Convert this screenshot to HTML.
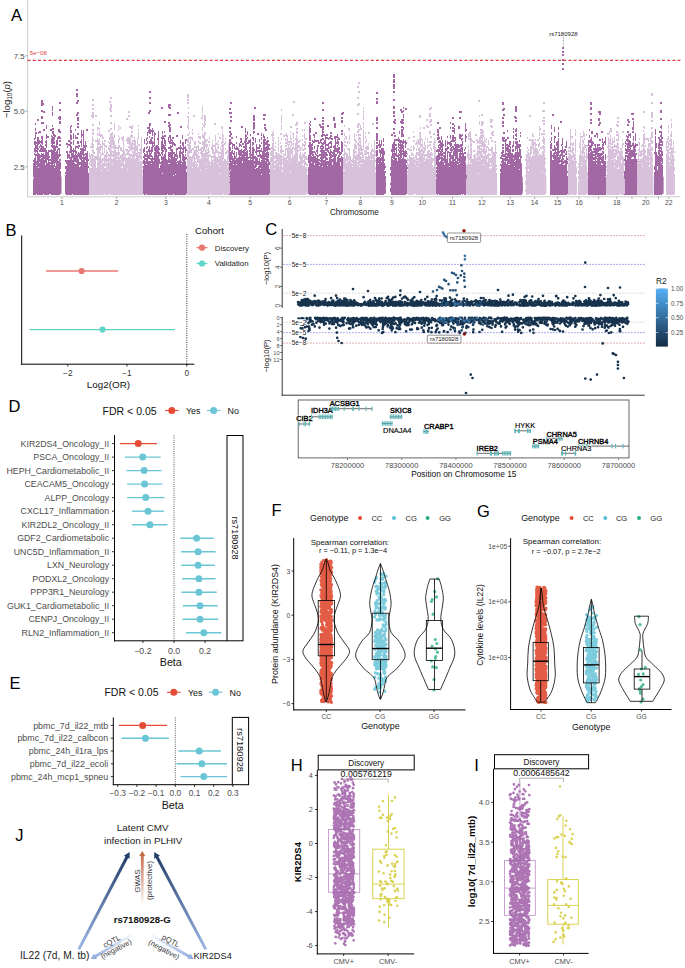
<!DOCTYPE html>
<html><head><meta charset="utf-8"><style>
html,body{margin:0;padding:0;background:#fff;}
body{width:685px;height:968px;overflow:hidden;}
svg{display:block;font-family:"Liberation Sans", sans-serif;}
</style></head><body>
<svg width="685" height="968" viewBox="0 0 685 968">
<rect width="685" height="968" fill="#fff"/>
<rect x="33.7" y="176.7" width="27.8" height="17.0" fill="#A168A4" stroke="none" stroke-width="1" /><rect x="65.7" y="176.7" width="23.4" height="17.0" fill="#A168A4" stroke="none" stroke-width="1" /><rect x="89.1" y="176.7" width="54.1" height="17.0" fill="#D8C1DB" stroke="none" stroke-width="1" /><rect x="143.2" y="176.7" width="44.0" height="17.0" fill="#A168A4" stroke="none" stroke-width="1" /><rect x="187.2" y="176.7" width="42.7" height="17.0" fill="#D8C1DB" stroke="none" stroke-width="1" /><rect x="229.9" y="176.7" width="40.2" height="17.0" fill="#A168A4" stroke="none" stroke-width="1" /><rect x="270.1" y="176.7" width="37.9" height="17.0" fill="#D8C1DB" stroke="none" stroke-width="1" /><rect x="308.0" y="176.7" width="35.6" height="17.0" fill="#A168A4" stroke="none" stroke-width="1" /><rect x="343.6" y="176.7" width="32.4" height="17.0" fill="#D8C1DB" stroke="none" stroke-width="1" /><rect x="376.0" y="176.7" width="9.8" height="17.0" fill="#A168A4" stroke="none" stroke-width="1" /><rect x="390.9" y="176.7" width="16.8" height="17.0" fill="#A168A4" stroke="none" stroke-width="1" /><rect x="407.7" y="176.7" width="28.9" height="17.0" fill="#D8C1DB" stroke="none" stroke-width="1" /><rect x="436.6" y="176.7" width="30.3" height="17.0" fill="#A168A4" stroke="none" stroke-width="1" /><rect x="466.9" y="176.7" width="30.2" height="17.0" fill="#D8C1DB" stroke="none" stroke-width="1" /><rect x="500.5" y="176.7" width="22.2" height="17.0" fill="#A168A4" stroke="none" stroke-width="1" /><rect x="525.9" y="176.7" width="20.5" height="17.0" fill="#D8C1DB" stroke="none" stroke-width="1" /><rect x="550.2" y="176.7" width="17.8" height="17.0" fill="#A168A4" stroke="none" stroke-width="1" /><rect x="568.0" y="176.7" width="9.0" height="17.0" fill="#D8C1DB" stroke="none" stroke-width="1" /><rect x="578.6" y="176.7" width="9.4" height="17.0" fill="#D8C1DB" stroke="none" stroke-width="1" /><rect x="588.0" y="176.7" width="18.7" height="17.0" fill="#A168A4" stroke="none" stroke-width="1" /><rect x="606.7" y="176.7" width="18.1" height="17.0" fill="#D8C1DB" stroke="none" stroke-width="1" /><rect x="624.8" y="176.7" width="12.9" height="17.0" fill="#A168A4" stroke="none" stroke-width="1" /><rect x="637.7" y="176.7" width="15.7" height="17.0" fill="#D8C1DB" stroke="none" stroke-width="1" /><rect x="654.7" y="176.7" width="8.9" height="17.0" fill="#A168A4" stroke="none" stroke-width="1" /><rect x="666.0" y="176.7" width="9.0" height="17.0" fill="#D8C1DB" stroke="none" stroke-width="1" /><path d="M33.5 160V162M33.5 163V177M33.5 179V195M34.5 138V140M34.5 141V145M34.5 148V152M34.5 153V155M34.5 158V195M35.5 123V125M35.5 128V131M35.5 132V139M35.5 141V153M35.5 154V195M36.5 132V134M36.5 142V144M36.5 145V149M36.5 150V152M36.5 154V156M36.5 161V165M36.5 166V194M37.5 119V121M37.5 137V195M38.5 119V121M38.5 132V134M38.5 137V145M38.5 148V150M38.5 153V167M38.5 168V195M39.5 131V133M39.5 140V144M39.5 146V148M39.5 150V152M39.5 154V162M39.5 163V195M40.5 131V133M40.5 141V143M40.5 144V147M40.5 148V152M40.5 155V158M40.5 159V195M41.5 100V106M41.5 110V112M41.5 116V119M41.5 122V124M41.5 136V139M41.5 140V144M41.5 145V152M41.5 153V157M41.5 158V195M42.5 100V106M42.5 110V112M42.5 116V119M42.5 122V124M42.5 136V145M42.5 146V152M42.5 154V195M43.5 103V105M43.5 111V113M43.5 122V124M43.5 129V131M43.5 146V152M43.5 153V194M44.5 111V113M44.5 129V131M44.5 148V152M44.5 155V159M44.5 160V195M45.5 141V143M45.5 144V146M45.5 148V163M45.5 165V195M46.5 125V129M46.5 134V139M46.5 140V148M46.5 150V195M47.5 136V138M47.5 152V160M47.5 163V195M48.5 136V138M48.5 150V195M49.5 150V152M49.5 156V158M49.5 159V161M49.5 162V194M50.5 129V131M50.5 150V152M50.5 159V161M50.5 162V164M50.5 165V194M51.5 129V131M51.5 135V137M51.5 138V144M51.5 145V147M51.5 149V195M52.5 106V111M52.5 112V116M52.5 125V127M52.5 128V130M52.5 131V134M52.5 136V148M52.5 150V195M53.5 128V130M53.5 131V136M53.5 137V144M53.5 145V164M53.5 165V195M54.5 134V140M54.5 141V144M54.5 145V167M54.5 168V195M55.5 135V137M55.5 146V151M55.5 152V163M55.5 166V195M56.5 140V148M56.5 151V195M57.5 137V145M57.5 146V148M57.5 149V195M58.5 117V119M58.5 129V132M58.5 136V139M58.5 148V150M58.5 154V159M58.5 161V195M59.5 102V104M59.5 109V111M59.5 116V120M59.5 121V124M59.5 129V133M59.5 136V139M59.5 140V142M59.5 144V146M59.5 148V157M59.5 159V195M60.5 102V104M60.5 109V111M60.5 116V120M60.5 121V124M60.5 131V133M60.5 137V139M60.5 140V142M60.5 144V146M60.5 154V156M60.5 159V161M60.5 162V169M60.5 171V194M65.5 160V162M65.5 166V169M65.5 172V174M65.5 175V194M66.5 143V145M66.5 151V153M66.5 160V164M66.5 166V195M67.5 143V145M67.5 146V148M67.5 151V159M67.5 160V195M68.5 140V142M68.5 144V146M68.5 154V158M68.5 160V195M69.5 140V142M69.5 144V146M69.5 151V153M69.5 154V159M69.5 160V195M70.5 126V133M70.5 134V140M70.5 141V153M70.5 157V195M71.5 125V127M71.5 130V133M71.5 135V140M71.5 142V144M71.5 146V195M72.5 150V152M72.5 153V158M72.5 160V194M73.5 133V139M73.5 140V145M73.5 148V195M74.5 150V152M74.5 155V162M74.5 163V195M75.5 129V131M75.5 135V139M75.5 146V162M75.5 164V195M76.5 89V91M76.5 93V97M76.5 102V104M76.5 114V116M76.5 137V139M76.5 146V148M76.5 151V154M76.5 155V163M76.5 164V195M77.5 89V91M77.5 93V97M77.5 100V104M77.5 112V116M77.5 117V121M77.5 123V125M77.5 126V128M77.5 133V135M77.5 137V139M77.5 141V144M77.5 146V148M77.5 154V195M78.5 100V102M78.5 112V114M78.5 117V121M78.5 123V125M78.5 126V128M78.5 133V135M78.5 141V144M78.5 145V149M78.5 152V157M78.5 159V195M79.5 145V147M79.5 153V159M79.5 162V165M79.5 167V195M80.5 141V143M80.5 148V150M80.5 151V160M80.5 162V165M80.5 166V195M81.5 130V138M81.5 139V147M81.5 148V195M82.5 134V136M82.5 148V155M82.5 157V159M82.5 160V195M83.5 130V195M84.5 145V148M84.5 149V151M84.5 154V156M84.5 157V195M85.5 141V151M85.5 153V155M85.5 156V160M85.5 162V195M86.5 129V131M86.5 145V147M86.5 153V195M87.5 129V131M87.5 151V195M88.5 159V161M88.5 166V168M88.5 173V178M88.5 179V188M88.5 189V195M143.5 149V153M143.5 156V158M143.5 160V164M143.5 166V194M144.5 139V144M144.5 147V152M144.5 153V195M145.5 154V157M145.5 158V160M145.5 161V195M146.5 138V141M146.5 143V145M146.5 147V149M146.5 151V153M146.5 154V157M146.5 158V164M146.5 165V194M147.5 127V129M147.5 132V136M147.5 137V139M147.5 141V144M147.5 146V148M147.5 151V195M148.5 112V114M148.5 127V129M148.5 130V133M148.5 149V152M148.5 155V159M148.5 161V195M149.5 91V93M149.5 97V99M149.5 102V104M149.5 110V114M149.5 123V134M149.5 136V138M149.5 141V144M149.5 146V159M149.5 161V195M150.5 91V93M150.5 97V99M150.5 102V104M150.5 110V112M150.5 123V126M150.5 129V134M150.5 139V144M150.5 150V152M150.5 153V157M150.5 158V160M150.5 161V195M151.5 130V132M151.5 137V144M151.5 147V154M151.5 155V157M151.5 158V163M151.5 164V195M152.5 128V136M152.5 137V139M152.5 141V152M152.5 156V195M153.5 130V132M153.5 142V144M153.5 145V147M153.5 158V160M153.5 161V195M154.5 132V146M154.5 147V151M154.5 152V195M155.5 133V135M155.5 146V195M156.5 145V195M157.5 138V140M157.5 145V154M157.5 155V195M158.5 131V145M158.5 146V195M159.5 148V150M159.5 152V156M159.5 159V164M159.5 168V195M160.5 154V156M160.5 162V164M160.5 165V195M161.5 107V109M161.5 137V139M161.5 141V151M161.5 152V154M161.5 156V160M161.5 161V195M162.5 107V109M162.5 131V134M162.5 135V156M162.5 157V173M162.5 174V195M163.5 136V139M163.5 144V149M163.5 150V152M163.5 156V195M164.5 121V123M164.5 131V133M164.5 135V137M164.5 138V144M164.5 145V150M164.5 154V195M165.5 121V123M165.5 135V137M165.5 140V146M165.5 147V195M166.5 149V152M166.5 159V195M167.5 160V194M168.5 104V108M168.5 114V116M168.5 122V124M168.5 125V127M168.5 137V142M168.5 147V149M168.5 152V163M168.5 164V195M169.5 104V109M169.5 114V116M169.5 122V132M169.5 135V138M169.5 141V144M169.5 147V149M169.5 152V157M169.5 158V163M169.5 164V195M170.5 104V106M170.5 107V109M170.5 114V116M170.5 124V126M170.5 127V132M170.5 135V144M170.5 145V151M170.5 152V158M170.5 159V195M171.5 139V141M171.5 142V144M171.5 146V148M171.5 149V195M172.5 137V139M172.5 140V147M172.5 149V195M173.5 137V139M173.5 142V145M173.5 152V154M173.5 157V175M173.5 176V194M174.5 143V146M174.5 152V195M175.5 144V146M175.5 154V157M175.5 158V174M175.5 175V195M176.5 135V137M176.5 148V157M176.5 158V161M176.5 162V195M177.5 112V114M177.5 135V137M177.5 148V150M177.5 155V159M177.5 161V163M177.5 164V195M178.5 112V114M178.5 147V149M178.5 161V195M179.5 147V149M179.5 151V158M179.5 160V195M180.5 126V128M180.5 140V144M180.5 145V195M181.5 126V128M181.5 147V149M181.5 152V154M181.5 161V163M181.5 164V195M182.5 135V139M182.5 142V146M182.5 148V150M182.5 151V161M182.5 162V195M183.5 142V153M183.5 154V195M184.5 147V149M184.5 156V195M185.5 139V144M185.5 146V153M185.5 154V156M185.5 157V160M185.5 161V195M186.5 139V141M186.5 149V151M186.5 157V159M186.5 166V169M186.5 172V193M229.5 108V110M229.5 112V114M229.5 127V129M229.5 131V133M229.5 135V137M229.5 139V162M229.5 163V183M229.5 186V195M230.5 102V104M230.5 108V110M230.5 112V114M230.5 116V118M230.5 120V122M230.5 127V129M230.5 131V137M230.5 139V145M230.5 147V151M230.5 152V170M230.5 171V195M231.5 102V104M231.5 112V114M231.5 116V118M231.5 120V122M231.5 133V135M231.5 137V139M231.5 142V144M231.5 151V160M231.5 161V195M232.5 137V139M232.5 143V149M232.5 150V154M232.5 156V195M233.5 144V146M233.5 153V155M233.5 158V164M233.5 165V195M234.5 144V149M234.5 151V195M235.5 148V150M235.5 156V159M235.5 160V195M236.5 136V138M236.5 142V144M236.5 146V150M236.5 152V157M236.5 158V164M236.5 165V195M237.5 147V150M237.5 158V195M238.5 148V155M238.5 157V195M239.5 143V147M239.5 150V195M240.5 138V140M240.5 141V143M240.5 144V146M240.5 150V156M240.5 157V195M241.5 126V128M241.5 138V143M241.5 145V147M241.5 149V195M242.5 126V128M242.5 143V145M242.5 151V153M242.5 154V161M242.5 163V195M243.5 143V145M243.5 146V148M243.5 150V195M244.5 141V143M244.5 146V148M244.5 149V195M245.5 128V133M245.5 134V151M245.5 152V156M245.5 157V195M246.5 135V137M246.5 138V142M246.5 143V150M246.5 151V195M247.5 131V135M247.5 137V139M247.5 142V144M247.5 150V195M248.5 140V144M248.5 157V159M248.5 160V195M249.5 140V143M249.5 147V149M249.5 150V152M249.5 153V155M249.5 156V158M249.5 160V195M250.5 134V136M250.5 139V195M251.5 154V156M251.5 157V159M251.5 160V195M252.5 137V139M252.5 142V146M252.5 147V195M253.5 115V121M253.5 122V130M253.5 131V134M253.5 137V141M253.5 142V145M253.5 147V195M254.5 107V109M254.5 115V121M254.5 122V129M254.5 131V133M254.5 149V151M254.5 156V159M254.5 161V164M254.5 165V195M255.5 107V109M255.5 138V143M255.5 151V153M255.5 156V168M255.5 169V195M256.5 144V155M256.5 157V167M256.5 168V195M257.5 133V135M257.5 147V149M257.5 150V152M257.5 155V157M257.5 158V165M257.5 168V195M258.5 133V135M258.5 147V149M258.5 150V152M258.5 155V157M258.5 161V165M258.5 166V195M259.5 139V142M259.5 144V149M259.5 150V157M259.5 158V195M260.5 145V147M260.5 150V152M260.5 154V158M260.5 162V168M260.5 169V195M261.5 133V136M261.5 137V140M261.5 142V144M261.5 148V152M261.5 155V159M261.5 160V174M261.5 175V195M262.5 151V195M263.5 114V116M263.5 118V120M263.5 134V138M263.5 139V195M264.5 114V116M264.5 118V120M264.5 124V126M264.5 127V129M264.5 136V195M265.5 114V116M265.5 124V126M265.5 127V131M265.5 139V141M265.5 142V145M265.5 147V152M265.5 153V157M265.5 158V160M265.5 161V195M266.5 129V131M266.5 141V145M266.5 146V151M266.5 152V195M267.5 137V139M267.5 140V162M267.5 163V195M268.5 140V142M268.5 144V150M268.5 152V158M268.5 159V195M269.5 144V146M269.5 148V150M269.5 162V165M269.5 169V173M269.5 174V193M308.5 145V147M308.5 155V163M308.5 167V194M309.5 123V125M309.5 126V141M309.5 142V195M310.5 121V123M310.5 124V126M310.5 128V133M310.5 135V141M310.5 142V195M311.5 144V155M311.5 156V162M311.5 163V195M312.5 140V142M312.5 143V146M312.5 147V150M312.5 151V156M312.5 157V195M313.5 134V136M313.5 141V143M313.5 151V153M313.5 154V195M314.5 118V120M314.5 134V138M314.5 139V143M314.5 146V149M314.5 151V153M314.5 156V163M314.5 165V195M315.5 118V120M315.5 132V134M315.5 140V142M315.5 152V155M315.5 156V195M316.5 132V134M316.5 140V142M316.5 150V152M316.5 154V156M316.5 158V195M317.5 140V142M317.5 145V154M317.5 155V195M318.5 140V144M318.5 145V147M318.5 155V157M318.5 159V194M319.5 124V126M319.5 142V144M319.5 154V156M319.5 159V161M319.5 162V165M319.5 166V195M320.5 124V128M320.5 139V143M320.5 146V149M320.5 150V152M320.5 154V156M320.5 157V159M320.5 160V162M320.5 163V195M321.5 126V128M321.5 135V137M321.5 139V141M321.5 142V144M321.5 145V147M321.5 148V195M322.5 102V104M322.5 109V111M322.5 117V119M322.5 120V122M322.5 123V125M322.5 126V137M322.5 138V140M322.5 143V166M322.5 167V195M323.5 102V104M323.5 109V111M323.5 117V119M323.5 120V122M323.5 123V125M323.5 126V130M323.5 131V133M323.5 134V136M323.5 138V140M323.5 142V145M323.5 146V149M323.5 150V159M323.5 160V195M324.5 134V136M324.5 140V144M324.5 150V158M324.5 160V195M325.5 135V151M325.5 152V195M326.5 134V136M326.5 137V139M326.5 144V146M326.5 148V151M326.5 152V156M326.5 157V160M326.5 161V195M327.5 125V127M327.5 134V136M327.5 137V139M327.5 144V146M327.5 148V152M327.5 154V156M327.5 158V160M327.5 161V165M327.5 166V194M328.5 125V127M328.5 138V140M328.5 143V149M328.5 150V153M328.5 161V195M329.5 137V139M329.5 142V144M329.5 147V149M329.5 152V156M329.5 157V195M330.5 132V134M330.5 135V139M330.5 141V144M330.5 146V148M330.5 149V195M331.5 132V134M331.5 135V137M331.5 138V140M331.5 141V148M331.5 151V153M331.5 154V158M331.5 159V195M332.5 138V140M332.5 152V154M332.5 155V157M332.5 159V162M332.5 165V195M333.5 117V121M333.5 146V148M333.5 150V157M333.5 158V195M334.5 117V121M334.5 123V128M334.5 136V139M334.5 145V195M335.5 123V128M335.5 136V152M335.5 154V195M336.5 136V138M336.5 142V144M336.5 148V152M336.5 154V156M336.5 162V195M337.5 134V138M337.5 139V144M337.5 145V147M337.5 148V154M337.5 157V195M338.5 137V140M338.5 141V145M338.5 147V153M338.5 155V195M339.5 138V140M339.5 147V150M339.5 151V157M339.5 158V195M340.5 152V155M340.5 158V162M340.5 166V195M341.5 113V115M341.5 117V119M341.5 120V123M341.5 130V132M341.5 133V135M341.5 141V154M341.5 156V195M342.5 112V115M342.5 117V119M342.5 120V123M342.5 130V132M342.5 133V135M342.5 142V152M342.5 157V194M343.5 112V114M343.5 171V173M343.5 181V183M343.5 187V189M343.5 192V194M376.5 92V94M376.5 98V100M376.5 101V104M376.5 117V121M376.5 122V124M376.5 127V129M376.5 133V141M376.5 142V144M376.5 145V149M376.5 150V157M376.5 158V195M377.5 92V94M377.5 98V100M377.5 101V104M377.5 117V121M377.5 122V124M377.5 127V129M377.5 133V141M377.5 142V144M377.5 145V149M377.5 150V156M377.5 157V195M378.5 144V146M378.5 157V163M378.5 164V195M379.5 140V148M379.5 149V153M379.5 157V195M380.5 144V148M380.5 150V157M380.5 158V195M381.5 140V146M381.5 148V154M381.5 157V161M381.5 162V195M382.5 148V195M383.5 138V142M383.5 144V146M383.5 148V195M384.5 151V155M384.5 159V161M384.5 163V170M384.5 171V194M385.5 166V168M385.5 171V173M385.5 176V178M385.5 182V187M385.5 190V193M390.5 167V170M390.5 173V176M390.5 183V185M390.5 188V192M391.5 134V136M391.5 149V152M391.5 156V195M392.5 134V136M392.5 144V158M392.5 159V195M393.5 74V78M393.5 79V83M393.5 84V89M393.5 91V93M393.5 99V101M393.5 106V109M393.5 111V114M393.5 115V117M393.5 121V123M393.5 128V130M393.5 132V134M393.5 142V152M393.5 153V159M393.5 160V195M394.5 74V78M394.5 79V83M394.5 84V89M394.5 91V93M394.5 99V101M394.5 106V109M394.5 111V114M394.5 115V117M394.5 119V124M394.5 128V130M394.5 132V134M394.5 135V137M394.5 139V195M395.5 119V121M395.5 122V124M395.5 135V137M395.5 139V141M395.5 144V146M395.5 148V150M395.5 153V156M395.5 158V195M396.5 139V141M396.5 144V146M396.5 147V157M396.5 158V195M397.5 139V141M397.5 155V157M397.5 161V195M398.5 137V142M398.5 143V148M398.5 149V151M398.5 153V195M399.5 131V134M399.5 139V143M399.5 144V146M399.5 147V149M399.5 150V153M399.5 154V156M399.5 157V195M400.5 109V111M400.5 121V123M400.5 140V195M401.5 109V113M401.5 119V124M401.5 126V128M401.5 129V137M401.5 140V143M401.5 144V158M401.5 159V195M402.5 111V113M402.5 119V124M402.5 126V128M402.5 129V137M402.5 141V149M402.5 150V152M402.5 153V155M402.5 158V195M403.5 107V109M403.5 110V112M403.5 114V118M403.5 119V121M403.5 122V124M403.5 127V130M403.5 134V137M403.5 139V144M403.5 145V195M404.5 141V143M404.5 151V157M404.5 159V195M405.5 108V110M405.5 140V148M405.5 150V157M405.5 159V195M406.5 108V110M406.5 142V144M406.5 151V154M406.5 155V157M406.5 160V163M406.5 165V194M407.5 167V169M407.5 174V176M407.5 186V188M407.5 190V193M436.5 150V152M436.5 156V165M436.5 167V169M436.5 170V173M436.5 174V177M436.5 179V194M437.5 122V124M437.5 129V133M437.5 134V136M437.5 137V140M437.5 149V152M437.5 155V195M438.5 122V124M438.5 129V140M438.5 141V143M438.5 145V148M438.5 149V194M439.5 127V129M439.5 137V139M439.5 140V143M439.5 144V146M439.5 147V152M439.5 153V160M439.5 162V195M440.5 127V129M440.5 140V150M440.5 151V156M440.5 157V159M440.5 161V195M441.5 136V140M441.5 142V148M441.5 149V195M442.5 140V152M442.5 153V156M442.5 157V195M443.5 144V146M443.5 152V154M443.5 155V157M443.5 158V161M443.5 162V195M444.5 152V154M444.5 155V163M444.5 165V195M445.5 140V147M445.5 148V195M446.5 148V151M446.5 159V195M447.5 136V138M447.5 141V145M447.5 146V150M447.5 151V195M448.5 142V144M448.5 147V149M448.5 151V153M448.5 163V195M449.5 142V145M449.5 152V157M449.5 158V166M449.5 167V195M450.5 122V124M450.5 127V129M450.5 135V139M450.5 141V147M450.5 148V151M450.5 152V195M451.5 140V142M451.5 143V146M451.5 147V153M451.5 155V159M451.5 161V195M452.5 117V119M452.5 123V125M452.5 127V129M452.5 130V132M452.5 135V142M452.5 146V148M452.5 149V151M452.5 155V195M453.5 117V119M453.5 123V125M453.5 127V129M453.5 130V132M453.5 135V142M453.5 146V150M453.5 151V195M454.5 125V127M454.5 128V134M454.5 137V139M454.5 140V142M454.5 144V146M454.5 148V156M454.5 159V161M454.5 162V195M455.5 137V141M455.5 142V195M456.5 144V159M456.5 161V195M457.5 144V164M457.5 165V195M458.5 126V129M458.5 144V148M458.5 149V152M458.5 158V161M458.5 162V195M459.5 111V113M459.5 117V119M459.5 126V129M459.5 134V139M459.5 145V148M459.5 149V152M459.5 153V163M459.5 164V195M460.5 111V113M460.5 117V119M460.5 134V139M460.5 144V147M460.5 148V195M461.5 111V113M461.5 135V137M461.5 138V141M461.5 144V152M461.5 153V155M461.5 156V194M462.5 134V136M462.5 138V140M462.5 141V146M462.5 147V195M463.5 153V194M464.5 149V151M464.5 152V154M464.5 156V195M465.5 123V132M465.5 134V142M465.5 147V149M465.5 152V154M465.5 156V161M465.5 162V195M466.5 129V131M466.5 136V138M466.5 165V167M466.5 170V172M466.5 175V177M466.5 179V194M500.5 157V159M500.5 164V166M500.5 169V172M500.5 173V195M501.5 152V154M501.5 155V159M501.5 161V163M501.5 164V195M502.5 102V105M502.5 109V111M502.5 117V119M502.5 121V124M502.5 125V127M502.5 137V141M502.5 144V146M502.5 147V149M502.5 150V157M502.5 158V195M503.5 102V105M503.5 108V111M503.5 114V116M503.5 117V119M503.5 121V124M503.5 125V127M503.5 132V134M503.5 137V142M503.5 144V146M503.5 147V149M503.5 150V153M503.5 154V157M503.5 158V195M504.5 108V110M504.5 114V116M504.5 132V134M504.5 137V139M504.5 140V142M504.5 154V157M504.5 158V161M504.5 162V195M505.5 139V195M506.5 139V141M506.5 144V146M506.5 147V151M506.5 153V155M506.5 156V161M506.5 164V195M507.5 130V132M507.5 137V139M507.5 144V152M507.5 153V195M508.5 137V139M508.5 145V158M508.5 159V164M508.5 165V195M509.5 141V147M509.5 149V164M509.5 165V195M510.5 141V145M510.5 146V195M511.5 153V195M512.5 145V148M512.5 149V152M512.5 153V195M513.5 128V130M513.5 131V133M513.5 135V139M513.5 141V147M513.5 149V152M513.5 155V158M513.5 159V195M514.5 116V118M514.5 154V161M514.5 162V166M514.5 167V195M515.5 106V112M515.5 116V119M515.5 120V122M515.5 129V132M515.5 134V136M515.5 138V140M515.5 141V144M515.5 146V151M515.5 152V160M515.5 161V195M516.5 106V112M516.5 117V119M516.5 120V122M516.5 128V132M516.5 133V137M516.5 138V140M516.5 141V149M516.5 152V195M517.5 141V195M518.5 144V148M518.5 152V195M519.5 140V142M519.5 144V157M519.5 159V169M519.5 170V195M520.5 132V134M520.5 135V137M520.5 144V147M520.5 149V195M521.5 156V158M521.5 163V195M522.5 183V185M522.5 186V188M522.5 189V191M550.5 141V143M550.5 144V149M550.5 150V195M551.5 125V129M551.5 132V135M551.5 137V141M551.5 143V149M551.5 151V195M552.5 114V116M552.5 149V151M552.5 155V157M552.5 160V195M553.5 114V116M553.5 149V151M553.5 153V159M553.5 160V195M554.5 127V132M554.5 136V143M554.5 145V151M554.5 152V195M555.5 136V138M555.5 147V154M555.5 155V195M556.5 142V146M556.5 148V150M556.5 152V195M557.5 141V195M558.5 127V130M558.5 132V137M558.5 138V156M558.5 157V195M559.5 151V153M559.5 155V163M559.5 164V195M560.5 121V123M560.5 150V152M560.5 154V159M560.5 160V162M560.5 164V195M561.5 121V123M561.5 144V146M561.5 150V156M561.5 159V195M562.5 47V49M562.5 51V53M562.5 54V56M562.5 59V61M562.5 63V65M562.5 68V70M562.5 138V145M562.5 146V195M563.5 47V49M563.5 51V53M563.5 54V56M563.5 59V61M563.5 63V65M563.5 68V70M563.5 150V153M563.5 155V157M563.5 158V160M563.5 161V164M563.5 165V195M564.5 149V153M564.5 155V157M564.5 160V163M564.5 165V195M565.5 146V148M565.5 149V151M565.5 153V155M565.5 160V195M566.5 141V148M566.5 151V155M566.5 156V195M567.5 158V160M567.5 161V164M567.5 171V173M567.5 176V179M567.5 180V194M588.5 140V146M588.5 147V195M589.5 129V131M589.5 135V138M589.5 140V143M589.5 145V152M589.5 153V195M590.5 102V105M590.5 107V110M590.5 113V115M590.5 119V121M590.5 122V124M590.5 139V143M590.5 145V151M590.5 152V195M591.5 102V105M591.5 107V110M591.5 113V115M591.5 119V121M591.5 122V124M591.5 131V134M591.5 137V148M591.5 149V195M592.5 131V134M592.5 141V146M592.5 151V195M593.5 142V144M593.5 148V150M593.5 151V153M593.5 154V156M593.5 157V160M593.5 161V195M594.5 135V137M594.5 144V146M594.5 148V153M594.5 154V156M594.5 157V160M594.5 161V195M595.5 135V137M595.5 144V195M596.5 133V135M596.5 148V155M596.5 156V159M596.5 161V163M596.5 164V195M597.5 133V138M597.5 144V157M597.5 158V195M598.5 111V113M598.5 118V121M598.5 124V126M598.5 144V146M598.5 147V152M598.5 153V195M599.5 111V115M599.5 118V121M599.5 122V126M599.5 139V141M599.5 144V146M599.5 147V151M599.5 153V195M600.5 111V115M600.5 122V124M600.5 139V141M600.5 147V151M600.5 153V160M600.5 161V195M601.5 131V133M601.5 148V150M601.5 153V156M601.5 157V163M601.5 165V195M602.5 131V133M602.5 138V143M602.5 144V149M602.5 151V155M602.5 156V164M602.5 165V195M603.5 142V146M603.5 147V150M603.5 151V154M603.5 155V195M604.5 141V143M604.5 161V195M605.5 137V145M605.5 154V160M605.5 161V176M605.5 177V195M606.5 186V188M606.5 189V194M624.5 159V161M624.5 171V195M625.5 141V144M625.5 145V147M625.5 148V151M625.5 152V154M625.5 155V195M626.5 135V137M626.5 139V141M626.5 143V145M626.5 149V154M626.5 155V157M626.5 160V195M627.5 119V121M627.5 124V126M627.5 131V133M627.5 136V142M627.5 143V154M627.5 155V195M628.5 119V123M628.5 124V126M628.5 131V133M628.5 134V138M628.5 139V152M628.5 153V195M629.5 121V123M629.5 134V136M629.5 140V148M629.5 149V195M630.5 133V138M630.5 141V195M631.5 113V115M631.5 145V147M631.5 150V158M631.5 159V195M632.5 113V115M632.5 118V120M632.5 127V130M632.5 131V133M632.5 143V146M632.5 150V157M632.5 159V195M633.5 113V115M633.5 118V120M633.5 121V130M633.5 131V133M633.5 136V141M633.5 142V157M633.5 159V195M634.5 145V195M635.5 133V141M635.5 143V148M635.5 149V152M635.5 153V195M636.5 144V146M636.5 153V155M636.5 159V195M637.5 144V146M637.5 160V162M637.5 172V174M637.5 180V182M637.5 183V187M637.5 190V192M654.5 152V154M654.5 166V170M654.5 172V195M655.5 129V135M655.5 136V195M656.5 143V148M656.5 152V195M657.5 155V166M657.5 170V195M658.5 137V139M658.5 143V149M658.5 150V155M658.5 156V195M659.5 131V133M659.5 137V195M660.5 102V104M660.5 110V113M660.5 118V120M660.5 126V128M660.5 131V133M660.5 135V137M660.5 139V143M660.5 144V146M660.5 147V149M660.5 150V152M660.5 154V195M661.5 102V104M661.5 110V113M661.5 118V120M661.5 125V129M661.5 131V143M661.5 144V146M661.5 147V162M661.5 163V195M662.5 137V139M662.5 141V146M662.5 151V156M662.5 158V164M662.5 165V194" stroke="#A168A4" stroke-width="1" fill="none"/><path d="M89.5 153V159M89.5 162V165M89.5 167V195M90.5 146V148M90.5 155V163M90.5 164V166M90.5 168V195M91.5 115V117M91.5 143V145M91.5 146V148M91.5 154V157M91.5 158V167M91.5 168V195M92.5 99V101M92.5 104V106M92.5 108V110M92.5 112V118M92.5 124V126M92.5 129V131M92.5 132V135M92.5 136V153M92.5 154V195M93.5 99V101M93.5 104V106M93.5 108V110M93.5 112V118M93.5 124V126M93.5 129V131M93.5 132V135M93.5 139V141M93.5 144V148M93.5 150V154M93.5 155V157M93.5 158V195M94.5 152V154M94.5 156V195M95.5 115V117M95.5 140V142M95.5 156V195M96.5 115V117M96.5 140V142M96.5 148V150M96.5 156V160M96.5 168V195M97.5 127V131M97.5 133V135M97.5 138V161M97.5 162V195M98.5 127V129M98.5 134V136M98.5 140V145M98.5 147V195M99.5 121V125M99.5 128V130M99.5 131V136M99.5 138V145M99.5 146V153M99.5 157V195M100.5 134V137M100.5 144V151M100.5 152V195M101.5 134V137M101.5 146V148M101.5 154V156M101.5 159V163M101.5 164V170M101.5 171V195M102.5 135V139M102.5 140V150M102.5 151V155M102.5 158V195M103.5 137V139M103.5 143V145M103.5 153V155M103.5 158V161M103.5 163V195M104.5 140V142M104.5 143V147M104.5 148V153M104.5 155V167M104.5 168V194M105.5 140V142M105.5 145V147M105.5 154V162M105.5 163V166M105.5 168V195M106.5 145V148M106.5 150V195M107.5 152V154M107.5 155V157M107.5 159V162M107.5 163V170M107.5 171V195M108.5 130V132M108.5 141V143M108.5 146V150M108.5 154V156M108.5 157V195M109.5 101V103M109.5 108V110M109.5 130V132M109.5 137V140M109.5 142V144M109.5 145V147M109.5 148V152M109.5 154V157M109.5 158V161M109.5 162V194M110.5 97V99M110.5 101V103M110.5 104V112M110.5 115V117M110.5 122V124M110.5 128V130M110.5 133V195M111.5 97V99M111.5 104V109M111.5 110V112M111.5 115V117M111.5 122V124M111.5 128V130M111.5 133V149M111.5 150V157M111.5 158V195M112.5 132V145M112.5 146V148M112.5 151V153M112.5 154V157M112.5 159V164M112.5 165V195M113.5 137V149M113.5 151V157M113.5 158V195M114.5 123V130M114.5 134V138M114.5 141V195M115.5 145V149M115.5 150V195M116.5 147V149M116.5 152V195M117.5 147V149M117.5 152V156M117.5 157V159M117.5 160V195M118.5 125V127M118.5 129V131M118.5 135V137M118.5 139V144M118.5 145V195M119.5 127V129M119.5 137V140M119.5 145V148M119.5 152V155M119.5 157V195M120.5 127V129M120.5 147V151M120.5 155V159M120.5 160V195M121.5 137V139M121.5 147V151M121.5 155V161M121.5 162V167M121.5 168V195M122.5 137V141M122.5 150V152M122.5 153V166M122.5 168V195M123.5 136V195M124.5 151V156M124.5 157V161M124.5 164V195M125.5 149V151M125.5 154V195M126.5 118V120M126.5 139V141M126.5 149V151M126.5 153V155M126.5 158V195M127.5 118V120M127.5 137V144M127.5 149V155M127.5 158V169M127.5 170V195M128.5 111V113M128.5 115V117M128.5 137V144M128.5 146V148M128.5 150V155M128.5 156V195M129.5 111V113M129.5 115V117M129.5 126V128M129.5 137V145M129.5 146V149M129.5 150V152M129.5 153V156M129.5 157V195M130.5 126V128M130.5 135V137M130.5 138V151M130.5 154V195M131.5 126V130M131.5 131V133M131.5 134V138M131.5 143V151M131.5 154V157M131.5 158V195M132.5 125V129M132.5 131V133M132.5 135V138M132.5 140V150M132.5 151V153M132.5 154V195M133.5 140V142M133.5 143V145M133.5 147V150M133.5 151V195M134.5 137V158M134.5 159V195M135.5 140V156M135.5 158V195M136.5 146V151M136.5 153V195M137.5 138V144M137.5 145V195M138.5 125V127M138.5 129V131M138.5 132V139M138.5 144V146M138.5 152V154M138.5 155V195M139.5 144V146M139.5 149V151M139.5 152V158M139.5 159V161M139.5 162V195M140.5 148V159M140.5 161V195M141.5 137V154M141.5 155V160M141.5 161V195M142.5 161V164M142.5 166V168M142.5 170V174M142.5 175V195M187.5 94V98M187.5 99V101M187.5 102V104M187.5 116V118M187.5 125V128M187.5 134V136M187.5 139V143M187.5 144V146M187.5 150V157M187.5 158V195M188.5 94V98M188.5 99V101M188.5 102V104M188.5 107V109M188.5 112V114M188.5 116V118M188.5 119V130M188.5 134V136M188.5 137V143M188.5 144V149M188.5 150V195M189.5 132V134M189.5 137V139M189.5 142V154M189.5 156V195M190.5 136V144M190.5 145V153M190.5 156V195M191.5 137V139M191.5 149V153M191.5 157V195M192.5 129V131M192.5 132V135M192.5 137V141M192.5 148V150M192.5 155V161M192.5 162V167M192.5 168V195M193.5 115V117M193.5 148V151M193.5 152V159M193.5 161V195M194.5 115V117M194.5 141V145M194.5 146V148M194.5 150V195M195.5 141V145M195.5 146V148M195.5 150V156M195.5 158V160M195.5 161V163M195.5 164V195M196.5 146V159M196.5 162V195M197.5 146V148M197.5 150V152M197.5 154V163M197.5 164V166M197.5 167V195M198.5 133V135M198.5 136V138M198.5 140V143M198.5 145V151M198.5 152V154M198.5 155V163M198.5 166V195M199.5 136V139M199.5 142V144M199.5 149V151M199.5 156V158M199.5 159V195M200.5 136V139M200.5 142V144M200.5 148V151M200.5 152V154M200.5 159V170M200.5 171V195M201.5 117V119M201.5 147V195M202.5 106V113M202.5 114V119M202.5 123V125M202.5 127V131M202.5 133V138M202.5 141V145M202.5 147V149M202.5 150V157M202.5 158V195M203.5 125V127M203.5 135V139M203.5 141V152M203.5 153V195M204.5 115V128M204.5 132V151M204.5 153V195M205.5 115V122M205.5 123V125M205.5 132V135M205.5 139V147M205.5 149V195M206.5 140V142M206.5 144V149M206.5 151V157M206.5 158V163M206.5 164V168M206.5 169V195M207.5 139V141M207.5 144V147M207.5 149V151M207.5 152V195M208.5 141V143M208.5 147V154M208.5 155V195M209.5 137V140M209.5 141V143M209.5 144V146M209.5 151V153M209.5 154V157M209.5 161V195M210.5 155V157M210.5 162V164M210.5 165V194M211.5 146V150M211.5 156V195M212.5 140V142M212.5 143V154M212.5 156V158M212.5 160V195M213.5 145V147M213.5 149V154M213.5 155V158M213.5 159V161M213.5 162V195M214.5 123V125M214.5 145V147M214.5 152V195M215.5 123V125M215.5 135V142M215.5 143V154M215.5 155V195M216.5 143V145M216.5 149V153M216.5 157V195M217.5 142V145M217.5 147V149M217.5 150V153M217.5 157V163M217.5 164V195M218.5 133V135M218.5 140V142M218.5 144V149M218.5 151V158M218.5 159V195M219.5 137V139M219.5 152V154M219.5 156V166M219.5 167V173M219.5 174V195M220.5 137V139M220.5 147V150M220.5 152V154M220.5 155V195M221.5 127V129M221.5 142V144M221.5 145V147M221.5 149V195M222.5 126V129M222.5 130V132M222.5 133V195M223.5 135V137M223.5 138V140M223.5 141V143M223.5 144V159M223.5 161V194M224.5 143V145M224.5 159V195M225.5 138V140M225.5 141V145M225.5 148V150M225.5 152V155M225.5 159V195M226.5 151V154M226.5 161V195M227.5 150V153M227.5 155V166M227.5 167V195M228.5 143V160M228.5 161V195M229.5 171V173M229.5 174V176M229.5 177V182M229.5 183V194M270.5 148V150M270.5 152V156M270.5 157V195M271.5 134V136M271.5 147V149M271.5 150V156M271.5 157V163M271.5 164V195M272.5 132V138M272.5 139V141M272.5 143V195M273.5 130V132M273.5 133V136M273.5 137V195M274.5 149V151M274.5 155V159M274.5 161V164M274.5 165V168M274.5 169V195M275.5 142V144M275.5 146V148M275.5 149V151M275.5 152V154M275.5 155V159M275.5 160V164M275.5 165V195M276.5 152V195M277.5 153V162M277.5 163V195M278.5 137V139M278.5 140V142M278.5 143V146M278.5 147V152M278.5 153V195M279.5 154V165M279.5 166V195M280.5 133V135M280.5 142V144M280.5 146V148M280.5 149V153M280.5 155V195M281.5 109V111M281.5 115V123M281.5 125V130M281.5 133V135M281.5 138V140M281.5 145V195M282.5 150V152M282.5 156V158M282.5 159V161M282.5 162V164M282.5 167V170M282.5 172V195M283.5 135V137M283.5 150V152M283.5 153V155M283.5 156V195M284.5 135V137M284.5 154V156M284.5 157V195M285.5 134V136M285.5 138V141M285.5 142V144M285.5 145V147M285.5 148V156M285.5 158V195M286.5 133V137M286.5 139V141M286.5 142V144M286.5 145V147M286.5 148V150M286.5 156V195M287.5 135V145M287.5 148V159M287.5 160V195M288.5 141V143M288.5 144V195M289.5 141V145M289.5 148V150M289.5 151V161M289.5 162V195M290.5 126V128M290.5 131V133M290.5 135V139M290.5 140V143M290.5 145V171M290.5 172V195M291.5 126V128M291.5 138V140M291.5 141V146M291.5 149V154M291.5 158V195M292.5 114V116M292.5 133V135M292.5 143V145M292.5 147V195M293.5 101V103M293.5 114V116M293.5 133V139M293.5 140V142M293.5 143V145M293.5 146V149M293.5 156V195M294.5 101V103M294.5 148V150M294.5 154V195M295.5 124V126M295.5 138V140M295.5 143V195M296.5 122V126M296.5 128V130M296.5 131V134M296.5 135V195M297.5 122V125M297.5 128V130M297.5 131V134M297.5 138V162M297.5 163V195M298.5 141V143M298.5 145V148M298.5 150V152M298.5 161V195M299.5 140V142M299.5 145V148M299.5 149V151M299.5 154V159M299.5 161V195M300.5 140V142M300.5 147V151M300.5 152V195M301.5 147V149M301.5 156V164M301.5 165V195M302.5 129V131M302.5 135V137M302.5 139V141M302.5 143V147M302.5 149V151M302.5 153V195M303.5 144V146M303.5 149V151M303.5 154V158M303.5 160V163M303.5 166V195M304.5 122V124M304.5 129V131M304.5 133V139M304.5 141V143M304.5 144V150M304.5 152V195M305.5 122V124M305.5 138V140M305.5 141V146M305.5 148V150M305.5 152V154M305.5 156V160M305.5 161V165M305.5 167V195M306.5 138V140M306.5 156V160M306.5 163V166M306.5 167V194M307.5 158V160M307.5 164V166M307.5 169V171M307.5 175V180M307.5 182V185M307.5 186V193M343.5 154V156M343.5 157V170M343.5 171V195M344.5 125V127M344.5 133V136M344.5 138V140M344.5 141V143M344.5 144V146M344.5 148V170M344.5 171V195M345.5 136V138M345.5 141V143M345.5 145V147M345.5 152V155M345.5 158V195M346.5 136V140M346.5 145V147M346.5 153V161M346.5 163V195M347.5 141V144M347.5 148V150M347.5 153V195M348.5 128V130M348.5 148V150M348.5 156V160M348.5 161V195M349.5 128V131M349.5 135V140M349.5 141V144M349.5 148V195M350.5 156V195M351.5 160V162M351.5 163V195M352.5 159V163M352.5 164V166M352.5 167V195M353.5 149V195M354.5 133V138M354.5 139V141M354.5 144V159M354.5 160V195M355.5 139V142M355.5 143V149M355.5 151V153M355.5 156V195M356.5 134V136M356.5 141V143M356.5 145V150M356.5 151V153M356.5 154V195M357.5 86V88M357.5 97V99M357.5 104V106M357.5 113V115M357.5 124V128M357.5 131V133M357.5 143V145M357.5 154V160M357.5 162V164M357.5 165V195M358.5 82V84M358.5 86V88M358.5 91V93M358.5 97V99M358.5 103V106M358.5 113V115M358.5 123V128M358.5 129V133M358.5 134V136M358.5 137V141M358.5 142V195M359.5 82V84M359.5 91V93M359.5 103V105M359.5 123V125M359.5 129V131M359.5 134V136M359.5 137V140M359.5 141V143M359.5 144V147M359.5 148V166M359.5 167V195M360.5 125V130M360.5 134V136M360.5 138V151M360.5 152V155M360.5 156V163M360.5 164V195M361.5 128V130M361.5 145V155M361.5 157V195M362.5 149V151M362.5 152V158M362.5 159V163M362.5 164V195M363.5 107V109M363.5 110V113M363.5 114V120M363.5 122V125M363.5 126V128M363.5 129V150M363.5 155V195M364.5 150V152M364.5 153V155M364.5 160V195M365.5 132V134M365.5 136V139M365.5 141V143M365.5 147V149M365.5 150V155M365.5 156V195M366.5 139V142M366.5 145V155M366.5 156V195M367.5 146V150M367.5 152V154M367.5 157V195M368.5 132V134M368.5 143V145M368.5 146V150M368.5 152V195M369.5 132V134M369.5 156V195M370.5 152V159M370.5 160V195M371.5 145V147M371.5 149V195M372.5 123V125M372.5 148V152M372.5 154V159M372.5 160V195M373.5 123V125M373.5 150V152M373.5 154V195M374.5 140V195M375.5 151V153M375.5 154V156M375.5 160V162M375.5 167V170M375.5 172V183M375.5 184V194M407.5 148V150M407.5 153V155M407.5 158V161M407.5 162V166M407.5 171V173M407.5 174V194M408.5 137V139M408.5 148V150M408.5 159V161M408.5 164V195M409.5 137V139M409.5 149V151M409.5 155V195M410.5 149V151M410.5 157V195M411.5 146V148M411.5 149V151M411.5 152V156M411.5 157V195M412.5 153V155M412.5 158V195M413.5 131V133M413.5 136V138M413.5 140V142M413.5 145V151M413.5 154V156M413.5 157V195M414.5 136V138M414.5 140V142M414.5 147V149M414.5 157V159M414.5 160V194M415.5 143V145M415.5 155V158M415.5 159V163M415.5 164V194M416.5 141V145M416.5 148V151M416.5 152V195M417.5 139V141M417.5 142V144M417.5 145V147M417.5 152V155M417.5 158V160M417.5 161V166M417.5 167V195M418.5 140V145M418.5 148V151M418.5 152V156M418.5 158V195M419.5 115V118M419.5 132V134M419.5 135V137M419.5 138V145M419.5 147V162M419.5 163V195M420.5 115V118M420.5 127V129M420.5 132V148M420.5 149V195M421.5 138V140M421.5 144V147M421.5 149V152M421.5 153V195M422.5 139V142M422.5 143V195M423.5 127V129M423.5 147V149M423.5 150V156M423.5 157V195M424.5 127V129M424.5 141V146M424.5 147V153M424.5 154V160M424.5 161V195M425.5 138V140M425.5 145V150M425.5 154V157M425.5 159V195M426.5 119V121M426.5 125V127M426.5 154V156M426.5 158V195M427.5 119V121M427.5 125V128M427.5 138V140M427.5 141V143M427.5 145V149M427.5 151V195M428.5 126V128M428.5 145V147M428.5 150V158M428.5 159V195M429.5 108V110M429.5 113V117M429.5 121V123M429.5 131V134M429.5 141V143M429.5 144V146M429.5 150V152M429.5 153V195M430.5 107V110M430.5 113V117M430.5 119V123M430.5 124V126M430.5 131V134M430.5 136V138M430.5 141V143M430.5 144V146M430.5 147V149M430.5 152V195M431.5 107V109M431.5 119V122M431.5 124V126M431.5 136V138M431.5 141V143M431.5 148V151M431.5 152V156M431.5 157V195M432.5 153V156M432.5 158V163M432.5 165V195M433.5 133V135M433.5 143V145M433.5 146V149M433.5 158V161M433.5 167V171M433.5 172V195M434.5 133V135M434.5 138V195M435.5 141V143M435.5 147V154M435.5 155V195M466.5 165V175M466.5 179V194M467.5 153V158M467.5 164V195M468.5 133V140M468.5 145V148M468.5 149V195M469.5 132V137M469.5 138V140M469.5 154V156M469.5 157V160M469.5 164V195M470.5 131V195M471.5 138V142M471.5 143V147M471.5 148V163M471.5 164V195M472.5 140V142M472.5 159V195M473.5 141V143M473.5 150V152M473.5 155V157M473.5 158V195M474.5 141V143M474.5 150V152M474.5 154V195M475.5 134V136M475.5 155V195M476.5 134V136M476.5 139V141M476.5 153V155M476.5 158V195M477.5 139V144M477.5 145V150M477.5 151V195M478.5 100V102M478.5 141V143M478.5 146V149M478.5 150V154M478.5 155V160M478.5 161V173M478.5 174V195M479.5 100V102M479.5 115V117M479.5 121V125M479.5 137V144M479.5 145V155M479.5 156V195M480.5 129V131M480.5 132V134M480.5 135V144M480.5 145V147M480.5 148V150M480.5 151V195M481.5 114V116M481.5 121V126M481.5 129V134M481.5 135V139M481.5 140V147M481.5 148V158M481.5 160V195M482.5 114V116M482.5 121V126M482.5 129V147M482.5 149V152M482.5 154V195M483.5 122V124M483.5 131V133M483.5 134V137M483.5 141V154M483.5 156V164M483.5 165V195M484.5 137V141M484.5 142V154M484.5 155V195M485.5 140V142M485.5 144V147M485.5 150V195M486.5 138V140M486.5 141V143M486.5 146V153M486.5 155V195M487.5 146V148M487.5 154V159M487.5 162V195M488.5 140V145M488.5 147V151M488.5 153V195M489.5 149V151M489.5 153V156M489.5 158V167M489.5 168V195M490.5 119V123M490.5 125V127M490.5 137V139M490.5 149V151M490.5 154V156M490.5 158V163M490.5 165V167M490.5 169V195M491.5 119V123M491.5 125V128M491.5 132V135M491.5 137V139M491.5 140V142M491.5 147V153M491.5 157V166M491.5 168V195M492.5 119V121M492.5 126V128M492.5 131V136M492.5 140V142M492.5 147V195M493.5 131V133M493.5 134V136M493.5 152V195M494.5 141V143M494.5 152V195M495.5 141V143M495.5 144V195M496.5 152V154M496.5 165V167M496.5 168V170M496.5 173V195M525.5 159V161M525.5 167V169M525.5 175V177M525.5 181V185M525.5 189V192M526.5 154V195M527.5 137V139M527.5 147V149M527.5 151V153M527.5 154V158M527.5 159V195M528.5 149V151M528.5 152V163M528.5 164V169M528.5 171V195M529.5 115V117M529.5 139V141M529.5 153V155M529.5 156V194M530.5 115V117M530.5 139V141M530.5 146V194M531.5 140V142M531.5 143V145M531.5 146V154M531.5 157V195M532.5 133V137M532.5 139V149M532.5 156V195M533.5 135V137M533.5 139V195M534.5 142V145M534.5 148V154M534.5 155V195M535.5 139V141M535.5 142V195M536.5 144V146M536.5 148V195M537.5 139V141M537.5 149V195M538.5 139V141M538.5 144V148M538.5 151V154M538.5 155V195M539.5 126V131M539.5 132V136M539.5 137V139M539.5 142V146M539.5 149V151M539.5 154V195M540.5 128V130M540.5 147V149M540.5 154V195M541.5 133V135M541.5 147V149M541.5 155V195M542.5 110V112M542.5 120V122M542.5 133V135M542.5 140V142M542.5 146V148M542.5 151V171M542.5 172V195M543.5 102V104M543.5 110V112M543.5 117V119M543.5 120V122M543.5 123V125M543.5 130V132M543.5 133V135M543.5 136V144M543.5 145V150M543.5 151V195M544.5 102V104M544.5 110V112M544.5 117V119M544.5 120V122M544.5 123V125M544.5 130V132M544.5 133V135M544.5 138V145M544.5 146V153M544.5 154V195M545.5 158V160M545.5 162V164M545.5 168V173M545.5 174V182M545.5 183V194M568.5 147V149M568.5 150V152M568.5 153V155M568.5 156V161M568.5 163V195M569.5 146V149M569.5 150V152M569.5 153V195M570.5 129V141M570.5 142V153M570.5 154V195M571.5 136V138M571.5 143V145M571.5 150V152M571.5 155V194M572.5 136V138M572.5 143V146M572.5 147V154M572.5 155V159M572.5 160V195M573.5 142V146M573.5 148V151M573.5 152V158M573.5 159V195M574.5 154V160M574.5 161V195M575.5 129V131M575.5 132V136M575.5 139V153M575.5 154V156M575.5 157V195M576.5 161V163M576.5 167V174M576.5 178V194M578.5 163V165M578.5 166V168M578.5 170V175M578.5 176V179M578.5 182V195M579.5 143V145M579.5 146V148M579.5 155V195M580.5 133V135M580.5 136V138M580.5 139V195M581.5 136V138M581.5 151V153M581.5 155V162M581.5 163V165M581.5 166V195M582.5 136V138M582.5 139V143M582.5 144V146M582.5 147V195M583.5 131V137M583.5 140V144M583.5 146V154M583.5 156V195M584.5 133V137M584.5 138V140M584.5 144V150M584.5 152V195M585.5 145V148M585.5 156V158M585.5 160V195M586.5 134V136M586.5 145V147M586.5 148V164M586.5 165V194M587.5 145V147M587.5 154V159M587.5 172V176M587.5 178V181M587.5 182V184M587.5 186V194M606.5 166V168M606.5 169V171M606.5 175V194M607.5 133V135M607.5 146V148M607.5 156V158M607.5 161V195M608.5 133V135M608.5 137V195M609.5 131V134M609.5 139V141M609.5 142V144M609.5 145V147M609.5 149V195M610.5 128V132M610.5 135V145M610.5 146V195M611.5 128V132M611.5 143V145M611.5 147V149M611.5 150V195M612.5 138V145M612.5 146V159M612.5 160V195M613.5 141V143M613.5 146V148M613.5 149V195M614.5 137V143M614.5 144V148M614.5 149V151M614.5 153V158M614.5 159V161M614.5 162V166M614.5 167V195M615.5 145V147M615.5 149V158M615.5 159V195M616.5 124V126M616.5 131V133M616.5 134V136M616.5 139V141M616.5 145V148M616.5 149V156M616.5 160V195M617.5 117V119M617.5 121V123M617.5 124V127M617.5 131V133M617.5 134V136M617.5 139V141M617.5 142V154M617.5 155V168M617.5 169V195M618.5 117V119M618.5 121V123M618.5 125V127M618.5 133V141M618.5 143V145M618.5 146V149M618.5 150V154M618.5 156V167M618.5 169V195M619.5 151V195M620.5 148V150M620.5 151V194M621.5 148V160M621.5 163V195M622.5 131V133M622.5 139V141M622.5 143V148M622.5 151V154M622.5 155V195M623.5 131V133M623.5 143V145M623.5 157V174M623.5 175V195M624.5 163V166M624.5 179V194M637.5 159V161M637.5 163V177M637.5 178V195M638.5 142V144M638.5 149V151M638.5 153V160M638.5 161V195M639.5 138V140M639.5 142V146M639.5 147V153M639.5 154V156M639.5 159V195M640.5 151V157M640.5 159V195M641.5 145V147M641.5 150V157M641.5 158V195M642.5 144V146M642.5 150V152M642.5 153V155M642.5 158V163M642.5 164V166M642.5 167V195M643.5 111V113M643.5 126V128M643.5 130V132M643.5 134V195M644.5 111V113M644.5 127V129M644.5 133V144M644.5 145V147M644.5 148V195M645.5 138V140M645.5 145V147M645.5 150V153M645.5 155V195M646.5 138V140M646.5 156V161M646.5 162V195M647.5 138V140M647.5 148V195M648.5 138V142M648.5 143V195M649.5 143V147M649.5 149V156M649.5 157V161M649.5 162V165M649.5 167V195M650.5 137V142M650.5 143V195M651.5 93V96M651.5 102V104M651.5 112V118M651.5 120V122M651.5 127V129M651.5 132V139M651.5 140V144M651.5 147V151M651.5 152V195M652.5 93V96M652.5 102V104M652.5 112V118M652.5 120V122M652.5 127V129M652.5 132V138M652.5 140V144M652.5 147V151M652.5 154V156M652.5 157V163M652.5 164V195M666.5 141V151M666.5 153V195M667.5 138V143M667.5 146V148M667.5 149V153M667.5 154V195M668.5 125V129M668.5 130V133M668.5 136V140M668.5 142V148M668.5 149V195M669.5 140V142M669.5 143V145M669.5 148V150M669.5 152V154M669.5 157V160M669.5 162V195M670.5 134V137M670.5 138V142M670.5 143V150M670.5 152V154M670.5 155V164M670.5 165V195M671.5 119V121M671.5 123V128M671.5 131V137M671.5 139V146M671.5 147V157M671.5 158V195M672.5 148V195M673.5 141V145M673.5 146V150M673.5 151V153M673.5 155V195M674.5 151V153M674.5 159V161M674.5 167V171M674.5 174V177M674.5 179V194" stroke="#D8C1DB" stroke-width="1" fill="none"/><line x1="27.6" y1="0.0" x2="27.6" y2="196.8" stroke="#cccccc" stroke-width="1" /><line x1="27.6" y1="196.8" x2="680.4" y2="196.8" stroke="#cccccc" stroke-width="1" /><line x1="25.3" y1="166.7" x2="27.6" y2="166.7" stroke="#999" stroke-width="0.8" /><text x="24.5" y="169.5" font-size="7.8" text-anchor="end" fill="#4d4d4d" >2.5</text><line x1="25.3" y1="111.2" x2="27.6" y2="111.2" stroke="#999" stroke-width="0.8" /><text x="24.5" y="114.1" font-size="7.8" text-anchor="end" fill="#4d4d4d" >5.0</text><line x1="25.3" y1="55.8" x2="27.6" y2="55.8" stroke="#999" stroke-width="0.8" /><text x="24.5" y="58.6" font-size="7.8" text-anchor="end" fill="#4d4d4d" >7.5</text><line x1="62.0" y1="196.8" x2="62.0" y2="199.0" stroke="#999" stroke-width="0.8" /><text x="62.0" y="205.4" font-size="6.8" text-anchor="middle" fill="#4d4d4d" >1</text><line x1="116.7" y1="196.8" x2="116.7" y2="199.0" stroke="#999" stroke-width="0.8" /><text x="116.7" y="205.4" font-size="6.8" text-anchor="middle" fill="#4d4d4d" >2</text><line x1="165.8" y1="196.8" x2="165.8" y2="199.0" stroke="#999" stroke-width="0.8" /><text x="165.8" y="205.4" font-size="6.8" text-anchor="middle" fill="#4d4d4d" >3</text><line x1="208.9" y1="196.8" x2="208.9" y2="199.0" stroke="#999" stroke-width="0.8" /><text x="208.9" y="205.4" font-size="6.8" text-anchor="middle" fill="#4d4d4d" >4</text><line x1="250.2" y1="196.8" x2="250.2" y2="199.0" stroke="#999" stroke-width="0.8" /><text x="250.2" y="205.4" font-size="6.8" text-anchor="middle" fill="#4d4d4d" >5</text><line x1="289.6" y1="196.8" x2="289.6" y2="199.0" stroke="#999" stroke-width="0.8" /><text x="289.6" y="205.4" font-size="6.8" text-anchor="middle" fill="#4d4d4d" >6</text><line x1="326.3" y1="196.8" x2="326.3" y2="199.0" stroke="#999" stroke-width="0.8" /><text x="326.3" y="205.4" font-size="6.8" text-anchor="middle" fill="#4d4d4d" >7</text><line x1="360.5" y1="196.8" x2="360.5" y2="199.0" stroke="#999" stroke-width="0.8" /><text x="360.5" y="205.4" font-size="6.8" text-anchor="middle" fill="#4d4d4d" >8</text><line x1="391.8" y1="196.8" x2="391.8" y2="199.0" stroke="#999" stroke-width="0.8" /><text x="391.8" y="205.4" font-size="6.8" text-anchor="middle" fill="#4d4d4d" >9</text><line x1="422.2" y1="196.8" x2="422.2" y2="199.0" stroke="#999" stroke-width="0.8" /><text x="422.2" y="205.4" font-size="6.8" text-anchor="middle" fill="#4d4d4d" >10</text><line x1="452.5" y1="196.8" x2="452.5" y2="199.0" stroke="#999" stroke-width="0.8" /><text x="452.5" y="205.4" font-size="6.8" text-anchor="middle" fill="#4d4d4d" >11</text><line x1="481.9" y1="196.8" x2="481.9" y2="199.0" stroke="#999" stroke-width="0.8" /><text x="481.9" y="205.4" font-size="6.8" text-anchor="middle" fill="#4d4d4d" >12</text><line x1="510.2" y1="196.8" x2="510.2" y2="199.0" stroke="#999" stroke-width="0.8" /><text x="510.2" y="205.4" font-size="6.8" text-anchor="middle" fill="#4d4d4d" >13</text><line x1="534.6" y1="196.8" x2="534.6" y2="199.0" stroke="#999" stroke-width="0.8" /><text x="534.6" y="205.4" font-size="6.8" text-anchor="middle" fill="#4d4d4d" >14</text><line x1="557.5" y1="196.8" x2="557.5" y2="199.0" stroke="#999" stroke-width="0.8" /><text x="557.5" y="205.4" font-size="6.8" text-anchor="middle" fill="#4d4d4d" >15</text><line x1="579.1" y1="196.8" x2="579.1" y2="199.0" stroke="#999" stroke-width="0.8" /><text x="579.1" y="205.4" font-size="6.8" text-anchor="middle" fill="#4d4d4d" >16</text><line x1="598.6" y1="196.8" x2="598.6" y2="199.0" stroke="#999" stroke-width="0.8" /><line x1="616.7" y1="196.8" x2="616.7" y2="199.0" stroke="#999" stroke-width="0.8" /><text x="616.7" y="205.4" font-size="6.8" text-anchor="middle" fill="#4d4d4d" >18</text><line x1="632.0" y1="196.8" x2="632.0" y2="199.0" stroke="#999" stroke-width="0.8" /><line x1="645.8" y1="196.8" x2="645.8" y2="199.0" stroke="#999" stroke-width="0.8" /><text x="645.8" y="205.4" font-size="6.8" text-anchor="middle" fill="#4d4d4d" >20</text><line x1="658.5" y1="196.8" x2="658.5" y2="199.0" stroke="#999" stroke-width="0.8" /><line x1="668.8" y1="196.8" x2="668.8" y2="199.0" stroke="#999" stroke-width="0.8" /><text x="668.8" y="205.4" font-size="6.8" text-anchor="middle" fill="#4d4d4d" >22</text><text x="354.3" y="214.7" font-size="8.15" text-anchor="middle" fill="#222" >Chromosome</text><text transform="translate(9.8,99.5) rotate(-90)" x="0" y="0" font-size="9.5" text-anchor="middle" fill="#222">−log<tspan font-size="6.5" dy="2">10</tspan><tspan dy="-2">(</tspan><tspan font-style="italic">p</tspan>)</text><line x1="27.6" y1="60.3" x2="680.4" y2="60.3" stroke="#E03A3A" stroke-width="1.2" stroke-dasharray="3,2.2"/><text x="29.8" y="54.9" font-size="6.05" text-anchor="start" fill="#E03A3A" >5e−08</text><line x1="563.4" y1="36.8" x2="563.4" y2="48.5" stroke="#555" stroke-width="0.6" stroke-dasharray="0.8,0.8"/><text x="563.4" y="36.4" font-size="6.03" text-anchor="middle" fill="#222" >rs7180928</text><text x="11.0" y="20.9" font-size="16.5" text-anchor="start" fill="#000" >A</text><text x="5.5" y="235.5" font-size="16.5" text-anchor="start" fill="#000" >B</text><line x1="21.7" y1="235.5" x2="21.7" y2="364.7" stroke="#000" stroke-width="1" /><line x1="21.2" y1="364.2" x2="194.3" y2="364.2" stroke="#000" stroke-width="1" /><line x1="186.8" y1="234.0" x2="186.8" y2="364.2" stroke="#000" stroke-width="0.9" stroke-dasharray="0.9,1.4"/><line x1="46.0" y1="271.0" x2="118.2" y2="271.0" stroke="#E8776F" stroke-width="1.3" /><circle cx="81.6" cy="271.0" r="3.1" fill="#E8776F"/><line x1="29.6" y1="329.6" x2="175.0" y2="329.6" stroke="#5FD3C6" stroke-width="1.3" /><circle cx="102.5" cy="329.6" r="3.1" fill="#5FD3C6"/><line x1="67.8" y1="364.2" x2="67.8" y2="366.5" stroke="#000" stroke-width="0.8" /><text x="67.8" y="376.3" font-size="8.3" text-anchor="middle" fill="#333" >−2</text><line x1="126.9" y1="364.2" x2="126.9" y2="366.5" stroke="#000" stroke-width="0.8" /><text x="126.9" y="376.3" font-size="8.3" text-anchor="middle" fill="#333" >−1</text><line x1="186.8" y1="364.2" x2="186.8" y2="366.5" stroke="#000" stroke-width="0.8" /><text x="186.8" y="376.3" font-size="8.3" text-anchor="middle" fill="#333" >0</text><text x="108.4" y="387.6" font-size="9.87" text-anchor="middle" fill="#111" >Log2(OR)</text><text x="195.1" y="234.3" font-size="9.6" text-anchor="start" fill="#111" >Cohort</text><line x1="196.5" y1="247.7" x2="207.5" y2="247.7" stroke="#E8776F" stroke-width="1.3" /><circle cx="202.0" cy="247.7" r="3.1" fill="#E8776F"/><text x="214.8" y="250.5" font-size="7.8" text-anchor="start" fill="#222" >Discovery</text><line x1="196.5" y1="263.5" x2="207.5" y2="263.5" stroke="#5FD3C6" stroke-width="1.3" /><circle cx="202.0" cy="263.5" r="3.1" fill="#5FD3C6"/><text x="214.8" y="266.3" font-size="7.8" text-anchor="start" fill="#222" >Validation</text><text x="265.2" y="235.4" font-size="16.5" text-anchor="start" fill="#000" >C</text><line x1="282.2" y1="229.0" x2="282.2" y2="307.8" stroke="#222" stroke-width="0.9" /><line x1="282.2" y1="316.9" x2="282.2" y2="395.7" stroke="#222" stroke-width="0.9" /><line x1="281.7" y1="395.2" x2="644.7" y2="395.2" stroke="#222" stroke-width="0.9" /><line x1="280.2" y1="305.7" x2="282.2" y2="305.7" stroke="#333" stroke-width="0.7" /><text transform="translate(277.3,305.7) rotate(-90)" x="0" y="2.34" font-size="6.5" text-anchor="middle" fill="#4d4d4d">0</text><line x1="280.2" y1="286.5" x2="282.2" y2="286.5" stroke="#333" stroke-width="0.7" /><text transform="translate(277.3,286.5) rotate(-90)" x="0" y="2.34" font-size="6.5" text-anchor="middle" fill="#4d4d4d">2</text><line x1="280.2" y1="267.3" x2="282.2" y2="267.3" stroke="#333" stroke-width="0.7" /><text transform="translate(277.3,267.3) rotate(-90)" x="0" y="2.34" font-size="6.5" text-anchor="middle" fill="#4d4d4d">4</text><line x1="280.2" y1="248.1" x2="282.2" y2="248.1" stroke="#333" stroke-width="0.7" /><text transform="translate(277.3,248.1) rotate(-90)" x="0" y="2.34" font-size="6.5" text-anchor="middle" fill="#4d4d4d">6</text><line x1="280.2" y1="317.7" x2="282.2" y2="317.7" stroke="#333" stroke-width="0.7" /><text x="279.5" y="319.7" font-size="5.6" text-anchor="end" fill="#4d4d4d" >0</text><line x1="280.2" y1="324.7" x2="282.2" y2="324.7" stroke="#333" stroke-width="0.7" /><text x="279.5" y="326.7" font-size="5.6" text-anchor="end" fill="#4d4d4d" >2</text><line x1="280.2" y1="331.6" x2="282.2" y2="331.6" stroke="#333" stroke-width="0.7" /><text x="279.5" y="333.6" font-size="5.6" text-anchor="end" fill="#4d4d4d" >4</text><line x1="280.2" y1="338.6" x2="282.2" y2="338.6" stroke="#333" stroke-width="0.7" /><text x="279.5" y="340.6" font-size="5.6" text-anchor="end" fill="#4d4d4d" >6</text><line x1="280.2" y1="345.5" x2="282.2" y2="345.5" stroke="#333" stroke-width="0.7" /><text x="279.5" y="347.6" font-size="5.6" text-anchor="end" fill="#4d4d4d" >8</text><line x1="280.2" y1="352.5" x2="282.2" y2="352.5" stroke="#333" stroke-width="0.7" /><text x="279.5" y="354.5" font-size="5.6" text-anchor="end" fill="#4d4d4d" >10</text><line x1="280.2" y1="359.5" x2="282.2" y2="359.5" stroke="#333" stroke-width="0.7" /><text x="279.5" y="361.5" font-size="5.6" text-anchor="end" fill="#4d4d4d" >12</text><text transform="translate(266.3,268.5) rotate(-90)" x="0" y="2.74" font-size="7.6" text-anchor="middle" fill="#222">−log10(P)</text><text transform="translate(266.5,356.0) rotate(-90)" x="0" y="2.74" font-size="7.6" text-anchor="middle" fill="#222">−log10(P)</text><line x1="283.5" y1="235.6" x2="644.7" y2="235.6" stroke="#B04040" stroke-width="0.9" stroke-dasharray="0.9,2.1"/><line x1="283.5" y1="264.4" x2="644.7" y2="264.4" stroke="#3030E0" stroke-width="0.9" stroke-dasharray="0.9,2.1"/><line x1="283.5" y1="293.2" x2="644.7" y2="293.2" stroke="#AAAAAA" stroke-width="0.9" stroke-dasharray="0.9,2.1"/><line x1="283.5" y1="322.2" x2="644.7" y2="322.2" stroke="#AAAAAA" stroke-width="0.9" stroke-dasharray="0.9,2.1"/><line x1="283.5" y1="332.7" x2="644.7" y2="332.7" stroke="#3030E0" stroke-width="0.9" stroke-dasharray="0.9,2.1"/><line x1="283.5" y1="343.1" x2="644.7" y2="343.1" stroke="#B04040" stroke-width="0.9" stroke-dasharray="0.9,2.1"/><path d="M340.4 304.5h0M463.0 304.8h0M496.8 303.8h0M307.4 304.9h0M346.8 302.2h0M604.8 304.1h0M321.2 302.7h0M340.8 303.3h0M611.4 302.7h0M503.5 303.5h0M419.9 305.2h0M467.0 299.6h0M517.0 303.7h0M388.9 300.2h0M343.5 300.9h0M558.4 304.1h0M519.5 305.5h0M467.3 304.4h0M567.9 303.3h0M479.4 305.6h0M622.2 302.7h0M365.5 303.7h0M481.0 304.1h0M457.8 302.1h0M414.7 304.7h0M493.5 305.0h0M375.7 305.7h0M563.1 304.3h0M584.6 303.6h0M340.5 304.3h0M452.3 305.4h0M389.5 302.0h0M325.4 304.1h0M594.1 302.0h0M440.0 300.4h0M346.7 305.6h0M520.5 305.6h0M364.8 301.8h0M595.9 301.9h0M369.7 304.8h0M308.8 303.8h0M364.3 303.6h0M412.2 304.2h0M452.9 303.4h0M597.5 305.3h0M528.4 305.3h0M410.1 304.4h0M303.5 300.0h0M350.7 303.4h0M627.3 304.8h0M449.9 305.5h0M526.4 304.6h0M316.0 304.6h0M309.2 303.9h0M577.6 303.5h0M492.3 303.5h0M400.0 305.7h0M402.8 304.8h0M327.4 303.3h0M355.0 301.6h0M306.0 305.4h0M575.3 303.3h0M452.1 300.0h0M340.0 305.4h0M542.3 305.1h0M362.6 304.6h0M318.4 300.7h0M495.7 303.1h0M594.0 305.2h0M306.8 303.6h0M564.1 305.3h0M360.8 305.6h0M328.6 302.8h0M303.8 301.8h0M394.8 305.6h0M538.3 301.4h0M460.9 304.3h0M579.9 305.2h0M369.7 303.3h0M402.1 298.6h0M383.2 305.4h0M621.3 302.6h0M609.0 304.4h0M410.5 300.7h0M401.8 305.5h0M544.7 303.1h0M311.1 303.3h0M320.2 304.9h0M431.5 304.7h0M378.9 300.8h0M577.3 302.8h0M543.1 305.2h0M478.3 302.8h0M516.6 302.9h0M526.8 304.9h0M556.1 296.2h0M604.5 303.3h0M347.4 300.1h0M504.9 305.3h0M345.4 305.3h0M444.4 298.3h0M557.8 303.8h0M593.7 305.5h0M548.9 304.5h0M309.6 303.6h0M416.7 300.9h0M351.8 303.7h0M628.1 304.1h0M345.5 305.4h0M378.7 304.5h0M416.0 304.9h0M318.0 305.3h0M585.6 304.3h0M508.3 300.2h0M350.7 303.6h0M462.6 301.6h0M323.9 304.8h0M499.9 304.8h0M374.5 305.0h0M310.7 301.3h0M336.0 295.6h0M481.5 304.0h0M508.5 303.7h0M405.3 302.3h0M510.6 303.5h0M414.3 297.2h0M341.1 304.8h0M402.1 302.2h0M428.6 302.6h0M599.6 304.2h0M336.1 305.4h0M326.4 305.0h0M483.5 300.8h0M616.4 303.9h0M597.8 304.0h0M529.4 301.5h0M320.0 303.9h0M564.5 301.5h0M523.8 305.7h0M345.5 301.2h0M451.6 299.7h0M314.2 303.1h0M563.0 304.0h0M535.5 301.1h0M563.9 304.3h0M549.3 302.4h0M386.3 302.9h0M559.0 305.5h0M380.3 302.4h0M343.5 302.8h0M427.0 304.7h0M462.5 303.1h0M392.4 304.9h0M498.2 303.9h0M497.1 301.3h0M377.2 302.3h0M503.7 301.8h0M416.0 302.4h0M540.8 301.4h0M393.9 302.4h0M562.0 304.8h0M435.1 305.4h0M480.8 302.8h0M520.5 301.4h0M469.3 302.7h0M383.1 305.6h0M621.7 302.5h0M329.7 303.5h0M405.3 304.0h0M479.4 303.9h0M307.4 304.9h0M349.1 305.3h0M562.1 302.1h0M557.0 304.8h0M508.5 295.7h0M596.0 302.9h0M547.7 304.8h0M396.7 305.4h0M511.1 305.2h0M410.3 304.4h0M545.8 302.9h0M425.1 304.9h0M348.6 304.4h0M587.7 302.9h0M526.1 303.3h0M544.1 302.5h0M482.9 304.0h0M556.7 304.4h0M446.0 304.5h0M485.0 304.4h0M318.6 301.7h0M481.4 303.0h0M567.2 304.5h0M531.2 300.4h0M563.4 300.6h0M589.3 302.5h0M333.7 304.7h0M587.4 304.0h0M420.6 301.8h0M328.0 304.7h0M502.7 302.0h0M448.3 302.6h0M439.5 304.5h0M579.6 301.2h0M343.5 303.4h0M501.9 304.1h0M434.7 299.4h0M472.5 301.9h0M463.0 303.6h0M342.2 301.2h0M467.2 302.9h0M582.9 305.2h0M354.5 305.0h0M301.7 301.0h0M320.2 304.2h0M449.9 297.5h0M620.1 302.0h0M312.5 303.3h0M625.5 303.6h0M475.1 304.4h0M337.6 305.0h0M436.3 304.0h0M366.5 305.1h0M534.0 303.2h0M476.9 301.9h0M393.1 304.6h0M382.3 305.7h0M584.5 303.8h0M551.2 304.3h0M442.1 300.6h0M432.0 305.1h0M541.7 304.7h0M618.8 304.7h0M324.2 303.3h0M350.5 302.6h0M417.7 305.1h0M321.5 302.0h0M315.6 304.4h0M370.5 302.8h0M425.5 304.2h0M542.3 303.4h0M499.5 303.0h0M307.6 304.8h0M312.8 302.5h0M447.3 302.5h0M587.1 303.8h0M600.4 295.1h0M418.6 301.5h0M591.3 303.6h0M605.1 303.6h0M432.3 302.7h0M544.6 300.9h0M418.7 302.5h0M348.7 302.6h0M488.1 303.2h0M326.5 303.4h0M517.2 303.9h0M565.4 304.7h0M600.5 305.2h0M336.7 304.1h0M596.3 303.9h0M585.6 301.1h0M617.8 305.6h0M494.3 305.1h0M520.5 300.8h0M421.3 302.2h0M358.4 303.9h0M394.3 302.5h0M536.1 305.1h0M405.3 302.9h0M526.5 295.8h0M463.9 304.4h0M446.3 304.3h0M617.8 305.3h0M352.8 304.3h0M459.0 304.5h0M350.7 304.9h0M607.8 304.8h0M407.6 305.6h0M353.5 305.3h0M494.3 301.0h0M429.8 305.6h0M339.9 303.5h0M308.6 305.6h0M427.3 296.8h0M490.7 304.5h0M469.4 303.5h0M595.4 305.7h0M599.3 304.1h0M607.4 304.6h0M562.3 302.4h0M455.8 305.3h0M471.1 302.6h0M429.3 305.0h0M430.0 303.4h0M311.6 304.1h0M562.0 305.3h0M379.2 298.6h0M307.6 303.5h0M452.1 303.0h0M535.2 305.1h0M442.1 303.4h0M418.3 302.6h0M515.6 303.4h0M351.7 304.6h0M301.6 303.5h0M493.8 304.6h0M473.3 305.2h0M584.1 304.7h0M435.4 305.2h0M557.8 302.5h0M303.8 301.8h0M306.9 305.5h0M495.8 301.0h0M372.7 303.0h0M320.1 303.9h0M340.1 299.7h0M421.8 305.1h0M409.4 304.5h0M484.3 305.4h0M591.3 302.9h0M418.8 303.7h0M358.8 304.4h0M489.0 304.8h0M298.6 304.4h0M425.1 304.8h0M402.8 305.3h0M426.0 305.3h0M314.7 295.7h0M504.2 304.6h0M545.7 304.6h0M614.4 305.0h0M415.2 302.5h0M514.9 303.9h0M444.0 305.1h0M369.0 305.7h0M591.9 305.7h0M544.5 305.7h0M609.6 303.2h0M569.5 305.0h0M601.2 300.8h0M340.2 305.5h0M303.1 301.6h0M363.6 297.2h0M434.1 303.9h0M525.2 304.9h0M442.9 304.3h0M467.6 304.4h0M549.5 304.8h0M321.2 304.5h0M522.1 304.5h0M314.0 301.8h0M380.1 304.1h0M536.7 304.5h0M523.7 302.4h0M431.9 299.5h0M395.3 296.9h0M571.7 304.6h0M388.7 302.6h0M308.2 300.6h0M379.6 301.0h0M304.9 302.6h0M565.9 303.7h0M338.3 300.8h0M619.9 304.9h0M368.3 302.0h0M399.1 302.8h0M491.4 301.1h0M399.8 304.1h0M423.3 302.4h0M332.4 302.8h0M426.5 303.8h0M306.2 300.9h0M371.9 305.5h0M598.6 304.9h0M390.7 304.6h0M387.5 304.1h0M522.5 304.0h0M589.8 303.1h0M395.7 301.9h0M422.3 302.6h0M534.2 304.8h0M559.8 304.7h0M500.8 301.3h0M357.1 304.6h0M357.7 305.1h0M548.5 302.4h0M531.6 304.2h0M594.2 300.2h0M555.7 303.1h0M437.2 305.2h0M342.0 304.2h0M592.3 303.4h0M527.8 305.5h0M488.4 301.6h0M523.3 300.2h0M425.2 303.1h0M411.4 302.0h0M488.1 304.7h0M532.3 304.9h0M607.4 303.0h0M578.0 304.0h0M426.0 303.8h0M421.0 305.2h0M604.3 305.2h0M428.4 305.3h0M562.5 302.9h0M328.6 302.5h0M447.0 304.5h0M468.6 304.1h0M565.3 302.3h0M588.0 301.3h0M348.4 304.3h0M501.9 305.5h0M505.9 305.1h0M348.0 305.5h0M573.5 302.9h0M480.9 298.0h0M615.8 302.9h0M359.5 304.4h0M471.5 301.7h0M404.8 304.4h0M510.3 301.8h0M498.9 305.6h0M467.3 304.3h0M405.3 304.2h0M464.5 301.0h0M421.0 305.4h0M592.4 302.2h0M450.5 303.8h0M383.4 304.2h0M381.8 305.5h0M613.3 305.2h0M401.7 305.5h0M585.0 303.1h0M494.5 301.5h0M622.1 303.2h0M352.1 305.2h0M609.2 305.1h0M553.3 304.3h0M485.7 300.1h0M532.2 296.5h0M536.7 302.1h0M446.1 303.4h0M507.7 304.5h0M373.5 301.6h0M305.0 304.1h0M521.6 304.5h0M454.8 304.9h0M597.3 305.3h0M385.2 303.8h0M568.3 304.0h0M624.0 305.5h0M594.8 305.0h0M616.7 305.1h0M350.5 301.2h0M352.5 305.3h0M373.4 305.4h0M417.4 303.8h0M336.1 303.1h0M347.7 302.8h0M304.0 301.2h0M606.4 302.9h0M417.3 304.2h0M504.9 302.4h0M448.2 302.4h0M543.6 305.5h0M564.4 301.4h0M424.5 304.9h0M474.9 301.1h0M330.1 303.2h0M392.3 302.0h0M371.5 304.5h0M399.9 302.4h0M405.2 303.2h0M488.0 304.6h0M407.9 299.7h0M406.0 305.0h0M572.7 302.7h0M301.9 300.1h0M299.6 305.2h0M316.8 302.4h0M584.0 304.6h0M507.4 304.3h0M538.6 299.0h0M614.5 303.5h0M370.0 304.8h0M602.1 303.1h0M378.1 300.8h0M469.4 304.0h0M523.1 305.7h0M561.5 305.3h0M379.9 304.6h0M455.6 305.5h0M313.0 303.0h0M393.1 297.5h0M622.2 302.3h0M597.1 305.1h0M490.3 305.0h0M557.9 303.1h0M596.2 305.1h0M407.6 303.1h0M622.1 305.3h0M446.2 302.6h0M350.4 300.1h0M473.1 305.2h0M494.2 304.7h0M527.0 302.9h0M519.7 304.5h0M311.6 304.9h0M509.2 304.6h0M602.6 302.6h0M519.4 302.0h0M620.3 304.2h0M467.0 304.9h0M565.8 302.7h0M344.3 298.6h0M594.0 304.6h0M442.2 303.7h0M587.7 301.5h0M404.0 297.1h0M504.3 304.3h0M577.8 301.7h0M533.1 302.5h0M502.8 303.0h0M618.8 300.8h0M327.0 305.0h0M331.6 305.1h0M613.5 303.6h0M524.8 300.3h0M400.3 301.3h0M333.5 302.4h0M446.1 305.3h0M456.7 303.2h0M452.7 303.5h0M502.7 303.5h0M388.1 296.8h0M589.0 298.3h0M393.2 302.8h0M333.3 300.7h0M413.3 302.9h0M607.2 305.2h0M350.6 303.3h0M389.7 300.2h0M604.2 299.0h0M413.0 305.6h0M576.6 304.2h0M312.9 301.5h0M591.6 304.8h0M376.3 305.4h0M357.6 304.0h0M543.3 303.9h0M625.0 304.8h0M615.0 303.8h0M546.6 304.3h0M600.2 305.5h0M624.2 304.4h0M345.7 301.5h0M578.7 303.0h0M428.8 303.6h0M401.3 303.7h0M463.5 304.5h0M309.4 301.5h0M304.1 304.0h0M385.3 303.2h0M494.9 305.6h0M545.7 305.6h0M614.3 304.9h0M568.4 302.9h0M609.0 302.6h0M508.3 304.4h0M540.5 304.9h0M492.1 301.2h0M324.8 303.9h0M318.4 305.4h0M549.2 303.6h0M364.8 304.5h0M559.0 303.0h0M451.3 305.6h0M300.2 303.5h0M483.5 298.0h0M444.4 302.3h0M322.3 301.5h0M384.2 305.1h0M399.3 305.0h0M412.2 302.2h0M531.6 305.5h0M353.2 302.4h0M444.5 299.6h0M498.5 305.1h0M610.8 304.8h0M335.9 304.8h0M324.1 301.9h0M361.3 304.2h0M370.8 304.9h0M351.7 301.6h0M323.0 302.9h0M367.2 303.6h0M371.7 302.5h0M456.4 304.7h0M512.0 304.3h0M418.2 305.4h0M353.5 302.2h0M329.2 305.1h0M384.9 304.6h0M354.4 304.1h0M456.9 305.5h0M585.9 300.4h0M534.8 305.6h0M365.1 302.1h0M309.7 300.6h0M320.3 303.5h0M442.0 305.6h0M418.1 302.0h0M523.5 304.1h0M325.6 299.2h0M382.1 302.0h0M524.6 305.1h0M485.7 304.7h0M468.7 302.2h0M596.0 305.6h0M335.4 302.9h0M362.5 305.1h0M484.9 300.3h0M484.8 304.1h0M621.9 304.9h0M621.0 303.2h0M492.1 304.8h0M548.8 302.9h0M528.5 304.4h0M341.8 303.5h0M497.0 303.6h0M399.0 303.9h0M416.6 304.6h0M349.6 302.1h0M300.7 305.2h0M580.1 302.6h0M535.0 302.3h0M546.6 305.5h0M393.1 304.0h0M435.9 298.7h0M356.1 302.9h0M497.0 305.4h0M575.3 296.0h0M555.4 305.6h0M606.6 305.4h0M384.0 304.7h0M529.8 304.5h0M339.8 302.5h0M475.2 303.9h0M334.3 304.8h0M477.1 305.5h0M412.6 298.7h0M413.4 302.7h0M533.0 305.4h0M432.7 302.1h0M335.2 304.8h0M391.2 301.0h0M577.9 305.5h0M619.2 305.6h0M421.3 300.0h0M585.8 300.7h0M586.7 301.6h0M370.0 305.3h0M388.4 303.2h0M528.0 304.9h0M399.1 305.2h0M613.7 295.2h0M418.6 305.5h0M539.3 302.9h0M531.7 305.5h0M368.5 304.6h0M584.2 305.1h0M406.6 304.4h0M334.3 305.4h0M314.5 302.0h0M507.2 301.3h0M387.6 305.7h0M576.2 301.1h0M386.3 302.9h0M578.1 302.1h0M308.8 302.3h0M384.7 303.8h0M350.6 305.3h0M445.9 298.6h0M413.9 304.1h0M428.4 304.0h0M579.4 301.6h0M489.5 300.2h0M498.1 302.3h0M426.8 305.1h0M565.0 302.5h0M463.8 298.7h0M544.5 301.8h0M600.1 301.7h0M500.2 299.5h0M441.8 305.2h0M385.1 302.8h0M599.4 301.4h0M550.8 304.4h0M562.2 304.6h0M371.1 305.5h0M442.3 305.3h0M590.0 304.2h0M379.2 302.7h0M567.0 305.4h0M476.0 300.4h0M370.2 300.2h0M422.0 303.1h0M323.1 303.0h0M520.4 300.1h0M538.2 300.6h0M307.5 305.1h0M397.5 302.6h0M552.1 305.1h0M364.1 303.1h0M475.4 304.2h0M564.3 303.7h0M486.3 304.4h0M338.3 304.4h0M598.5 301.8h0M544.8 302.6h0M484.7 304.3h0M407.9 303.1h0M490.4 301.4h0M427.3 302.8h0M337.1 298.1h0M338.3 304.0h0M312.9 304.1h0M354.2 305.3h0M379.1 303.2h0M507.9 304.8h0M489.7 303.6h0M493.1 305.3h0M569.7 304.9h0M329.4 305.1h0M426.5 305.5h0M324.1 301.4h0M436.3 299.8h0M323.9 305.0h0M319.8 301.5h0M332.4 302.5h0M426.8 305.4h0M550.2 304.8h0M391.1 303.5h0M543.1 303.6h0M375.0 298.1h0M392.9 305.6h0M453.8 304.7h0M322.7 302.7h0M490.8 305.3h0M570.5 304.3h0M316.5 305.2h0M562.4 305.4h0M486.2 304.7h0M489.1 303.4h0M314.8 301.1h0M588.8 303.6h0M389.6 305.3h0M478.6 305.1h0M476.0 304.1h0M598.8 298.6h0M496.7 302.6h0M625.6 301.5h0M374.6 303.8h0M516.8 304.8h0M488.6 303.1h0M467.7 302.1h0M505.4 305.2h0M479.9 304.0h0M409.3 303.9h0M510.0 302.9h0M325.5 302.0h0M456.3 300.9h0M447.6 304.6h0M368.4 301.6h0M485.7 302.7h0M519.4 305.4h0M339.2 302.2h0M396.1 305.4h0M318.4 302.2h0M495.3 304.8h0M324.9 304.2h0M373.7 302.8h0M446.0 304.9h0M447.2 304.6h0M308.8 304.9h0M611.1 304.2h0M373.9 303.7h0M499.6 303.7h0M371.4 305.2h0M494.9 303.8h0M414.5 305.7h0M403.2 304.5h0M454.7 302.5h0M491.7 305.3h0M495.7 305.3h0M525.5 301.1h0M386.7 298.1h0M328.2 302.9h0M381.7 298.5h0M405.9 297.4h0M498.7 304.4h0M434.9 303.8h0M400.8 304.8h0M330.4 303.5h0M495.1 300.9h0M334.3 304.8h0M468.8 305.1h0M525.5 302.8h0M503.9 304.5h0M350.7 304.5h0M415.6 304.6h0M609.0 305.0h0M327.9 305.0h0M522.3 303.6h0M442.2 302.2h0M500.7 303.1h0M428.1 302.8h0M338.8 304.8h0M483.8 305.3h0M299.9 305.4h0M583.6 304.7h0M562.0 305.5h0M421.5 304.3h0M475.5 301.3h0M472.3 303.7h0M621.8 303.0h0M312.4 305.1h0M396.3 303.7h0M432.5 305.6h0M558.2 298.3h0M539.2 302.0h0M437.9 303.7h0M301.8 305.4h0M512.1 302.0h0M432.4 305.1h0M336.5 301.9h0M506.5 302.6h0M445.0 303.3h0M399.2 305.2h0M386.9 303.3h0M470.1 303.9h0M379.8 304.5h0M427.9 304.4h0M609.3 305.2h0M455.8 304.9h0M381.7 303.2h0M470.2 305.4h0M601.2 302.8h0M584.3 301.5h0M521.8 301.0h0M595.1 304.5h0M548.0 303.2h0M522.8 303.1h0M439.4 305.6h0M347.3 305.2h0M539.9 301.9h0M507.6 304.2h0M617.9 303.8h0M404.0 305.2h0M587.8 301.6h0M370.2 303.0h0M610.7 303.6h0M627.1 304.6h0M313.5 303.3h0M405.2 304.3h0M627.9 302.4h0M618.0 305.0h0M519.6 305.0h0M342.4 305.3h0M300.1 302.7h0M380.3 301.6h0M610.1 300.4h0M564.0 305.1h0M439.6 305.5h0M549.6 301.4h0M596.2 304.8h0M397.1 304.3h0M587.0 305.6h0M387.0 303.5h0M406.6 304.5h0M312.7 302.7h0M350.9 305.1h0M480.0 301.1h0M305.8 300.6h0M478.3 303.6h0M354.1 300.3h0M545.4 303.9h0M340.2 304.3h0M366.3 304.3h0M386.8 304.3h0M490.5 301.6h0M565.2 302.6h0M546.9 305.2h0M543.0 295.8h0M523.3 305.0h0M411.2 304.5h0M357.4 303.2h0M583.5 304.5h0M433.2 304.8h0M512.9 294.7h0M320.5 304.4h0M417.2 305.1h0M331.1 298.2h0M415.1 304.6h0M540.3 304.9h0M410.7 305.1h0M523.4 304.6h0M338.6 300.8h0M425.2 299.1h0M433.5 305.2h0M466.2 305.1h0M373.4 301.1h0M528.9 303.8h0M589.6 304.4h0M566.6 305.0h0M308.1 304.8h0M459.3 302.0h0M411.6 305.1h0M487.3 303.6h0M325.4 301.8h0M539.1 304.6h0M435.7 305.6h0M610.0 299.1h0M304.2 304.9h0M436.0 305.6h0M572.7 305.0h0M548.0 304.7h0M358.1 304.9h0M399.6 304.3h0M541.1 305.4h0M436.7 296.0h0M384.9 304.3h0M605.6 303.8h0M576.6 303.2h0M415.4 304.7h0M479.6 304.0h0M605.1 305.0h0M369.5 305.4h0M598.5 302.6h0M590.3 300.7h0M538.1 304.4h0M524.7 296.9h0M524.4 301.0h0M477.8 301.4h0M490.4 301.3h0M363.1 304.4h0M483.9 301.1h0M520.4 301.5h0M458.4 303.5h0M522.5 302.4h0M449.4 302.0h0M563.5 303.6h0M536.2 304.8h0M327.3 305.5h0M552.2 304.8h0M392.1 304.4h0M324.8 304.1h0M338.0 305.2h0M405.0 296.5h0M471.3 301.7h0M407.1 298.4h0M365.2 302.3h0M552.2 304.2h0M421.5 305.3h0M586.8 304.4h0M378.7 304.8h0M526.0 305.6h0M416.1 305.1h0M578.8 302.9h0M511.6 303.3h0M522.2 304.2h0M328.6 302.0h0M546.3 305.4h0M415.1 303.9h0M542.6 304.4h0M577.3 303.2h0M338.4 303.3h0M303.0 305.0h0M548.5 301.8h0M618.1 303.1h0M595.6 303.5h0M441.9 305.2h0M573.5 302.5h0M305.7 299.2h0M317.2 301.3h0M490.1 304.6h0M472.3 303.8h0M570.6 304.0h0M375.1 304.6h0M450.9 302.5h0M625.0 303.8h0M398.0 302.5h0M431.6 303.9h0M498.7 303.1h0M626.9 304.8h0M358.3 305.1h0M526.3 304.6h0M434.8 301.8h0M430.4 301.7h0M382.8 303.5h0M451.8 305.5h0M487.9 304.5h0M427.6 304.4h0M465.1 304.4h0M508.2 305.5h0M579.5 301.8h0M483.4 304.8h0M424.4 304.7h0M615.8 298.1h0M354.9 305.1h0M312.9 305.0h0M598.2 303.5h0M385.8 303.5h0M348.0 304.0h0M425.3 302.8h0M411.3 300.5h0M415.2 302.5h0M579.3 303.9h0M393.9 304.9h0M341.8 302.1h0M369.2 303.6h0M611.9 304.6h0M439.7 304.2h0M417.2 305.5h0M554.9 305.1h0M607.2 304.1h0M466.6 302.0h0M567.2 297.2h0M385.4 303.4h0M413.8 302.7h0M488.5 305.2h0M376.1 304.9h0M388.9 299.7h0M359.9 304.8h0M384.6 304.5h0M575.4 305.5h0M560.7 304.0h0M335.6 305.7h0M413.3 304.0h0M536.7 302.4h0M582.1 305.5h0M483.1 301.9h0M538.1 303.0h0M376.4 304.0h0M556.4 296.1h0M569.3 304.5h0M432.5 302.7h0M375.9 299.8h0M308.8 305.2h0M506.0 302.4h0M507.0 302.1h0M298.3 304.5h0M469.9 302.4h0M608.1 301.8h0M307.4 302.8h0M343.3 304.2h0M317.0 305.5h0M425.1 299.5h0M585.6 304.0h0M319.9 304.8h0M364.2 304.4h0M608.0 299.3h0M304.2 299.6h0M383.6 304.5h0M428.2 304.7h0M298.1 302.2h0M392.9 302.6h0M497.2 304.2h0M501.3 302.0h0M499.2 303.9h0M513.1 304.6h0M501.0 302.1h0M309.3 303.7h0M514.4 303.8h0M490.9 303.6h0M369.9 302.2h0M436.6 304.1h0M376.5 300.9h0M584.9 305.2h0M390.1 304.2h0M351.8 305.2h0M561.3 304.5h0M549.5 305.3h0M579.6 300.9h0M521.8 304.8h0M435.7 305.2h0M455.1 303.4h0M481.4 302.1h0M494.9 302.8h0M610.4 304.4h0M385.6 301.1h0M551.9 302.1h0M303.5 304.3h0M360.8 304.7h0M610.1 305.3h0M380.9 302.7h0M466.9 302.7h0M600.9 302.7h0M514.3 303.8h0M459.4 301.3h0M529.9 301.2h0M621.3 305.2h0M609.1 303.1h0M357.8 304.4h0M344.2 305.2h0M393.1 301.9h0M345.9 302.9h0M550.5 302.6h0M573.5 298.3h0M344.4 305.1h0M322.1 303.9h0M404.9 302.1h0M525.0 303.1h0M552.5 304.2h0M450.2 301.5h0M509.2 303.3h0M601.2 305.1h0M588.9 299.3h0M336.8 303.0h0M533.7 305.3h0M554.6 304.1h0M597.9 300.3h0M436.1 305.5h0M349.5 304.9h0M420.3 302.9h0M428.1 303.9h0M563.3 304.0h0M513.4 305.1h0M522.8 304.7h0M513.7 305.1h0M344.7 303.0h0M317.2 302.0h0M428.5 305.1h0M578.8 305.1h0M512.4 301.4h0M559.5 305.1h0M503.7 304.8h0M557.2 303.5h0M627.2 304.6h0M533.7 304.6h0M582.8 304.0h0M619.5 304.5h0M542.7 305.6h0M566.7 304.1h0M323.9 302.6h0M309.9 303.3h0M603.2 304.8h0M376.5 300.6h0M398.8 301.7h0M342.6 304.6h0M507.7 304.0h0M307.7 299.0h0M562.1 304.0h0M396.5 304.2h0M543.8 304.5h0M599.0 305.3h0M526.1 303.5h0M438.3 304.0h0M504.5 303.4h0M580.7 302.3h0M533.0 304.9h0M381.3 303.1h0M300.4 303.0h0M588.7 305.2h0M504.0 303.6h0M318.9 304.2h0M480.0 304.7h0M492.6 301.3h0M394.9 304.7h0M590.8 301.6h0M377.2 305.3h0M345.5 298.8h0M400.2 295.1h0M409.8 303.7h0M590.2 304.4h0M515.1 302.5h0M338.2 302.8h0M428.0 301.4h0M331.9 301.3h0M531.2 302.4h0M580.5 303.5h0M328.8 304.1h0M463.2 305.6h0M378.8 305.2h0M392.1 299.0h0M544.8 304.1h0M620.9 305.0h0M390.1 302.9h0M477.3 303.1h0M400.5 304.8h0M318.4 302.6h0M497.1 304.3h0M349.3 304.8h0M525.2 302.5h0M544.9 303.5h0M345.0 304.3h0M495.0 301.3h0M366.8 304.2h0M550.2 304.0h0M392.4 305.0h0M525.9 300.9h0M512.1 305.0h0M488.1 305.2h0M369.9 304.6h0M573.7 303.3h0M415.2 305.4h0M552.6 303.9h0M454.9 299.3h0M446.0 300.9h0M533.4 303.7h0M410.6 304.5h0M550.3 305.4h0M445.0 301.7h0M542.7 304.1h0M528.5 303.6h0M610.4 305.5h0M433.0 304.3h0M413.3 301.6h0M626.8 305.5h0M468.6 304.7h0M436.2 302.6h0M529.6 301.0h0M380.6 304.2h0M614.5 302.7h0M547.1 303.5h0M512.5 303.8h0M394.4 305.4h0M565.5 305.4h0M601.8 304.9h0M559.5 305.2h0M585.3 262.6h0M400.4 290.7h0M420.0 292.0h0M585.0 287.0h0M608.0 288.0h0M620.0 287.5h0M498.0 290.0h0M353.0 289.0h0M368.0 291.0h0M414.6 319.5h0M604.8 322.5h0M441.2 320.1h0M620.3 331.3h0M619.4 318.7h0M435.2 320.5h0M462.8 324.5h0M593.8 320.7h0M593.0 320.4h0M329.5 323.4h0M464.8 319.2h0M330.4 322.1h0M577.8 320.5h0M387.2 319.3h0M406.8 325.2h0M403.6 321.2h0M535.5 320.6h0M404.9 324.0h0M586.7 323.0h0M443.5 319.1h0M601.3 323.7h0M601.0 318.1h0M448.1 319.9h0M374.6 323.7h0M608.1 319.2h0M482.3 329.8h0M415.3 320.0h0M317.5 318.5h0M451.3 319.8h0M309.3 329.1h0M505.2 323.6h0M428.4 331.5h0M394.3 318.0h0M370.5 321.0h0M548.1 318.6h0M595.2 328.2h0M300.8 318.8h0M473.0 324.8h0M323.7 322.3h0M309.6 329.8h0M622.9 321.8h0M401.5 321.1h0M596.4 323.0h0M510.2 319.0h0M413.4 318.0h0M530.0 330.6h0M556.7 318.5h0M511.3 318.9h0M425.7 318.6h0M547.7 318.9h0M421.3 318.0h0M417.6 319.5h0M390.9 323.3h0M619.9 329.1h0M337.4 322.7h0M315.4 317.9h0M394.5 320.4h0M338.7 325.0h0M419.0 322.7h0M608.2 322.4h0M611.3 332.3h0M373.3 319.1h0M395.6 323.4h0M430.9 320.8h0M611.9 319.5h0M385.5 317.8h0M550.0 319.3h0M509.2 319.3h0M588.6 319.8h0M389.4 318.4h0M604.7 327.7h0M627.4 323.8h0M428.9 320.9h0M607.2 319.0h0M539.9 322.1h0M372.5 325.1h0M443.9 331.5h0M380.9 318.8h0M596.4 319.2h0M373.8 321.0h0M588.1 318.7h0M389.5 322.5h0M592.7 329.3h0M560.1 320.6h0M540.1 322.0h0M386.7 321.0h0M534.9 318.2h0M505.1 324.3h0M412.8 322.1h0M624.0 320.6h0M614.2 320.5h0M513.9 324.4h0M598.0 318.8h0M408.4 318.9h0M354.1 322.3h0M408.6 325.0h0M596.0 318.4h0M575.2 326.7h0M377.6 318.8h0M568.4 322.9h0M590.4 321.1h0M490.8 317.9h0M453.3 327.7h0M363.2 322.5h0M383.1 320.2h0M465.4 320.9h0M467.3 322.0h0M473.4 329.6h0M445.6 321.0h0M578.8 318.3h0M353.2 321.0h0M356.7 318.0h0M606.0 318.1h0M491.5 318.3h0M502.1 331.8h0M453.9 319.1h0M439.5 321.9h0M413.8 318.4h0M571.3 321.4h0M312.5 321.4h0M609.4 317.8h0M360.7 323.5h0M459.7 318.1h0M571.4 323.3h0M341.8 318.6h0M513.0 319.5h0M498.2 318.2h0M481.1 319.7h0M572.4 318.9h0M340.8 319.3h0M370.7 323.1h0M599.3 319.4h0M611.7 318.4h0M339.0 320.4h0M519.6 330.2h0M330.2 318.3h0M606.8 330.5h0M609.8 322.1h0M526.3 320.4h0M456.5 322.6h0M513.3 321.8h0M483.0 321.7h0M570.6 317.8h0M573.4 320.4h0M582.6 318.7h0M575.0 318.4h0M370.9 321.2h0M365.9 318.6h0M528.4 319.0h0M480.1 322.9h0M618.0 323.3h0M316.5 318.9h0M431.5 332.2h0M584.7 321.4h0M342.2 319.4h0M406.1 331.3h0M615.9 319.3h0M552.9 324.0h0M575.4 318.1h0M384.0 319.0h0M563.2 320.2h0M299.6 333.0h0M370.4 328.7h0M504.7 317.7h0M515.6 318.4h0M614.9 322.0h0M420.1 321.4h0M387.9 324.9h0M365.3 319.7h0M544.8 319.2h0M567.8 326.6h0M570.5 317.8h0M503.5 320.8h0M309.4 318.4h0M434.9 320.5h0M353.2 327.2h0M391.5 325.3h0M307.0 326.5h0M527.4 320.1h0M380.6 322.1h0M483.9 317.8h0M615.9 318.3h0M375.8 319.5h0M392.4 319.3h0M382.7 319.5h0M319.8 320.4h0M495.9 319.7h0M616.2 318.3h0M488.5 320.8h0M499.6 323.7h0M592.3 319.2h0M586.9 321.8h0M471.1 318.4h0M498.2 323.3h0M419.3 318.8h0M462.5 327.3h0M375.8 322.4h0M496.5 322.2h0M391.7 320.7h0M400.6 323.1h0M399.3 322.4h0M557.3 322.7h0M321.1 318.4h0M626.9 318.4h0M352.5 322.9h0M502.4 319.3h0M374.7 318.9h0M524.3 320.7h0M581.0 318.9h0M441.4 322.7h0M452.9 320.1h0M623.1 318.5h0M492.7 323.5h0M419.0 319.7h0M373.9 322.6h0M578.6 318.9h0M529.0 322.6h0M400.8 319.8h0M343.4 322.5h0M554.8 318.9h0M595.4 322.3h0M538.5 318.6h0M533.2 329.5h0M340.9 321.0h0M599.1 324.2h0M494.7 319.4h0M594.2 322.6h0M544.6 323.7h0M591.6 318.5h0M565.1 324.5h0M539.6 317.8h0M496.1 321.4h0M390.1 327.7h0M380.9 318.2h0M600.4 319.1h0M561.6 319.6h0M381.3 319.4h0M332.4 319.8h0M587.6 321.9h0M302.4 328.3h0M504.2 319.1h0M531.8 321.0h0M438.4 321.5h0M600.0 322.3h0M511.5 320.6h0M626.0 319.2h0M526.3 319.7h0M482.3 318.7h0M324.5 324.0h0M589.2 322.1h0M336.7 321.8h0M389.0 320.1h0M512.3 318.8h0M524.1 322.5h0M603.9 320.0h0M610.6 318.2h0M602.5 322.2h0M559.1 320.0h0M424.2 325.7h0M537.2 318.2h0M349.3 323.3h0M405.2 322.3h0M627.3 317.9h0M509.3 321.1h0M604.9 317.9h0M352.8 321.2h0M495.9 319.1h0M358.7 321.8h0M531.5 321.9h0M604.4 319.3h0M442.2 325.2h0M303.7 319.8h0M407.9 318.1h0M326.6 319.6h0M449.1 318.5h0M563.0 331.6h0M622.4 318.2h0M389.8 322.5h0M347.2 319.5h0M313.5 324.0h0M399.6 318.2h0M383.2 322.9h0M366.4 322.6h0M590.3 318.0h0M392.4 327.7h0M350.4 323.8h0M347.8 320.0h0M537.7 318.2h0M440.2 317.8h0M426.2 318.1h0M530.9 319.0h0M506.7 321.8h0M450.6 318.2h0M502.8 319.8h0M399.8 324.4h0M521.3 332.9h0M305.1 327.2h0M432.8 319.8h0M424.2 325.7h0M404.7 319.4h0M525.7 321.1h0M542.2 318.3h0M552.6 323.5h0M502.9 319.9h0M303.0 318.9h0M379.5 318.0h0M518.7 320.2h0M336.7 320.0h0M489.7 322.9h0M303.0 322.3h0M575.3 322.2h0M353.1 327.2h0M441.6 322.6h0M337.8 318.3h0M356.3 325.7h0M470.3 319.3h0M583.4 319.2h0M366.5 321.1h0M589.5 322.3h0M376.3 319.0h0M428.2 330.5h0M615.0 325.8h0M467.9 322.1h0M382.1 332.9h0M447.7 319.3h0M569.8 319.7h0M585.7 322.2h0M335.2 319.3h0M468.3 327.1h0M422.0 319.6h0M325.4 318.3h0M395.4 332.2h0M542.0 322.8h0M303.3 318.5h0M447.5 319.3h0M411.8 329.6h0M437.0 320.6h0M441.2 319.3h0M621.5 319.5h0M524.5 319.7h0M424.9 323.2h0M409.4 321.3h0M606.7 318.2h0M495.2 326.7h0M613.2 318.0h0M365.8 318.2h0M470.1 320.1h0M536.3 324.8h0M570.7 320.9h0M332.2 324.1h0M432.1 318.1h0M586.2 318.3h0M500.8 320.8h0M344.8 317.8h0M436.9 324.8h0M463.8 320.9h0M298.5 318.7h0M437.1 325.3h0M454.7 328.3h0M616.2 323.1h0M472.1 317.9h0M323.2 319.9h0M310.3 317.9h0M450.0 318.0h0M506.3 321.7h0M370.0 321.2h0M487.4 326.2h0M329.4 328.6h0M388.5 320.8h0M470.3 318.1h0M399.5 327.3h0M533.5 332.8h0M356.9 319.2h0M514.7 319.8h0M615.7 319.3h0M570.6 320.9h0M421.9 318.9h0M509.1 322.9h0M335.2 319.7h0M536.5 323.9h0M545.2 317.8h0M371.0 321.9h0M423.5 318.1h0M497.8 317.9h0M515.5 326.6h0M503.0 318.4h0M545.4 323.8h0M579.1 318.3h0M453.1 322.1h0M302.9 324.9h0M564.4 323.0h0M334.0 324.0h0M533.8 321.6h0M564.8 319.0h0M473.2 332.2h0M507.2 321.3h0M616.8 320.5h0M552.5 318.1h0M391.9 323.5h0M606.9 325.6h0M522.1 323.4h0M397.8 319.7h0M389.2 318.3h0M444.3 320.1h0M466.3 327.8h0M577.2 320.1h0M448.9 319.3h0M533.0 324.1h0M408.7 322.7h0M453.0 320.8h0M405.1 324.3h0M427.6 324.9h0M529.1 318.4h0M374.5 318.6h0M459.7 332.9h0M543.2 319.2h0M301.3 320.4h0M433.1 318.9h0M553.3 324.6h0M514.9 318.4h0M567.3 318.7h0M382.9 326.9h0M501.0 326.4h0M399.8 319.9h0M325.8 323.5h0M557.7 318.8h0M396.7 328.2h0M540.2 318.8h0M552.8 329.3h0M564.3 321.0h0M393.8 317.7h0M562.9 318.7h0M378.7 330.3h0M517.6 325.8h0M300.8 324.4h0M557.6 328.8h0M318.7 320.8h0M535.4 320.1h0M507.0 319.2h0M318.6 319.1h0M490.6 321.1h0M531.4 318.5h0M564.9 321.4h0M622.3 322.5h0M377.2 320.5h0M438.7 318.9h0M419.2 319.5h0M516.8 317.9h0M360.7 323.2h0M376.7 324.7h0M366.7 318.1h0M547.3 320.3h0M479.2 323.0h0M555.3 322.6h0M517.0 320.6h0M579.1 321.2h0M455.3 318.3h0M302.1 323.3h0M628.4 321.7h0M373.8 327.0h0M570.2 322.5h0M363.8 320.5h0M466.7 326.2h0M393.3 321.1h0M515.1 327.5h0M324.1 324.7h0M321.7 319.1h0M450.5 329.5h0M578.6 319.5h0M452.0 317.8h0M336.9 332.6h0M626.2 319.6h0M332.9 321.6h0M400.5 320.0h0M484.9 318.6h0M387.0 322.1h0M529.1 325.2h0M436.5 330.2h0M560.6 318.9h0M325.2 318.4h0M569.8 325.2h0M596.4 321.5h0M381.9 318.1h0M376.4 319.2h0M589.5 320.9h0M434.7 320.5h0M429.4 319.8h0M491.1 322.4h0M479.4 319.5h0M566.6 317.8h0M519.3 324.6h0M531.2 320.7h0M440.2 323.0h0M467.7 320.5h0M580.6 318.3h0M584.4 324.1h0M500.1 318.6h0M493.3 321.0h0M398.1 319.9h0M456.7 318.7h0M362.8 321.7h0M458.5 324.4h0M317.7 317.9h0M383.1 324.8h0M392.2 319.8h0M523.4 322.5h0M330.2 322.0h0M509.7 323.9h0M554.2 326.5h0M352.7 320.1h0M343.8 325.0h0M331.4 321.2h0M507.0 319.5h0M429.0 328.2h0M310.6 319.9h0M336.4 321.2h0M418.1 328.8h0M315.1 318.0h0M560.0 323.5h0M361.9 324.8h0M565.8 325.6h0M309.6 321.6h0M409.6 320.9h0M605.2 325.9h0M348.1 320.7h0M310.0 319.6h0M574.8 320.6h0M561.3 321.9h0M462.0 322.8h0M339.6 325.6h0M394.8 318.9h0M616.3 317.9h0M368.5 327.1h0M516.3 321.6h0M531.6 321.1h0M585.7 323.7h0M520.8 323.2h0M421.8 327.7h0M444.1 331.1h0M455.0 331.2h0M492.5 324.6h0M473.8 321.6h0M331.8 318.6h0M553.5 323.5h0M418.4 318.2h0M504.5 319.8h0M400.7 317.9h0M445.8 322.7h0M627.1 321.1h0M302.5 329.9h0M509.3 320.1h0M360.2 319.0h0M613.5 322.8h0M569.2 318.0h0M573.0 319.1h0M574.8 323.2h0M411.6 319.2h0M602.8 318.9h0M608.6 320.8h0M566.9 321.6h0M459.3 331.5h0M472.1 319.9h0M469.8 322.6h0M386.8 318.6h0M413.6 318.5h0M439.3 332.3h0M474.2 322.2h0M587.5 321.6h0M458.1 320.3h0M482.6 320.8h0M531.6 320.2h0M562.2 321.2h0M619.5 324.8h0M542.1 318.1h0M495.8 319.8h0M535.0 323.1h0M338.3 324.9h0M542.3 317.8h0M370.4 322.0h0M589.0 325.6h0M586.3 319.1h0M505.6 327.6h0M608.0 326.9h0M314.8 326.4h0M323.0 318.6h0M461.8 317.8h0M363.5 319.1h0M305.3 322.1h0M615.1 323.6h0M436.4 325.8h0M575.6 323.8h0M392.3 319.8h0M506.8 322.2h0M320.8 319.3h0M502.6 321.1h0M531.4 318.4h0M501.9 318.4h0M456.9 319.6h0M542.0 320.7h0M372.4 323.6h0M521.0 318.2h0M392.8 328.4h0M319.5 327.6h0M421.7 323.7h0M546.7 318.8h0M352.7 325.1h0M554.1 323.0h0M416.1 318.1h0M460.5 324.2h0M320.9 322.1h0M353.2 318.2h0M518.1 331.8h0M600.1 320.2h0M386.2 319.8h0M525.5 323.8h0M588.8 323.4h0M577.6 320.1h0M612.5 320.3h0M333.6 318.2h0M518.9 322.2h0M394.3 324.0h0M312.0 324.7h0M614.4 320.0h0M412.0 324.1h0M384.4 323.3h0M625.5 322.7h0M519.9 319.3h0M349.9 320.9h0M304.7 321.6h0M325.1 319.9h0M325.1 319.7h0M591.0 323.0h0M530.2 317.9h0M358.0 319.4h0M446.4 319.2h0M583.4 320.1h0M619.7 318.4h0M300.7 328.3h0M306.8 319.2h0M500.6 318.3h0M316.0 319.2h0M434.9 319.3h0M508.7 322.1h0M468.5 319.9h0M359.3 319.0h0M392.8 323.5h0M476.3 319.8h0M348.3 318.2h0M605.2 320.6h0M381.7 320.1h0M577.2 320.2h0M362.7 318.0h0M463.0 321.4h0M568.9 318.1h0M517.5 323.0h0M342.5 317.9h0M383.3 332.1h0M424.5 319.0h0M465.0 317.9h0M617.2 321.4h0M413.3 320.5h0M417.2 329.1h0M475.6 318.2h0M373.3 319.6h0M572.5 318.5h0M298.0 321.0h0M546.2 322.0h0M600.0 320.5h0M407.4 318.7h0M550.6 329.0h0M538.1 325.9h0M555.3 321.2h0M517.9 329.5h0M478.6 320.2h0M391.7 318.4h0M336.1 327.7h0M508.0 321.0h0M319.8 318.1h0M334.6 318.5h0M406.3 321.8h0M362.8 321.6h0M362.9 318.8h0M553.8 318.4h0M406.4 320.4h0M319.3 321.1h0M602.0 326.7h0M613.2 323.5h0M571.2 320.0h0M447.4 320.9h0M616.7 319.2h0M598.1 327.2h0M512.0 319.0h0M528.3 317.9h0M536.5 319.7h0M478.9 321.4h0M589.0 323.6h0M583.5 326.1h0M546.5 318.5h0M531.8 321.2h0M451.8 317.9h0M409.4 318.6h0M617.4 320.2h0M489.4 321.1h0M608.6 318.0h0M371.4 321.9h0M352.7 319.2h0M541.7 321.3h0M518.5 318.4h0M435.3 321.1h0M469.1 317.8h0M605.1 322.4h0M522.9 327.3h0M479.8 318.0h0M390.6 328.0h0M353.9 318.3h0M423.4 330.3h0M398.6 328.9h0M531.5 322.8h0M626.0 323.0h0M582.4 320.9h0M391.1 324.1h0M397.4 318.3h0M495.7 320.6h0M578.6 319.3h0M398.7 320.3h0M390.7 326.2h0M456.1 318.5h0M552.9 319.3h0M448.3 321.9h0M302.2 318.4h0M524.9 320.2h0M591.5 321.5h0M526.7 321.5h0M309.0 326.6h0M387.6 326.3h0M471.0 318.3h0M462.0 323.3h0M324.1 318.7h0M392.0 321.5h0M431.8 327.8h0M464.4 323.0h0M623.0 326.8h0M535.0 323.1h0M472.4 320.8h0M301.0 324.2h0M308.6 330.9h0M553.9 318.5h0M485.1 323.4h0M521.1 318.8h0M340.4 326.1h0M620.6 321.3h0M467.9 319.9h0M487.7 321.8h0M523.3 320.0h0M507.1 317.8h0M558.0 321.0h0M367.3 322.1h0M318.4 321.0h0M437.6 328.5h0M555.7 322.1h0M547.3 317.9h0M426.5 320.5h0M544.8 321.5h0M554.3 320.7h0M560.8 319.7h0M615.7 321.4h0M539.3 318.5h0M600.6 318.7h0M394.1 318.6h0M623.4 321.7h0M409.6 319.9h0M517.8 326.4h0M343.5 319.0h0M360.8 321.8h0M328.1 318.7h0M508.9 322.3h0M306.6 318.1h0M457.6 319.9h0M543.8 317.8h0M387.6 319.5h0M361.7 319.1h0M616.2 321.4h0M365.0 323.5h0M491.5 328.0h0M451.2 326.6h0M597.6 321.5h0M506.5 326.6h0M457.4 319.8h0M381.9 319.1h0M574.8 321.2h0M401.6 322.3h0M566.0 321.1h0M528.8 319.9h0M480.9 319.9h0M627.3 320.5h0M511.1 319.5h0M495.7 325.2h0M531.4 320.3h0M353.2 318.5h0M443.1 325.0h0M298.0 323.1h0M342.9 322.1h0M309.4 330.0h0M487.6 319.9h0M405.6 322.7h0M355.1 319.2h0M430.0 320.8h0M612.0 322.3h0M316.4 322.7h0M334.8 318.0h0M587.7 318.5h0M369.9 318.7h0M518.1 320.2h0M327.0 319.9h0M310.2 321.6h0M502.0 320.7h0M543.2 319.3h0M364.6 320.3h0M350.7 320.8h0M571.8 321.6h0M342.5 325.1h0M483.9 321.4h0M610.5 318.4h0M367.8 324.2h0M538.9 319.4h0M461.1 321.2h0M582.5 329.5h0M583.6 318.7h0M463.0 320.1h0M453.4 323.6h0M552.2 321.3h0M533.7 324.2h0M407.0 323.8h0M610.0 321.2h0M379.4 320.4h0M428.6 321.8h0M430.6 320.3h0M412.0 319.3h0M449.5 321.3h0M619.7 331.0h0M626.2 322.8h0M382.6 317.8h0M400.0 318.5h0M422.8 322.4h0M374.3 320.8h0M371.3 319.1h0M458.3 321.8h0M435.7 332.1h0M323.6 319.3h0M454.5 321.6h0M612.6 320.2h0M579.5 320.4h0M510.2 320.2h0M471.0 322.1h0M335.2 321.7h0M510.9 318.5h0M606.4 320.8h0M617.3 322.3h0M605.1 325.2h0M542.0 323.0h0M411.8 324.3h0M357.9 320.9h0M371.5 318.2h0M428.3 318.6h0M336.3 318.9h0M398.9 320.6h0M619.3 321.4h0M544.6 318.4h0M530.4 325.0h0M350.2 328.3h0M603.9 319.7h0M519.4 318.5h0M397.6 325.3h0M383.6 325.2h0M333.3 318.4h0M505.4 318.3h0M429.8 320.2h0M608.2 320.5h0M546.6 325.1h0M479.6 332.0h0M428.8 323.9h0M515.1 329.6h0M526.4 318.0h0M541.1 319.7h0M401.7 319.8h0M431.1 322.2h0M375.7 326.9h0M343.5 321.6h0M400.1 329.0h0M383.8 320.3h0M391.7 330.3h0M456.3 322.3h0M424.8 321.1h0M540.0 322.7h0M383.1 321.5h0M534.3 322.7h0M592.1 320.1h0M463.1 320.9h0M564.5 321.8h0M323.5 317.9h0M384.4 318.6h0M326.6 318.0h0M461.0 322.5h0M423.3 318.2h0M374.2 317.9h0M309.4 328.3h0M549.0 317.9h0M608.0 319.2h0M361.1 321.1h0M542.0 318.5h0M414.0 320.0h0M543.0 319.3h0M496.8 318.8h0M547.7 324.6h0M625.3 318.9h0M391.1 318.8h0M588.7 318.2h0M365.8 319.9h0M560.7 318.3h0M350.1 319.4h0M364.2 324.9h0M440.1 318.7h0M366.4 327.5h0M564.8 320.2h0M310.3 321.6h0M412.3 320.9h0M562.6 318.9h0M620.4 319.4h0M475.2 317.8h0M361.6 318.0h0M373.6 321.6h0M499.9 321.4h0M346.6 323.2h0M577.8 321.5h0M576.4 325.1h0M537.4 320.2h0M619.0 320.5h0M446.7 322.1h0M615.2 323.5h0M363.9 318.1h0M382.7 329.0h0M473.6 318.7h0M591.5 318.5h0M301.0 318.7h0M580.9 318.2h0M421.2 322.3h0M583.3 319.0h0M581.3 319.2h0M591.2 319.9h0M484.3 317.8h0M337.7 321.0h0M397.6 325.5h0M415.0 323.1h0M512.8 322.2h0M410.1 329.5h0M417.3 328.2h0M503.2 318.0h0M348.4 321.0h0M426.5 318.0h0M588.4 325.5h0M392.4 327.1h0M458.9 318.7h0M555.0 320.0h0M527.3 324.6h0M322.3 320.3h0M584.6 319.0h0M602.0 324.5h0M559.4 330.5h0M551.0 319.9h0M590.4 327.9h0M586.7 320.2h0M454.8 320.3h0M427.5 319.7h0M448.5 324.6h0M342.1 320.1h0M361.4 323.4h0M525.5 320.2h0M541.8 320.9h0M526.9 318.3h0M489.3 323.8h0M349.1 328.6h0M422.8 322.4h0M612.3 324.9h0M612.8 321.6h0M395.4 318.5h0M421.7 319.1h0M358.9 324.8h0M416.6 319.5h0M445.9 318.4h0M391.2 321.4h0M597.7 322.9h0M323.3 321.5h0M442.9 318.9h0M321.1 321.1h0M416.7 318.0h0M550.3 318.6h0M331.2 319.7h0M489.5 327.1h0M487.1 323.6h0M485.9 318.4h0M464.0 321.6h0M502.4 321.5h0M385.2 324.0h0M385.3 321.4h0M554.4 318.2h0M355.5 320.9h0M570.2 320.4h0M594.7 324.5h0M390.5 321.8h0M442.3 324.3h0M467.1 321.7h0M528.3 318.7h0M608.5 327.6h0M439.0 319.1h0M365.8 326.6h0M400.1 324.7h0M611.6 322.2h0M368.1 319.5h0M381.4 318.7h0M308.5 323.1h0M500.4 318.6h0M453.8 321.1h0M570.5 323.2h0M510.0 320.1h0M513.8 325.4h0M524.2 322.5h0M449.3 318.6h0M396.0 318.5h0M304.1 320.5h0M429.1 318.8h0M302.1 321.0h0M368.5 321.5h0M422.4 318.5h0M423.7 320.2h0M369.1 321.4h0M546.9 318.8h0M402.8 320.0h0M414.9 323.0h0M371.7 320.3h0M321.3 321.8h0M547.6 325.3h0M480.7 323.9h0M586.2 321.9h0M589.6 321.7h0M489.3 317.7h0M610.7 325.9h0M589.2 321.3h0M453.4 321.5h0M385.8 323.0h0M462.8 321.6h0M351.1 318.6h0M423.8 332.0h0M373.8 319.7h0M447.6 332.1h0M328.4 320.8h0M300.4 337.0h0M303.0 338.0h0M305.7 338.7h0M337.2 337.8h0M338.5 341.0h0M341.6 343.0h0M612.8 353.4h0M614.0 354.0h0M616.0 355.0h0M617.9 361.8h0M617.9 365.0h0M617.9 368.5h0M623.9 378.0h0M585.3 378.6h0M590.7 379.6h0M597.0 374.6h0M470.8 374.6h0M472.5 378.0h0M466.0 393.0h0M602.7 343.4h0M555.0 330.0h0M560.0 331.0h0M606.0 331.0h0M609.0 333.0h0" stroke="#16324c" stroke-width="2.7" stroke-linecap="round" fill="none"/><path d="M442.0 305.0h0M461.9 304.3h0M465.8 304.7h0M446.0 304.8h0M459.4 303.6h0M481.1 304.6h0M480.3 304.9h0M480.6 301.6h0M476.5 304.5h0M456.9 295.1h0M447.3 302.6h0M446.3 304.0h0M477.5 304.7h0M458.8 304.6h0M442.2 302.2h0M461.4 265.3h0M452.0 272.8h0M454.0 273.5h0M456.0 275.0h0M460.8 275.4h0M464.3 273.7h0M464.3 277.0h0M464.3 280.7h0M444.2 279.8h0M446.0 281.0h0M448.6 284.2h0M439.0 286.8h0M440.5 287.5h0M442.4 288.6h0M450.3 290.3h0M453.0 290.3h0M455.6 290.3h0M457.3 282.4h0M464.9 286.8h0M437.0 290.0h0M433.0 291.5h0M458.0 278.0h0M462.0 271.0h0M443.7 323.2h0M474.3 322.1h0M485.8 318.7h0M461.6 330.4h0M474.3 319.2h0M448.5 318.8h0M485.5 320.7h0M480.4 320.3h0M457.6 324.8h0M473.3 323.7h0M465.2 321.1h0M440.7 320.9h0M463.6 320.4h0M453.6 322.5h0M443.2 318.5h0M442.4 320.9h0M444.9 321.9h0M473.1 319.1h0M482.9 324.6h0M454.5 329.2h0M465.3 320.4h0M462.9 321.3h0M450.7 320.9h0M463.0 320.1h0M470.1 319.0h0M465.4 332.8h0M462.8 326.5h0M457.5 320.7h0M486.8 319.1h0M460.1 317.8h0M452.1 318.3h0M486.1 318.4h0M470.5 319.7h0M448.3 318.7h0" stroke="#275379" stroke-width="2.7" stroke-linecap="round" fill="none"/><path d="M457.5 303.8h0M455.0 304.5h0M454.5 302.7h0M464.9 255.8h0M464.9 259.3h0M443.0 232.5h0M444.0 234.0h0M445.0 236.0h0M446.5 237.0h0M447.5 237.5h0M446.3 322.0h0M469.1 322.1h0M444.8 319.1h0M453.7 318.3h0M441.2 318.7h0M438.4 319.9h0M468.0 320.3h0M451.0 319.8h0M464.4 320.8h0M460.4 318.0h0M477.3 317.9h0" stroke="#3875a6" stroke-width="2.7" stroke-linecap="round" fill="none"/><rect x="291.3" y="232.6" width="14.5" height="6.0" fill="#fff" stroke="none" stroke-width="1" /><text x="291.8" y="237.9" font-size="6.4" text-anchor="start" fill="#222" >5e−8</text><rect x="291.3" y="261.4" width="14.5" height="6.0" fill="#fff" stroke="none" stroke-width="1" /><text x="291.8" y="266.7" font-size="6.4" text-anchor="start" fill="#222" >5e−5</text><rect x="291.3" y="290.2" width="14.5" height="6.0" fill="#fff" stroke="none" stroke-width="1" /><text x="291.8" y="295.5" font-size="6.4" text-anchor="start" fill="#222" >5e−2</text><rect x="291.3" y="319.2" width="14.5" height="6.0" fill="#fff" stroke="none" stroke-width="1" /><text x="291.8" y="324.5" font-size="6.4" text-anchor="start" fill="#222" >5e−2</text><rect x="291.3" y="329.7" width="14.5" height="6.0" fill="#fff" stroke="none" stroke-width="1" /><text x="291.8" y="335.0" font-size="6.4" text-anchor="start" fill="#222" >5e−5</text><rect x="291.3" y="340.1" width="14.5" height="6.0" fill="#fff" stroke="none" stroke-width="1" /><text x="291.8" y="345.4" font-size="6.4" text-anchor="start" fill="#222" >5e−8</text><circle cx="464.0" cy="230.8" r="1.8" fill="#8B1A1A"/><circle cx="464.4" cy="334.0" r="1.8" fill="#8B1A1A"/><rect x="447.4" y="233.0" width="33.2" height="9.5" fill="#fff" stroke="#666" stroke-width="0.7" rx="1"/><text x="464.0" y="240.0" font-size="6.03" text-anchor="middle" fill="#222" >rs7180928</text><rect x="427.3" y="335.2" width="33.6" height="7.9" fill="#fff" stroke="#666" stroke-width="0.7" rx="1"/><text x="444.1" y="341.4" font-size="6.03" text-anchor="middle" fill="#222" >rs7180928</text><defs><linearGradient id="r2g" x1="0" y1="0" x2="0" y2="1"><stop offset="0" stop-color="#56B1F7"/><stop offset="1" stop-color="#132B43"/></linearGradient></defs><rect x="655.9" y="288.4" width="12.0" height="58.2" fill="url(#r2g)" stroke="none" stroke-width="1" /><text x="656.0" y="284.2" font-size="8.3" text-anchor="start" fill="#222" >R2</text><line x1="655.9" y1="288.8" x2="658.3" y2="288.8" stroke="#fff" stroke-width="0.6" /><line x1="665.5" y1="288.8" x2="667.9" y2="288.8" stroke="#fff" stroke-width="0.6" /><text x="671.0" y="291.1" font-size="6.3" text-anchor="start" fill="#4d4d4d" >1.00</text><line x1="655.9" y1="303.3" x2="658.3" y2="303.3" stroke="#fff" stroke-width="0.6" /><line x1="665.5" y1="303.3" x2="667.9" y2="303.3" stroke="#fff" stroke-width="0.6" /><text x="671.0" y="305.6" font-size="6.3" text-anchor="start" fill="#4d4d4d" >0.75</text><line x1="655.9" y1="317.7" x2="658.3" y2="317.7" stroke="#fff" stroke-width="0.6" /><line x1="665.5" y1="317.7" x2="667.9" y2="317.7" stroke="#fff" stroke-width="0.6" /><text x="671.0" y="320.0" font-size="6.3" text-anchor="start" fill="#4d4d4d" >0.50</text><line x1="655.9" y1="332.6" x2="658.3" y2="332.6" stroke="#fff" stroke-width="0.6" /><line x1="665.5" y1="332.6" x2="667.9" y2="332.6" stroke="#fff" stroke-width="0.6" /><text x="671.0" y="334.9" font-size="6.3" text-anchor="start" fill="#4d4d4d" >0.25</text><rect x="298.2" y="400.0" width="330.8" height="57.9" fill="#fff" stroke="#555" stroke-width="0.9" /><line x1="347.5" y1="457.9" x2="347.5" y2="460.0" stroke="#555" stroke-width="0.7" /><text x="347.5" y="468.0" font-size="7.53" text-anchor="middle" fill="#4d4d4d" >78200000</text><line x1="401.7" y1="457.9" x2="401.7" y2="460.0" stroke="#555" stroke-width="0.7" /><text x="401.7" y="468.0" font-size="7.53" text-anchor="middle" fill="#4d4d4d" >78300000</text><line x1="455.9" y1="457.9" x2="455.9" y2="460.0" stroke="#555" stroke-width="0.7" /><text x="455.9" y="468.0" font-size="7.53" text-anchor="middle" fill="#4d4d4d" >78400000</text><line x1="510.1" y1="457.9" x2="510.1" y2="460.0" stroke="#555" stroke-width="0.7" /><text x="510.1" y="468.0" font-size="7.53" text-anchor="middle" fill="#4d4d4d" >78500000</text><line x1="564.3" y1="457.9" x2="564.3" y2="460.0" stroke="#555" stroke-width="0.7" /><text x="564.3" y="468.0" font-size="7.53" text-anchor="middle" fill="#4d4d4d" >78600000</text><line x1="618.5" y1="457.9" x2="618.5" y2="460.0" stroke="#555" stroke-width="0.7" /><text x="618.5" y="468.0" font-size="7.53" text-anchor="middle" fill="#4d4d4d" >78700000</text><text x="463.8" y="477.3" font-size="8.36" text-anchor="middle" fill="#111" >Position on Chromosome 15</text><line x1="298.7" y1="424.0" x2="310.4" y2="424.0" stroke="#444" stroke-width="0.8" /><rect x="298.7" y="421.7" width="1.1" height="4.6" fill="#5DB8BC" stroke="none" stroke-width="1" /><rect x="303.5" y="421.7" width="1.1" height="4.6" fill="#5DB8BC" stroke="none" stroke-width="1" /><rect x="305.1" y="421.7" width="1.1" height="4.6" fill="#5DB8BC" stroke="none" stroke-width="1" /><rect x="308.8" y="421.7" width="1.1" height="4.6" fill="#5DB8BC" stroke="none" stroke-width="1" /><text x="296.2" y="421.3" font-size="7.4" fill="#fff" stroke="#fff" stroke-width="1.4" stroke-linejoin="round">CIB2</text><text x="296.2" y="421.3" font-size="7.4" fill="#000" stroke="#000" stroke-width="0.35">CIB2</text><line x1="311.0" y1="416.8" x2="332.7" y2="416.8" stroke="#444" stroke-width="0.8" /><rect x="311.0" y="414.5" width="1.1" height="4.6" fill="#5DB8BC" stroke="none" stroke-width="1" /><rect x="318.6" y="414.5" width="1.1" height="4.6" fill="#5DB8BC" stroke="none" stroke-width="1" /><rect x="320.2" y="414.5" width="1.1" height="4.6" fill="#5DB8BC" stroke="none" stroke-width="1" /><rect x="321.9" y="414.5" width="1.1" height="4.6" fill="#5DB8BC" stroke="none" stroke-width="1" /><rect x="323.5" y="414.5" width="1.1" height="4.6" fill="#5DB8BC" stroke="none" stroke-width="1" /><rect x="325.1" y="414.5" width="1.1" height="4.6" fill="#5DB8BC" stroke="none" stroke-width="1" /><rect x="326.7" y="414.5" width="1.1" height="4.6" fill="#5DB8BC" stroke="none" stroke-width="1" /><rect x="328.4" y="414.5" width="1.1" height="4.6" fill="#5DB8BC" stroke="none" stroke-width="1" /><rect x="330.0" y="414.5" width="1.1" height="4.6" fill="#5DB8BC" stroke="none" stroke-width="1" /><rect x="331.6" y="414.5" width="1.1" height="4.6" fill="#5DB8BC" stroke="none" stroke-width="1" /><text x="311.0" y="413.3" font-size="7.4" fill="#fff" stroke="#fff" stroke-width="1.4" stroke-linejoin="round">IDH3A</text><text x="311.0" y="413.3" font-size="7.4" fill="#000" stroke="#000" stroke-width="0.35">IDH3A</text><line x1="330.5" y1="408.7" x2="372.4" y2="408.7" stroke="#444" stroke-width="0.8" /><rect x="330.5" y="406.4" width="1.1" height="4.6" fill="#5DB8BC" stroke="none" stroke-width="1" /><rect x="332.0" y="406.4" width="1.1" height="4.6" fill="#5DB8BC" stroke="none" stroke-width="1" /><rect x="333.5" y="406.4" width="1.1" height="4.6" fill="#5DB8BC" stroke="none" stroke-width="1" /><rect x="334.9" y="406.4" width="1.1" height="4.6" fill="#5DB8BC" stroke="none" stroke-width="1" /><rect x="336.4" y="406.4" width="1.1" height="4.6" fill="#5DB8BC" stroke="none" stroke-width="1" /><rect x="337.9" y="406.4" width="1.1" height="4.6" fill="#5DB8BC" stroke="none" stroke-width="1" /><rect x="343.6" y="406.4" width="1.1" height="4.6" fill="#5DB8BC" stroke="none" stroke-width="1" /><rect x="352.3" y="406.4" width="1.1" height="4.6" fill="#5DB8BC" stroke="none" stroke-width="1" /><rect x="352.9" y="406.4" width="1.1" height="4.6" fill="#5DB8BC" stroke="none" stroke-width="1" /><rect x="358.5" y="406.4" width="1.1" height="4.6" fill="#5DB8BC" stroke="none" stroke-width="1" /><rect x="365.5" y="406.4" width="1.1" height="4.6" fill="#5DB8BC" stroke="none" stroke-width="1" /><rect x="371.4" y="406.4" width="1.1" height="4.6" fill="#5DB8BC" stroke="none" stroke-width="1" /><text x="329.7" y="405.6" font-size="7.4" fill="#fff" stroke="#fff" stroke-width="1.4" stroke-linejoin="round">ACSBG1</text><text x="329.7" y="405.6" font-size="7.4" fill="#000" stroke="#000" stroke-width="0.35">ACSBG1</text><line x1="389.8" y1="416.8" x2="402.2" y2="416.8" stroke="#444" stroke-width="0.8" /><rect x="389.8" y="414.5" width="1.1" height="4.6" fill="#5DB8BC" stroke="none" stroke-width="1" /><rect x="391.4" y="414.5" width="1.1" height="4.6" fill="#5DB8BC" stroke="none" stroke-width="1" /><rect x="393.0" y="414.5" width="1.1" height="4.6" fill="#5DB8BC" stroke="none" stroke-width="1" /><rect x="394.6" y="414.5" width="1.1" height="4.6" fill="#5DB8BC" stroke="none" stroke-width="1" /><rect x="396.3" y="414.5" width="1.1" height="4.6" fill="#5DB8BC" stroke="none" stroke-width="1" /><rect x="397.9" y="414.5" width="1.1" height="4.6" fill="#5DB8BC" stroke="none" stroke-width="1" /><rect x="399.5" y="414.5" width="1.1" height="4.6" fill="#5DB8BC" stroke="none" stroke-width="1" /><rect x="401.1" y="414.5" width="1.1" height="4.6" fill="#5DB8BC" stroke="none" stroke-width="1" /><text x="390.0" y="413.3" font-size="7.4" fill="#fff" stroke="#fff" stroke-width="1.4" stroke-linejoin="round">SKIC8</text><text x="390.0" y="413.3" font-size="7.4" fill="#000" stroke="#000" stroke-width="0.35">SKIC8</text><line x1="381.9" y1="423.5" x2="392.5" y2="423.5" stroke="#444" stroke-width="0.8" /><rect x="381.9" y="421.2" width="1.1" height="4.6" fill="#5DB8BC" stroke="none" stroke-width="1" /><rect x="383.5" y="421.2" width="1.1" height="4.6" fill="#5DB8BC" stroke="none" stroke-width="1" /><rect x="385.1" y="421.2" width="1.1" height="4.6" fill="#5DB8BC" stroke="none" stroke-width="1" /><rect x="386.6" y="421.2" width="1.1" height="4.6" fill="#5DB8BC" stroke="none" stroke-width="1" /><rect x="388.2" y="421.2" width="1.1" height="4.6" fill="#5DB8BC" stroke="none" stroke-width="1" /><rect x="389.8" y="421.2" width="1.1" height="4.6" fill="#5DB8BC" stroke="none" stroke-width="1" /><rect x="391.4" y="421.2" width="1.1" height="4.6" fill="#5DB8BC" stroke="none" stroke-width="1" /><text x="383.1" y="432.6" font-size="7.4" fill="#fff" stroke="#fff" stroke-width="1.4" stroke-linejoin="round">DNAJA4</text><text x="383.1" y="432.6" font-size="7.4" fill="#000" stroke="#000" stroke-width="0.15">DNAJA4</text><line x1="423.3" y1="431.5" x2="428.5" y2="431.5" stroke="#444" stroke-width="0.8" /><rect x="423.3" y="429.2" width="1.1" height="4.6" fill="#5DB8BC" stroke="none" stroke-width="1" /><rect x="424.7" y="429.2" width="1.1" height="4.6" fill="#5DB8BC" stroke="none" stroke-width="1" /><rect x="426.0" y="429.2" width="1.1" height="4.6" fill="#5DB8BC" stroke="none" stroke-width="1" /><rect x="427.4" y="429.2" width="1.1" height="4.6" fill="#5DB8BC" stroke="none" stroke-width="1" /><text x="424.0" y="428.7" font-size="7.4" fill="#fff" stroke="#fff" stroke-width="1.4" stroke-linejoin="round">CRABP1</text><text x="424.0" y="428.7" font-size="7.4" fill="#000" stroke="#000" stroke-width="0.35">CRABP1</text><line x1="476.6" y1="453.3" x2="511.1" y2="453.3" stroke="#444" stroke-width="0.8" /><rect x="476.6" y="451.0" width="1.1" height="4.6" fill="#5DB8BC" stroke="none" stroke-width="1" /><rect x="490.0" y="451.0" width="1.1" height="4.6" fill="#5DB8BC" stroke="none" stroke-width="1" /><rect x="490.9" y="451.0" width="1.1" height="4.6" fill="#5DB8BC" stroke="none" stroke-width="1" /><rect x="494.0" y="451.0" width="1.1" height="4.6" fill="#5DB8BC" stroke="none" stroke-width="1" /><rect x="495.3" y="451.0" width="1.1" height="4.6" fill="#5DB8BC" stroke="none" stroke-width="1" /><rect x="496.6" y="451.0" width="1.1" height="4.6" fill="#5DB8BC" stroke="none" stroke-width="1" /><rect x="497.9" y="451.0" width="1.1" height="4.6" fill="#5DB8BC" stroke="none" stroke-width="1" /><rect x="502.0" y="451.0" width="1.1" height="4.6" fill="#5DB8BC" stroke="none" stroke-width="1" /><rect x="503.6" y="451.0" width="1.1" height="4.6" fill="#5DB8BC" stroke="none" stroke-width="1" /><rect x="505.2" y="451.0" width="1.1" height="4.6" fill="#5DB8BC" stroke="none" stroke-width="1" /><rect x="506.8" y="451.0" width="1.1" height="4.6" fill="#5DB8BC" stroke="none" stroke-width="1" /><rect x="508.4" y="451.0" width="1.1" height="4.6" fill="#5DB8BC" stroke="none" stroke-width="1" /><rect x="510.0" y="451.0" width="1.1" height="4.6" fill="#5DB8BC" stroke="none" stroke-width="1" /><text x="476.6" y="451.4" font-size="7.4" fill="#fff" stroke="#fff" stroke-width="1.4" stroke-linejoin="round">IREB2</text><text x="476.6" y="451.4" font-size="7.4" fill="#000" stroke="#000" stroke-width="0.35">IREB2</text><line x1="514.4" y1="430.8" x2="531.0" y2="430.8" stroke="#444" stroke-width="0.8" /><rect x="514.4" y="428.5" width="1.1" height="4.6" fill="#5DB8BC" stroke="none" stroke-width="1" /><rect x="514.9" y="428.5" width="1.1" height="4.6" fill="#5DB8BC" stroke="none" stroke-width="1" /><rect x="518.0" y="428.5" width="1.1" height="4.6" fill="#5DB8BC" stroke="none" stroke-width="1" /><rect x="518.9" y="428.5" width="1.1" height="4.6" fill="#5DB8BC" stroke="none" stroke-width="1" /><rect x="527.0" y="428.5" width="1.1" height="4.6" fill="#5DB8BC" stroke="none" stroke-width="1" /><rect x="528.5" y="428.5" width="1.1" height="4.6" fill="#5DB8BC" stroke="none" stroke-width="1" /><rect x="529.9" y="428.5" width="1.1" height="4.6" fill="#5DB8BC" stroke="none" stroke-width="1" /><text x="515.0" y="428.4" font-size="7.4" fill="#fff" stroke="#fff" stroke-width="1.4" stroke-linejoin="round">HYKK</text><text x="515.0" y="428.4" font-size="7.4" fill="#000" stroke="#000" stroke-width="0.15">HYKK</text><line x1="546.4" y1="438.4" x2="562.7" y2="438.4" stroke="#444" stroke-width="0.8" /><rect x="546.4" y="436.1" width="1.1" height="4.6" fill="#5DB8BC" stroke="none" stroke-width="1" /><rect x="556.0" y="436.1" width="1.1" height="4.6" fill="#5DB8BC" stroke="none" stroke-width="1" /><rect x="557.4" y="436.1" width="1.1" height="4.6" fill="#5DB8BC" stroke="none" stroke-width="1" /><rect x="558.8" y="436.1" width="1.1" height="4.6" fill="#5DB8BC" stroke="none" stroke-width="1" /><rect x="560.2" y="436.1" width="1.1" height="4.6" fill="#5DB8BC" stroke="none" stroke-width="1" /><rect x="561.6" y="436.1" width="1.1" height="4.6" fill="#5DB8BC" stroke="none" stroke-width="1" /><text x="546.4" y="436.5" font-size="7.4" fill="#fff" stroke="#fff" stroke-width="1.4" stroke-linejoin="round">CHRNA5</text><text x="546.4" y="436.5" font-size="7.4" fill="#000" stroke="#000" stroke-width="0.35">CHRNA5</text><line x1="532.3" y1="446.1" x2="539.2" y2="446.1" stroke="#444" stroke-width="0.8" /><rect x="532.3" y="443.8" width="1.1" height="4.6" fill="#5DB8BC" stroke="none" stroke-width="1" /><rect x="533.8" y="443.8" width="1.1" height="4.6" fill="#5DB8BC" stroke="none" stroke-width="1" /><rect x="535.2" y="443.8" width="1.1" height="4.6" fill="#5DB8BC" stroke="none" stroke-width="1" /><rect x="536.6" y="443.8" width="1.1" height="4.6" fill="#5DB8BC" stroke="none" stroke-width="1" /><rect x="538.1" y="443.8" width="1.1" height="4.6" fill="#5DB8BC" stroke="none" stroke-width="1" /><text x="532.8" y="443.7" font-size="7.4" fill="#fff" stroke="#fff" stroke-width="1.4" stroke-linejoin="round">PSMA4</text><text x="532.8" y="443.7" font-size="7.4" fill="#000" stroke="#000" stroke-width="0.35">PSMA4</text><line x1="578.0" y1="446.1" x2="629.0" y2="446.1" stroke="#444" stroke-width="0.8" /><rect x="578.0" y="443.8" width="1.1" height="4.6" fill="#5DB8BC" stroke="none" stroke-width="1" /><rect x="579.6" y="443.8" width="1.1" height="4.6" fill="#5DB8BC" stroke="none" stroke-width="1" /><rect x="581.1" y="443.8" width="1.1" height="4.6" fill="#5DB8BC" stroke="none" stroke-width="1" /><rect x="582.7" y="443.8" width="1.1" height="4.6" fill="#5DB8BC" stroke="none" stroke-width="1" /><rect x="584.2" y="443.8" width="1.1" height="4.6" fill="#5DB8BC" stroke="none" stroke-width="1" /><rect x="585.8" y="443.8" width="1.1" height="4.6" fill="#5DB8BC" stroke="none" stroke-width="1" /><rect x="587.3" y="443.8" width="1.1" height="4.6" fill="#5DB8BC" stroke="none" stroke-width="1" /><rect x="588.9" y="443.8" width="1.1" height="4.6" fill="#5DB8BC" stroke="none" stroke-width="1" /><rect x="611.5" y="443.8" width="1.1" height="4.6" fill="#5DB8BC" stroke="none" stroke-width="1" /><rect x="615.0" y="443.8" width="1.1" height="4.6" fill="#5DB8BC" stroke="none" stroke-width="1" /><rect x="622.5" y="443.8" width="1.1" height="4.6" fill="#5DB8BC" stroke="none" stroke-width="1" /><text x="578.0" y="443.7" font-size="7.4" fill="#fff" stroke="#fff" stroke-width="1.4" stroke-linejoin="round">CHRNB4</text><text x="578.0" y="443.7" font-size="7.4" fill="#000" stroke="#000" stroke-width="0.35">CHRNB4</text><line x1="561.0" y1="453.3" x2="576.2" y2="453.3" stroke="#444" stroke-width="0.8" /><rect x="561.0" y="451.0" width="1.1" height="4.6" fill="#5DB8BC" stroke="none" stroke-width="1" /><rect x="561.9" y="451.0" width="1.1" height="4.6" fill="#5DB8BC" stroke="none" stroke-width="1" /><rect x="565.0" y="451.0" width="1.1" height="4.6" fill="#5DB8BC" stroke="none" stroke-width="1" /><rect x="574.5" y="451.0" width="1.1" height="4.6" fill="#5DB8BC" stroke="none" stroke-width="1" /><rect x="575.1" y="451.0" width="1.1" height="4.6" fill="#5DB8BC" stroke="none" stroke-width="1" /><text x="561.0" y="451.4" font-size="7.4" fill="#fff" stroke="#fff" stroke-width="1.4" stroke-linejoin="round">CHRNA3</text><text x="561.0" y="451.4" font-size="7.4" fill="#000" stroke="#000" stroke-width="0.15">CHRNA3</text><text x="8.5" y="412.0" font-size="16.5" text-anchor="start" fill="#000" >D</text><text x="102.5" y="414.6" font-size="10.54" text-anchor="start" fill="#111" >FDR &lt; 0.05</text><line x1="165.0" y1="410.5" x2="178.6" y2="410.5" stroke="#E64B35" stroke-width="1.1" /><circle cx="171.8" cy="410.5" r="3.5" fill="#E64B35"/><text x="186.0" y="414.0" font-size="8.9" text-anchor="start" fill="#111" >Yes</text><line x1="206.9" y1="410.5" x2="220.4" y2="410.5" stroke="#6AC6D5" stroke-width="1.1" /><circle cx="213.6" cy="410.5" r="3.5" fill="#6AC6D5"/><text x="227.6" y="414.0" font-size="8.9" text-anchor="start" fill="#111" >No</text><line x1="114.5" y1="435.1" x2="114.5" y2="641.3" stroke="#000" stroke-width="1" /><line x1="114.0" y1="640.8" x2="227.0" y2="640.8" stroke="#000" stroke-width="1" /><line x1="174.0" y1="435.5" x2="174.0" y2="640.8" stroke="#333" stroke-width="0.9" stroke-dasharray="0.9,1.3"/><line x1="112.0" y1="443.6" x2="114.5" y2="443.6" stroke="#000" stroke-width="0.8" /><text x="109.1" y="446.8" font-size="8.8" text-anchor="end" fill="#4d4d4d" >KIR2DS4_Oncology_II</text><line x1="119.8" y1="443.6" x2="157.0" y2="443.6" stroke="#E64B35" stroke-width="1.4" /><circle cx="138.2" cy="443.6" r="3.5" fill="#E64B35"/><line x1="112.0" y1="457.1" x2="114.5" y2="457.1" stroke="#000" stroke-width="0.8" /><text x="109.1" y="460.3" font-size="8.8" text-anchor="end" fill="#4d4d4d" >PSCA_Oncology_II</text><line x1="124.9" y1="457.1" x2="160.7" y2="457.1" stroke="#6AC6D5" stroke-width="1.4" /><circle cx="142.7" cy="457.1" r="3.5" fill="#6AC6D5"/><line x1="112.0" y1="470.6" x2="114.5" y2="470.6" stroke="#000" stroke-width="0.8" /><text x="109.1" y="473.8" font-size="8.8" text-anchor="end" fill="#4d4d4d" >HEPH_Cardiometabolic_II</text><line x1="126.3" y1="470.6" x2="161.7" y2="470.6" stroke="#6AC6D5" stroke-width="1.4" /><circle cx="144.1" cy="470.6" r="3.5" fill="#6AC6D5"/><line x1="112.0" y1="484.1" x2="114.5" y2="484.1" stroke="#000" stroke-width="0.8" /><text x="109.1" y="487.3" font-size="8.8" text-anchor="end" fill="#4d4d4d" >CEACAM5_Oncology</text><line x1="127.1" y1="484.1" x2="162.4" y2="484.1" stroke="#6AC6D5" stroke-width="1.4" /><circle cx="144.6" cy="484.1" r="3.5" fill="#6AC6D5"/><line x1="112.0" y1="497.6" x2="114.5" y2="497.6" stroke="#000" stroke-width="0.8" /><text x="109.1" y="500.8" font-size="8.8" text-anchor="end" fill="#4d4d4d" >ALPP_Oncology</text><line x1="127.1" y1="497.6" x2="164.7" y2="497.6" stroke="#6AC6D5" stroke-width="1.4" /><circle cx="145.7" cy="497.6" r="3.5" fill="#6AC6D5"/><line x1="112.0" y1="511.2" x2="114.5" y2="511.2" stroke="#000" stroke-width="0.8" /><text x="109.1" y="514.3" font-size="8.8" text-anchor="end" fill="#4d4d4d" >CXCL17_Inflammation</text><line x1="132.0" y1="511.2" x2="164.0" y2="511.2" stroke="#6AC6D5" stroke-width="1.4" /><circle cx="148.0" cy="511.2" r="3.5" fill="#6AC6D5"/><line x1="112.0" y1="524.7" x2="114.5" y2="524.7" stroke="#000" stroke-width="0.8" /><text x="109.1" y="527.8" font-size="8.8" text-anchor="end" fill="#4d4d4d" >KIR2DL2_Oncology_II</text><line x1="132.0" y1="524.7" x2="167.4" y2="524.7" stroke="#6AC6D5" stroke-width="1.4" /><circle cx="149.9" cy="524.7" r="3.5" fill="#6AC6D5"/><line x1="112.0" y1="538.2" x2="114.5" y2="538.2" stroke="#000" stroke-width="0.8" /><text x="109.1" y="541.3" font-size="8.8" text-anchor="end" fill="#4d4d4d" >GDF2_Cardiometabolic</text><line x1="180.3" y1="538.2" x2="213.7" y2="538.2" stroke="#6AC6D5" stroke-width="1.4" /><circle cx="196.6" cy="538.2" r="3.5" fill="#6AC6D5"/><line x1="112.0" y1="551.7" x2="114.5" y2="551.7" stroke="#000" stroke-width="0.8" /><text x="109.1" y="554.8" font-size="8.8" text-anchor="end" fill="#4d4d4d" >UNC5D_Inflammation_II</text><line x1="181.0" y1="551.7" x2="215.6" y2="551.7" stroke="#6AC6D5" stroke-width="1.4" /><circle cx="198.1" cy="551.7" r="3.5" fill="#6AC6D5"/><line x1="112.0" y1="565.2" x2="114.5" y2="565.2" stroke="#000" stroke-width="0.8" /><text x="109.1" y="568.4" font-size="8.8" text-anchor="end" fill="#4d4d4d" >LXN_Neurology</text><line x1="181.4" y1="565.2" x2="214.8" y2="565.2" stroke="#6AC6D5" stroke-width="1.4" /><circle cx="198.1" cy="565.2" r="3.5" fill="#6AC6D5"/><line x1="112.0" y1="578.7" x2="114.5" y2="578.7" stroke="#000" stroke-width="0.8" /><text x="109.1" y="581.9" font-size="8.8" text-anchor="end" fill="#4d4d4d" >PODXL2_Oncology</text><line x1="182.2" y1="578.7" x2="215.6" y2="578.7" stroke="#6AC6D5" stroke-width="1.4" /><circle cx="198.9" cy="578.7" r="3.5" fill="#6AC6D5"/><line x1="112.0" y1="592.2" x2="114.5" y2="592.2" stroke="#000" stroke-width="0.8" /><text x="109.1" y="595.4" font-size="8.8" text-anchor="end" fill="#4d4d4d" >PPP3R1_Neurology</text><line x1="181.4" y1="592.2" x2="216.7" y2="592.2" stroke="#6AC6D5" stroke-width="1.4" /><circle cx="198.9" cy="592.2" r="3.5" fill="#6AC6D5"/><line x1="112.0" y1="605.7" x2="114.5" y2="605.7" stroke="#000" stroke-width="0.8" /><text x="109.1" y="608.9" font-size="8.8" text-anchor="end" fill="#4d4d4d" >GUK1_Cardiometabolic_II</text><line x1="182.9" y1="605.7" x2="217.8" y2="605.7" stroke="#6AC6D5" stroke-width="1.4" /><circle cx="200.0" cy="605.7" r="3.5" fill="#6AC6D5"/><line x1="112.0" y1="619.2" x2="114.5" y2="619.2" stroke="#000" stroke-width="0.8" /><text x="109.1" y="622.4" font-size="8.8" text-anchor="end" fill="#4d4d4d" >CENPJ_Oncology_II</text><line x1="182.5" y1="619.2" x2="218.2" y2="619.2" stroke="#6AC6D5" stroke-width="1.4" /><circle cx="200.0" cy="619.2" r="3.5" fill="#6AC6D5"/><line x1="112.0" y1="632.7" x2="114.5" y2="632.7" stroke="#000" stroke-width="0.8" /><text x="109.1" y="635.9" font-size="8.8" text-anchor="end" fill="#4d4d4d" >RLN2_Inflammation_II</text><line x1="186.0" y1="632.7" x2="221.3" y2="632.7" stroke="#6AC6D5" stroke-width="1.4" /><circle cx="203.8" cy="632.7" r="3.5" fill="#6AC6D5"/><rect x="227.0" y="435.5" width="16.0" height="205.3" fill="#fff" stroke="#000" stroke-width="1" /><text transform="translate(235.0,538.0) rotate(90)" x="0" y="3.28" font-size="9.1" text-anchor="middle" fill="#111">rs7180928</text><line x1="142.9" y1="640.8" x2="142.9" y2="643.0" stroke="#000" stroke-width="0.8" /><text x="142.9" y="653.5" font-size="8.8" text-anchor="middle" fill="#4d4d4d" >−0.2</text><line x1="174.0" y1="640.8" x2="174.0" y2="643.0" stroke="#000" stroke-width="0.8" /><text x="174.0" y="653.5" font-size="8.8" text-anchor="middle" fill="#4d4d4d" >0.0</text><line x1="205.1" y1="640.8" x2="205.1" y2="643.0" stroke="#000" stroke-width="0.8" /><text x="205.1" y="653.5" font-size="8.8" text-anchor="middle" fill="#4d4d4d" >0.2</text><text x="170.8" y="665.6" font-size="10.7" text-anchor="middle" fill="#111" >Beta</text><text x="9.5" y="688.9" font-size="16.5" text-anchor="start" fill="#000" >E</text><text x="104.4" y="696.4" font-size="10.54" text-anchor="start" fill="#111" >FDR &lt; 0.05</text><line x1="167.0" y1="692.3" x2="180.6" y2="692.3" stroke="#E64B35" stroke-width="1.1" /><circle cx="173.8" cy="692.3" r="3.5" fill="#E64B35"/><text x="187.9" y="695.8" font-size="8.9" text-anchor="start" fill="#111" >Yes</text><line x1="208.8" y1="692.3" x2="222.4" y2="692.3" stroke="#6AC6D5" stroke-width="1.1" /><circle cx="215.6" cy="692.3" r="3.5" fill="#6AC6D5"/><text x="229.6" y="695.8" font-size="8.9" text-anchor="start" fill="#111" >No</text><line x1="113.3" y1="717.4" x2="113.3" y2="785.2" stroke="#000" stroke-width="1" /><line x1="112.8" y1="784.7" x2="232.3" y2="784.7" stroke="#000" stroke-width="1" /><line x1="175.3" y1="717.4" x2="175.3" y2="784.7" stroke="#333" stroke-width="0.9" stroke-dasharray="0.9,1.3"/><line x1="110.8" y1="725.4" x2="113.3" y2="725.4" stroke="#000" stroke-width="0.8" /><text x="108.2" y="728.6" font-size="8.88" text-anchor="end" fill="#4d4d4d" >pbmc_7d_il22_mtb</text><line x1="118.8" y1="725.4" x2="167.0" y2="725.4" stroke="#E64B35" stroke-width="1.4" /><circle cx="142.7" cy="725.4" r="3.5" fill="#E64B35"/><line x1="110.8" y1="738.2" x2="113.3" y2="738.2" stroke="#000" stroke-width="0.8" /><text x="108.2" y="741.4" font-size="8.88" text-anchor="end" fill="#4d4d4d" >pbmc_7d_il22_calbcon</text><line x1="121.4" y1="738.2" x2="168.9" y2="738.2" stroke="#6AC6D5" stroke-width="1.4" /><circle cx="145.4" cy="738.2" r="3.5" fill="#6AC6D5"/><line x1="110.8" y1="751.0" x2="113.3" y2="751.0" stroke="#000" stroke-width="0.8" /><text x="108.2" y="754.2" font-size="8.88" text-anchor="end" fill="#4d4d4d" >pbmc_24h_il1ra_lps</text><line x1="178.4" y1="751.0" x2="220.9" y2="751.0" stroke="#6AC6D5" stroke-width="1.4" /><circle cx="199.2" cy="751.0" r="3.5" fill="#6AC6D5"/><line x1="110.8" y1="763.8" x2="113.3" y2="763.8" stroke="#000" stroke-width="0.8" /><text x="108.2" y="767.0" font-size="8.88" text-anchor="end" fill="#4d4d4d" >pbmc_7d_il22_ecoli</text><line x1="176.5" y1="763.8" x2="227.0" y2="763.8" stroke="#6AC6D5" stroke-width="1.4" /><circle cx="201.9" cy="763.8" r="3.5" fill="#6AC6D5"/><line x1="110.8" y1="776.6" x2="113.3" y2="776.6" stroke="#000" stroke-width="0.8" /><text x="108.2" y="779.8" font-size="8.88" text-anchor="end" fill="#4d4d4d" >pbmc_24h_mcp1_spneu</text><line x1="180.6" y1="776.6" x2="227.0" y2="776.6" stroke="#6AC6D5" stroke-width="1.4" /><circle cx="203.8" cy="776.6" r="3.5" fill="#6AC6D5"/><rect x="232.3" y="717.4" width="16.3" height="67.3" fill="#fff" stroke="#000" stroke-width="1" /><text transform="translate(240.5,750.0) rotate(90)" x="0" y="3.35" font-size="9.3" text-anchor="middle" fill="#111">rs7180928</text><line x1="117.7" y1="784.7" x2="117.7" y2="786.9" stroke="#000" stroke-width="0.8" /><text x="117.7" y="796.0" font-size="8.3" text-anchor="middle" fill="#4d4d4d" >−0.3</text><line x1="136.9" y1="784.7" x2="136.9" y2="786.9" stroke="#000" stroke-width="0.8" /><text x="136.9" y="796.0" font-size="8.3" text-anchor="middle" fill="#4d4d4d" >−0.2</text><line x1="156.1" y1="784.7" x2="156.1" y2="786.9" stroke="#000" stroke-width="0.8" /><text x="156.1" y="796.0" font-size="8.3" text-anchor="middle" fill="#4d4d4d" >−0.1</text><line x1="175.3" y1="784.7" x2="175.3" y2="786.9" stroke="#000" stroke-width="0.8" /><text x="175.3" y="796.0" font-size="8.3" text-anchor="middle" fill="#4d4d4d" >0.0</text><line x1="194.5" y1="784.7" x2="194.5" y2="786.9" stroke="#000" stroke-width="0.8" /><text x="194.5" y="796.0" font-size="8.3" text-anchor="middle" fill="#4d4d4d" >0.1</text><line x1="213.7" y1="784.7" x2="213.7" y2="786.9" stroke="#000" stroke-width="0.8" /><text x="213.7" y="796.0" font-size="8.3" text-anchor="middle" fill="#4d4d4d" >0.2</text><line x1="232.9" y1="784.7" x2="232.9" y2="786.9" stroke="#000" stroke-width="0.8" /><text x="232.9" y="796.0" font-size="8.3" text-anchor="middle" fill="#4d4d4d" >0.3</text><text x="172.7" y="808.7" font-size="10.7" text-anchor="middle" fill="#111" >Beta</text><text x="271.6" y="516.0" font-size="16.5" text-anchor="start" fill="#000" >F</text><text x="310.0" y="521.1" font-size="8.88" text-anchor="start" fill="#111" >Genotype</text><circle cx="360.1" cy="517.9" r="2.0" fill="#E04B32"/><text x="371.4" y="520.6" font-size="7.6" text-anchor="start" fill="#222" >CC</text><circle cx="394.0" cy="517.9" r="2.0" fill="#5BBFD6"/><text x="405.5" y="520.6" font-size="7.6" text-anchor="start" fill="#222" >CG</text><circle cx="427.6" cy="517.9" r="2.0" fill="#2BAE8A"/><text x="439.2" y="520.6" font-size="7.6" text-anchor="start" fill="#222" >GG</text><text x="310.7" y="544.5" font-size="7.98" text-anchor="start" fill="#111" >Spearman correlation:</text><text x="318.9" y="553.2" font-size="7.36" text-anchor="start" fill="#111" >r = −0.11, p = 1.3e−4</text><line x1="293.7" y1="537.9" x2="293.7" y2="710.4" stroke="#000" stroke-width="1" /><line x1="293.2" y1="709.9" x2="465.5" y2="709.9" stroke="#000" stroke-width="1" /><line x1="291.5" y1="571.0" x2="293.7" y2="571.0" stroke="#000" stroke-width="0.8" /><text x="290.3" y="573.5" font-size="6.8" text-anchor="end" fill="#4d4d4d" >3</text><line x1="291.5" y1="615.2" x2="293.7" y2="615.2" stroke="#000" stroke-width="0.8" /><text x="290.3" y="617.6" font-size="6.8" text-anchor="end" fill="#4d4d4d" >0</text><line x1="291.5" y1="659.4" x2="293.7" y2="659.4" stroke="#000" stroke-width="0.8" /><text x="290.3" y="661.8" font-size="6.8" text-anchor="end" fill="#4d4d4d" >−3</text><line x1="291.5" y1="703.6" x2="293.7" y2="703.6" stroke="#000" stroke-width="0.8" /><text x="290.3" y="706.0" font-size="6.8" text-anchor="end" fill="#4d4d4d" >−6</text><line x1="326.3" y1="709.9" x2="326.3" y2="712.0" stroke="#000" stroke-width="0.8" /><text x="326.3" y="718.7" font-size="6.8" text-anchor="middle" fill="#4d4d4d" >CC</text><line x1="380.1" y1="709.9" x2="380.1" y2="712.0" stroke="#000" stroke-width="0.8" /><text x="380.1" y="718.7" font-size="6.8" text-anchor="middle" fill="#4d4d4d" >CG</text><line x1="434.0" y1="709.9" x2="434.0" y2="712.0" stroke="#000" stroke-width="0.8" /><text x="434.0" y="718.7" font-size="6.8" text-anchor="middle" fill="#4d4d4d" >GG</text><text x="380.4" y="729.2" font-size="8.88" text-anchor="middle" fill="#111" >Genotype</text><text transform="translate(274.5,624.0) rotate(-90)" x="0" y="3.20" font-size="8.9" text-anchor="middle" fill="#111">Protein adundance (KIR2DS4)</text><path d="M327.6 661.0h0M328.1 656.2h0M330.1 701.5h0M322.7 659.4h0M325.6 695.9h0M320.7 653.3h0M329.1 596.7h0M322.8 646.2h0M328.7 671.7h0M322.6 614.4h0M320.9 651.2h0M325.1 661.3h0M327.7 676.5h0M321.8 562.1h0M321.2 640.2h0M327.6 584.5h0M325.3 599.5h0M328.4 561.7h0M327.3 657.9h0M330.3 621.2h0M323.7 662.4h0M322.6 610.5h0M328.3 640.7h0M329.1 643.5h0M322.8 650.2h0M323.3 690.3h0M329.6 641.0h0M322.8 671.0h0M321.0 611.9h0M331.4 674.9h0M321.4 596.9h0M321.0 601.5h0M330.4 561.2h0M325.3 615.5h0M325.0 563.7h0M331.0 592.9h0M322.7 599.6h0M324.5 644.6h0M323.6 654.5h0M329.0 593.0h0M331.6 597.2h0M329.9 631.2h0M329.9 596.9h0M323.9 672.7h0M324.6 688.8h0M321.4 564.2h0M325.8 663.1h0M326.8 598.2h0M330.7 609.1h0M331.1 621.5h0M326.7 652.3h0M328.7 597.2h0M324.2 639.1h0M325.1 665.4h0M328.2 639.3h0M324.1 634.2h0M329.4 583.0h0M320.8 692.5h0M326.9 595.9h0M324.2 611.5h0M324.8 655.2h0M331.0 629.1h0M323.4 660.6h0M324.2 635.4h0M328.2 670.5h0M327.9 566.9h0M322.4 610.9h0M330.6 634.3h0M327.9 666.3h0M329.6 591.5h0M324.2 688.6h0M324.4 670.1h0M330.9 572.7h0M324.9 675.8h0M326.9 688.7h0M331.1 655.4h0M331.2 635.6h0M322.4 653.5h0M331.1 664.1h0M327.6 641.0h0M327.0 580.7h0M321.1 651.6h0M327.3 563.9h0M329.7 612.2h0M326.0 596.5h0M323.4 663.8h0M325.1 641.8h0M321.6 653.1h0M327.4 664.3h0M326.3 602.1h0M328.5 576.6h0M324.7 638.3h0M330.0 696.4h0M324.8 671.3h0M320.7 567.6h0M326.3 629.7h0M322.2 662.2h0M327.8 654.0h0M331.0 635.4h0M325.2 642.0h0M329.1 597.1h0M323.9 658.1h0M326.8 579.7h0M322.4 589.9h0M331.3 630.6h0M325.8 693.1h0M324.8 639.4h0M327.8 693.3h0M329.6 590.8h0M330.4 686.9h0M323.5 627.9h0M328.3 701.9h0M331.5 602.5h0M323.5 686.1h0M323.7 603.4h0M325.8 646.5h0M326.9 669.5h0M325.3 655.8h0M327.3 601.1h0M321.1 662.9h0M328.5 591.9h0M327.8 578.2h0M330.7 596.9h0M326.4 605.8h0M323.2 676.3h0M323.3 574.4h0M321.6 657.6h0M328.2 662.9h0M329.3 575.3h0M322.0 669.4h0M328.8 590.3h0M322.1 629.6h0M326.0 634.2h0M329.3 639.5h0M330.9 603.5h0M323.3 590.4h0M331.7 662.5h0M329.1 589.4h0M325.0 652.1h0M321.7 701.4h0M327.8 636.4h0M322.2 647.0h0M328.3 593.3h0M331.0 674.5h0M325.8 670.1h0M324.0 601.4h0M328.3 563.5h0M323.2 676.8h0M330.3 657.9h0M324.8 657.3h0M320.8 570.0h0M324.8 697.4h0M329.2 590.3h0M323.2 659.9h0M322.6 661.2h0M327.2 660.1h0M324.4 608.9h0M325.8 562.8h0M326.0 696.9h0M331.1 597.0h0M324.2 639.3h0M325.5 691.7h0M328.8 668.5h0M326.5 685.1h0M327.3 589.4h0M326.8 579.8h0M330.1 664.2h0M327.1 579.1h0M327.5 623.3h0M329.8 662.4h0M322.8 652.1h0M326.5 624.9h0M328.3 634.8h0M324.7 694.5h0M320.8 641.9h0M329.7 649.0h0M327.5 642.4h0M329.1 585.1h0M324.2 685.0h0M328.3 694.4h0M327.3 598.3h0M326.2 571.3h0M323.0 613.3h0M329.0 664.7h0M326.9 659.2h0M323.6 594.2h0M323.5 664.6h0M331.1 686.4h0M322.4 676.3h0M324.1 647.8h0M327.6 650.2h0M326.3 655.9h0M327.9 577.9h0M328.2 659.0h0M330.3 588.8h0M328.5 640.3h0M328.4 622.2h0M320.8 589.8h0M323.1 636.4h0M328.5 695.1h0M329.7 583.7h0M330.9 609.4h0M329.6 607.6h0M324.9 697.5h0M322.5 565.5h0M323.3 645.8h0M321.8 564.9h0M330.9 588.6h0M330.9 569.1h0M327.9 649.3h0M327.1 605.0h0M331.4 616.4h0M322.1 606.1h0M327.1 669.0h0M329.8 568.6h0M327.3 588.1h0M326.7 562.2h0M330.6 564.3h0M321.3 581.9h0M324.8 586.1h0M331.4 649.2h0M321.6 621.2h0M328.2 686.4h0M331.7 572.1h0M325.7 645.1h0M328.5 656.3h0M329.7 601.9h0M322.1 686.3h0M322.1 609.6h0M325.2 611.1h0M325.9 644.3h0M325.5 659.4h0M330.6 585.4h0M321.3 636.6h0M324.7 613.2h0M331.0 666.8h0M324.9 575.0h0M329.8 624.1h0M322.1 586.1h0M322.5 605.7h0M326.4 647.4h0M330.4 644.1h0M321.1 618.5h0M327.5 640.1h0M329.4 682.1h0M324.9 569.4h0M330.7 602.4h0M327.9 648.2h0M331.4 657.8h0M325.8 582.5h0M324.6 645.2h0M323.9 633.8h0M327.2 635.0h0M330.8 563.5h0M327.8 671.2h0M324.8 602.3h0M331.3 643.4h0M329.2 657.3h0M328.4 649.8h0M327.4 672.9h0M323.9 577.8h0M322.3 628.7h0M321.2 617.3h0M323.7 648.6h0M326.2 610.9h0M330.8 590.9h0M321.8 571.7h0M326.3 593.1h0M327.8 668.9h0M325.2 594.6h0M323.8 655.4h0M327.1 606.1h0M331.4 651.9h0M327.2 670.0h0M324.8 632.1h0M322.5 654.9h0M324.2 611.9h0M328.1 618.9h0M324.1 686.8h0M322.0 598.8h0M328.8 637.8h0M321.3 584.7h0M326.1 657.4h0M327.8 669.8h0M328.3 607.1h0M321.8 686.0h0M321.6 635.9h0M322.3 594.1h0M328.0 641.6h0M330.7 648.9h0M326.7 642.8h0M327.2 661.0h0M330.3 662.0h0M325.2 601.2h0M323.0 584.7h0M329.8 593.7h0M321.7 584.8h0M321.9 571.4h0M324.2 697.0h0M322.1 645.4h0M331.1 595.2h0M320.9 672.6h0M327.4 570.2h0M322.4 641.1h0M329.4 660.9h0M326.2 565.5h0M325.7 667.9h0M324.4 684.5h0M325.5 648.7h0M321.9 592.9h0M328.1 588.4h0M330.4 686.7h0M328.2 674.8h0M330.4 598.6h0M329.5 623.8h0M331.6 638.5h0M321.9 568.2h0M323.6 644.2h0M320.9 659.8h0M325.9 655.7h0M327.6 571.4h0M328.5 599.5h0M327.2 597.2h0M329.9 656.5h0M330.3 580.0h0M322.9 641.8h0M326.1 586.6h0M331.7 696.0h0M326.2 610.5h0M323.8 578.0h0M326.2 560.6h0M329.5 637.5h0M330.7 611.5h0M327.5 598.6h0M330.1 566.1h0M329.3 614.7h0M327.8 661.4h0M322.5 592.1h0M326.0 652.6h0M321.2 648.2h0M323.8 657.9h0M322.5 624.4h0M321.9 652.0h0M324.6 608.6h0M330.3 620.4h0M327.9 662.6h0M329.3 589.4h0M329.2 568.9h0M325.3 599.2h0M324.3 570.7h0M326.4 648.9h0M326.8 562.7h0M324.2 618.7h0M330.9 562.9h0M323.2 643.2h0M327.0 638.8h0M325.5 670.3h0M321.3 654.5h0M323.6 575.9h0M330.9 673.6h0M330.0 685.1h0M326.9 655.2h0M324.6 666.3h0M327.8 652.0h0M326.0 673.0h0M324.0 588.7h0M325.8 600.6h0M327.6 576.3h0M325.2 633.8h0M322.4 674.9h0M322.6 688.7h0M321.9 578.5h0M329.8 700.1h0M331.5 642.6h0M327.2 675.8h0M324.8 629.4h0M328.7 608.5h0M326.7 683.9h0M328.5 618.1h0M327.4 653.5h0M326.7 570.9h0M330.7 667.6h0M330.1 570.3h0M328.2 670.2h0M322.4 569.6h0M323.0 698.3h0M327.8 617.0h0M329.4 658.7h0M326.2 693.3h0M324.6 600.6h0M321.1 651.2h0M330.9 674.2h0M330.6 581.0h0M329.9 645.4h0M331.2 692.1h0M330.0 597.7h0M320.8 564.0h0M325.0 599.2h0M328.7 627.7h0M328.7 682.4h0M327.7 675.7h0M321.2 673.4h0M328.8 569.1h0M329.5 575.1h0M328.8 596.9h0M329.1 653.2h0M322.8 645.5h0M325.8 659.0h0M331.3 687.2h0M324.5 611.8h0M327.6 670.4h0M323.9 615.9h0M323.4 673.8h0M328.7 574.6h0M323.5 597.7h0M327.6 587.8h0M327.0 622.0h0M322.5 586.6h0M331.6 595.7h0M322.6 606.9h0M325.9 651.3h0M331.1 683.6h0M324.2 646.4h0M321.3 637.6h0M325.4 587.4h0M321.6 590.5h0M329.8 603.8h0M329.4 646.9h0M321.9 613.2h0M330.9 643.4h0M329.9 638.2h0M330.2 699.3h0M327.1 613.7h0M328.6 594.6h0M328.9 669.8h0M324.0 630.0h0M325.4 647.5h0M321.9 566.6h0M329.9 657.9h0M324.5 697.2h0M330.3 572.2h0M327.4 618.8h0M327.5 648.1h0M321.3 681.9h0M322.1 583.5h0M324.9 643.8h0M326.0 687.2h0M329.8 664.7h0M323.0 656.7h0M329.0 606.6h0M324.1 588.2h0M322.5 609.1h0M330.0 582.9h0M325.7 610.8h0M330.2 627.4h0M323.7 648.9h0M331.7 600.5h0M325.9 589.1h0M322.6 607.3h0M321.4 576.6h0M331.0 654.6h0M326.7 651.1h0M330.5 676.0h0M326.0 592.7h0M330.9 586.1h0M331.6 655.3h0M330.0 624.4h0M326.7 651.6h0M328.8 637.0h0M326.0 591.6h0M329.7 617.9h0M328.5 618.4h0M327.3 635.7h0M329.4 658.8h0M327.8 632.2h0M326.0 656.7h0M329.2 685.2h0M326.2 594.5h0M326.6 676.0h0M323.4 664.3h0M325.9 592.2h0M330.7 629.4h0M327.6 607.8h0M327.5 587.9h0M327.0 680.7h0M327.5 637.4h0M321.8 627.4h0M326.1 681.9h0M325.0 568.0h0M330.7 638.9h0M327.3 612.0h0M322.1 592.4h0M326.8 649.4h0M321.6 592.6h0M331.5 690.3h0M324.2 570.7h0M330.5 682.3h0M322.8 641.6h0M329.6 678.1h0M325.1 660.9h0M327.6 678.2h0M329.7 591.4h0M322.8 643.2h0M326.4 590.5h0M321.7 665.6h0M331.5 638.3h0M324.1 650.2h0M322.3 575.4h0M329.6 603.0h0M323.3 582.1h0M330.0 571.7h0M331.4 609.5h0M330.2 699.8h0M325.4 620.3h0M330.9 561.0h0M321.8 646.9h0M330.8 645.9h0M322.8 668.3h0M326.2 608.8h0M327.6 612.4h0M330.3 594.9h0M320.9 691.6h0M329.4 641.2h0M323.4 653.7h0M326.1 646.8h0M329.7 642.0h0M326.9 660.1h0M328.6 570.0h0M329.1 591.8h0M327.2 646.3h0M329.3 592.6h0M328.7 631.1h0M329.3 672.7h0M324.4 697.3h0M330.7 655.5h0M320.9 571.8h0M328.3 698.1h0M326.6 649.3h0M326.3 632.9h0M325.3 629.1h0M328.8 598.5h0M329.6 667.6h0M324.1 650.0h0M331.1 563.4h0M326.2 635.7h0M326.7 595.5h0M324.3 659.0h0M322.5 577.9h0M323.8 619.7h0M331.4 604.1h0M325.4 660.5h0M324.6 656.7h0M326.4 657.1h0M328.5 604.6h0M328.6 683.3h0M324.2 682.5h0M328.2 685.3h0M328.2 651.8h0M331.2 625.1h0M331.2 679.7h0M325.7 640.6h0M322.9 656.9h0M331.7 662.9h0M322.6 582.8h0M330.4 653.0h0M325.0 633.3h0M328.4 665.0h0M321.0 670.4h0M324.7 692.9h0M321.7 645.3h0M323.0 689.5h0M328.1 592.0h0M325.6 561.9h0M321.0 662.4h0M325.5 680.7h0M323.0 590.2h0M331.7 642.5h0M322.1 643.6h0M328.0 626.9h0M331.6 584.6h0M323.8 594.2h0M326.6 585.5h0M331.1 665.1h0M323.6 654.8h0M326.7 567.8h0M327.8 659.5h0M331.3 562.0h0M324.5 572.6h0M321.5 609.7h0M322.7 690.8h0M321.5 628.2h0M325.7 610.2h0M324.0 661.4h0M327.8 688.9h0M328.3 606.2h0M323.0 607.7h0M321.1 678.8h0M325.6 571.6h0M331.1 591.2h0M324.6 614.1h0M329.5 671.5h0M326.0 581.9h0M323.6 651.6h0M326.4 669.1h0M330.8 648.2h0M328.5 658.4h0M327.0 566.3h0M331.0 652.3h0M330.5 656.6h0M323.0 647.1h0M323.2 677.7h0M320.8 634.6h0M327.4 564.3h0M325.6 599.5h0M330.7 602.4h0M328.7 698.3h0M328.4 661.2h0M322.0 563.9h0M322.8 649.5h0M327.7 633.4h0M328.5 682.9h0M324.7 591.2h0M323.7 604.5h0M323.7 647.2h0M330.2 569.9h0M327.4 663.4h0M330.9 585.0h0M330.8 656.1h0M329.2 680.2h0M325.9 589.7h0M329.7 677.6h0M325.9 691.7h0M324.4 671.8h0M324.1 646.4h0M324.0 640.1h0M323.8 579.8h0M328.3 640.7h0M328.5 596.0h0M325.0 684.9h0M328.9 647.6h0M328.9 589.6h0M324.8 602.1h0M325.1 657.4h0M329.7 655.0h0M327.8 583.4h0M322.5 584.3h0M327.8 690.9h0M330.5 698.2h0M326.4 616.0h0M326.8 661.5h0M328.6 587.8h0M320.9 628.5h0M324.2 682.6h0M327.7 614.9h0M330.0 639.3h0M323.7 596.3h0M322.0 582.2h0M330.3 654.3h0M323.1 692.7h0M327.6 594.6h0M331.5 619.9h0M330.9 572.7h0M327.3 569.9h0M321.5 645.8h0M323.8 668.3h0M321.7 644.1h0M330.6 667.8h0M323.8 664.3h0M321.0 653.7h0M326.3 594.1h0M330.3 681.6h0M323.5 666.6h0M321.3 596.7h0M329.6 648.5h0M320.9 690.2h0M329.1 647.9h0M322.8 584.2h0M326.5 598.9h0M327.4 655.8h0M326.7 658.9h0M325.8 636.7h0M321.1 651.6h0M326.7 596.4h0M325.2 584.6h0M331.7 567.3h0M327.1 691.4h0M320.8 616.1h0M329.3 658.0h0M325.4 654.1h0M321.0 565.8h0M324.4 617.4h0M328.3 643.3h0M329.2 645.1h0M330.7 655.5h0M330.4 677.3h0M326.4 641.9h0M323.6 560.4h0M331.5 663.3h0M330.9 693.2h0M328.1 606.5h0M328.5 665.1h0M327.2 649.9h0M328.9 657.4h0M326.9 624.4h0M327.4 579.1h0M330.7 631.0h0M321.4 700.4h0M329.2 669.5h0M324.8 674.7h0M330.3 690.7h0M321.7 573.9h0M323.3 629.3h0M330.4 639.5h0M321.9 612.3h0M320.9 595.5h0M328.2 625.9h0M329.3 654.9h0M330.1 631.8h0M322.8 573.3h0M323.8 598.9h0M328.2 654.4h0M324.1 602.6h0M331.2 592.0h0M328.0 628.5h0M322.6 651.7h0M326.4 606.2h0M331.7 620.5h0M324.2 578.4h0M331.5 626.1h0M331.4 665.6h0M327.1 565.7h0M322.2 695.1h0M327.8 624.6h0M331.5 702.3h0M323.8 612.1h0M329.4 606.4h0M329.4 615.5h0M331.6 619.9h0M331.0 593.9h0M328.3 648.5h0M324.0 667.2h0M331.4 641.9h0M329.9 579.8h0M330.5 700.2h0M327.4 671.5h0M329.1 608.1h0M330.4 609.6h0M321.4 657.6h0M323.3 588.5h0M321.4 581.1h0M325.9 585.7h0M327.0 577.7h0M324.6 628.2h0M330.1 575.0h0M321.5 646.4h0M330.7 663.4h0M323.9 646.1h0M328.2 650.8h0M323.1 693.8h0M329.4 658.7h0M325.6 614.0h0M326.9 604.9h0M321.3 603.8h0M331.4 629.1h0M326.7 651.0h0M324.4 653.7h0M325.4 646.2h0M321.8 640.1h0M325.6 652.8h0M326.6 605.6h0M325.5 665.1h0M328.6 645.1h0M328.3 662.0h0M325.2 654.3h0M328.5 678.8h0M331.6 620.6h0M328.9 677.6h0M329.5 632.2h0M327.2 646.7h0M323.8 629.6h0M321.1 664.8h0M328.7 679.7h0M331.2 622.3h0M328.9 651.9h0M330.8 575.3h0M323.4 646.8h0M324.3 667.1h0M325.9 662.4h0M326.4 580.1h0M323.1 668.6h0M327.6 677.9h0M328.7 588.8h0M326.5 639.7h0M324.5 579.8h0M322.2 649.9h0M322.2 661.1h0M327.5 689.9h0M330.4 650.0h0M330.8 593.1h0M328.8 616.0h0M329.8 676.3h0M329.3 664.5h0M322.5 659.6h0M323.6 666.8h0M321.7 597.1h0M325.9 660.3h0M324.7 698.8h0M326.6 622.0h0M322.4 605.8h0M327.6 643.5h0M320.9 683.8h0M330.2 643.2h0M331.7 646.7h0M323.7 607.9h0M321.5 637.9h0M320.8 606.6h0M321.3 566.4h0M327.9 602.3h0M320.8 639.2h0M324.7 686.2h0M328.9 646.3h0M322.8 643.4h0M325.1 654.8h0M328.7 573.5h0M325.8 643.9h0M328.9 596.9h0M328.5 564.3h0M322.9 577.7h0M323.3 637.6h0M324.6 642.3h0M328.5 580.5h0M325.6 653.7h0M323.3 590.7h0M325.2 616.9h0M321.1 641.8h0M327.4 679.8h0M325.5 613.1h0M329.9 690.8h0M323.4 651.5h0M320.8 674.1h0M325.6 633.9h0M321.8 571.3h0M326.5 572.0h0M330.2 673.1h0M327.0 632.6h0M330.3 640.1h0M321.4 627.3h0M326.4 686.7h0M327.7 666.1h0M328.9 688.1h0M321.8 615.9h0M327.8 673.1h0M323.1 600.6h0M323.9 617.5h0M325.6 677.9h0M322.1 574.6h0M323.1 618.4h0M322.6 679.2h0M328.5 675.1h0M322.7 693.7h0M330.7 662.6h0M328.3 698.8h0M327.5 582.9h0M328.9 651.6h0M330.0 693.6h0M330.5 678.7h0M327.0 664.9h0M325.3 679.9h0M324.6 645.0h0M325.2 635.5h0M328.9 656.8h0M322.4 685.6h0M321.9 621.9h0M328.7 562.4h0M322.3 589.5h0M322.0 701.4h0M326.0 650.4h0M320.9 656.8h0M331.4 678.6h0M325.7 595.6h0M327.0 622.9h0M331.6 647.0h0M326.0 669.7h0M325.1 566.7h0M320.8 662.8h0M330.0 676.8h0M326.8 582.5h0M326.7 667.0h0M321.8 665.6h0M324.5 591.1h0M321.5 580.1h0M324.3 629.2h0M326.3 603.3h0M324.4 665.7h0M321.9 651.2h0M324.1 610.1h0M321.0 580.2h0M326.6 559.7h0M321.0 573.5h0M331.4 673.3h0M329.6 597.9h0M331.0 613.0h0M331.5 688.2h0M326.9 580.2h0M328.4 688.5h0M331.0 630.0h0M326.6 619.5h0M326.5 642.9h0M328.1 671.2h0M326.4 619.5h0M329.6 651.6h0M324.2 701.4h0M326.2 615.5h0M330.0 651.6h0M324.3 646.8h0M328.1 582.7h0M321.7 648.4h0M321.8 606.2h0M329.1 659.9h0M325.4 577.1h0M327.6 640.8h0M322.8 694.6h0M321.7 602.4h0M328.6 646.5h0M321.3 621.0h0M325.7 666.8h0M329.6 685.8h0M324.6 600.5h0M329.0 640.0h0M322.3 574.9h0M325.4 608.7h0M330.3 636.1h0M324.1 656.9h0M328.9 605.5h0M323.5 640.5h0M321.8 651.3h0M331.6 611.7h0M330.8 578.5h0M329.2 632.2h0M328.1 604.5h0M328.3 629.0h0M321.1 677.7h0M324.8 575.7h0M326.6 574.1h0M321.0 650.0h0M322.4 630.2h0M325.1 595.3h0M321.8 676.4h0M330.3 636.4h0M328.0 597.4h0M324.8 680.3h0M322.5 665.6h0M323.9 568.7h0M327.6 664.6h0M325.5 586.8h0M327.4 643.5h0M321.2 621.2h0M322.2 643.0h0M327.4 618.6h0M326.3 579.5h0M323.7 627.4h0M329.3 569.1h0M325.8 668.5h0M326.2 652.5h0M324.1 569.5h0M326.3 651.7h0M327.0 571.0h0M330.8 570.6h0M324.7 642.7h0M323.9 606.8h0M324.8 637.6h0M328.6 669.7h0M322.9 569.3h0M329.5 661.8h0M330.7 598.6h0M326.0 609.5h0M331.4 640.3h0M327.1 671.2h0M322.7 576.5h0M329.2 637.8h0M324.5 700.0h0M331.1 622.1h0M325.3 687.1h0M326.1 614.0h0M330.6 639.0h0M329.0 576.2h0M324.0 652.0h0M329.5 626.1h0M322.8 660.7h0M322.8 619.4h0M328.6 689.0h0M329.5 657.9h0M322.4 685.3h0M321.1 693.7h0M322.4 634.2h0M328.8 662.8h0M320.9 646.9h0M331.2 653.2h0M323.2 651.5h0M322.7 643.3h0" stroke="#E04B32" stroke-width="3.2" stroke-linecap="round" fill="none" stroke-opacity="0.9"/><path d="M375.6 612.6h0M386.1 651.5h0M380.1 645.3h0M383.8 607.7h0M378.9 620.0h0M380.5 588.4h0M384.4 653.5h0M379.4 639.6h0M376.8 619.9h0M386.1 659.8h0M377.2 647.1h0M385.7 655.9h0M380.0 643.4h0M378.2 593.0h0M384.1 643.2h0M386.0 624.4h0M384.3 656.7h0M378.1 653.6h0M385.8 662.2h0M385.2 648.1h0M383.4 669.6h0M384.5 644.0h0M379.1 630.8h0M376.9 652.6h0M379.0 597.1h0M383.8 640.7h0M382.9 662.3h0M376.3 641.3h0M380.0 662.2h0M380.4 653.7h0M383.7 619.9h0M377.2 607.2h0M380.6 683.8h0M378.7 688.2h0M380.9 573.9h0M380.5 675.2h0M383.0 635.8h0M385.7 681.3h0M378.7 640.1h0M381.0 651.7h0M380.2 594.0h0M383.7 604.5h0M378.6 603.7h0M384.2 654.5h0M381.3 610.8h0M374.9 640.3h0M380.1 583.2h0M383.8 648.9h0M381.3 607.9h0M378.5 685.6h0M383.8 573.3h0M374.6 657.0h0M383.0 648.1h0M382.2 630.4h0M383.6 641.3h0M379.2 665.0h0M382.9 679.0h0M376.1 638.6h0M381.3 685.5h0M382.7 684.1h0M374.7 689.2h0M382.0 585.2h0M382.5 591.1h0M381.5 650.2h0M385.6 638.9h0M383.3 647.4h0M377.1 600.5h0M383.0 578.2h0M378.9 678.2h0M380.4 675.2h0M374.6 664.6h0M382.8 680.7h0M385.4 586.0h0M380.6 677.7h0M386.0 628.8h0M385.3 584.1h0M385.8 656.5h0M378.6 634.1h0M385.3 607.4h0M383.6 617.2h0M375.4 602.9h0M378.5 611.8h0M382.7 665.5h0M379.0 645.9h0M383.0 641.4h0M376.4 655.5h0M384.4 609.0h0M383.2 659.0h0M381.1 578.7h0M381.0 638.0h0M381.6 636.3h0M379.8 641.2h0M379.7 655.1h0M375.7 645.3h0M386.0 666.3h0M382.4 663.0h0M377.4 587.3h0M383.8 594.8h0M376.1 604.4h0M380.2 636.7h0M379.2 640.4h0M382.6 579.2h0M384.7 668.8h0M374.9 611.1h0M385.6 658.1h0M384.5 587.8h0M379.3 603.7h0M375.1 664.1h0M375.4 614.4h0M380.7 633.1h0M383.4 655.5h0M377.5 629.9h0M382.7 600.6h0M376.7 603.5h0M378.0 662.9h0M378.4 651.5h0M380.0 666.5h0M376.1 607.9h0M375.6 605.1h0M382.3 579.5h0M376.0 663.4h0M385.6 663.1h0M385.7 656.8h0M384.6 634.2h0M379.0 683.4h0M378.5 648.6h0M386.0 622.7h0M378.6 668.6h0M381.9 668.5h0M382.3 612.5h0M383.3 614.8h0M374.9 677.2h0M384.8 691.3h0M383.3 626.5h0M377.6 664.1h0M383.8 665.7h0M385.3 667.6h0M377.7 589.9h0M376.0 637.5h0M379.8 643.0h0M376.7 593.6h0M375.8 687.1h0M375.3 672.8h0M374.9 662.7h0M380.5 651.5h0M383.1 624.8h0M376.6 635.1h0M385.4 630.9h0M379.1 664.6h0M381.7 641.2h0M374.6 617.0h0M375.9 655.6h0M380.7 650.5h0M380.1 649.1h0M375.1 635.9h0M378.4 586.5h0M383.4 603.5h0M381.5 614.6h0M380.3 632.1h0M378.5 666.8h0M378.8 653.5h0M378.6 657.5h0M385.2 660.2h0M379.4 678.1h0M376.7 592.1h0M385.2 582.2h0M376.5 668.8h0M378.5 651.5h0M386.0 576.2h0M374.9 636.2h0M383.3 666.7h0M378.6 633.5h0M380.1 631.5h0M379.4 599.5h0M376.3 632.9h0M378.5 649.9h0M385.2 599.5h0M383.4 646.1h0M385.3 660.5h0M380.7 632.1h0M383.8 672.6h0M385.2 609.1h0M378.7 656.1h0M382.8 599.5h0M384.2 660.2h0M376.2 590.9h0M380.5 680.3h0M385.7 600.4h0M377.2 673.7h0M380.5 674.6h0M375.7 635.2h0M375.9 658.8h0M374.9 649.3h0M379.1 662.2h0M381.8 635.6h0M377.8 607.7h0M375.9 660.4h0M380.5 652.2h0M382.0 607.4h0M385.8 640.1h0M385.0 620.8h0M379.3 613.5h0M380.9 603.0h0M383.4 644.6h0M384.3 653.0h0M384.9 599.4h0M384.0 590.6h0M381.7 678.4h0M385.7 649.0h0M384.0 652.6h0M379.2 608.8h0M376.4 644.9h0M377.6 587.6h0M379.4 598.5h0M384.3 636.3h0M381.3 638.4h0M380.1 662.9h0M384.8 663.3h0M384.1 654.6h0M381.0 606.9h0M383.6 666.3h0M377.4 645.8h0M385.0 661.3h0M383.9 592.1h0M384.2 649.2h0M384.5 658.4h0M376.3 665.7h0M377.0 587.1h0M378.0 658.4h0M381.2 597.1h0M379.1 650.1h0M379.6 692.0h0M380.3 655.0h0M381.7 629.3h0M378.2 649.0h0M385.0 679.3h0M376.5 653.5h0M381.5 646.8h0M376.0 666.3h0M385.6 586.9h0M377.9 652.9h0M379.9 615.9h0M380.8 651.2h0M382.4 575.1h0M384.4 673.4h0M382.8 664.4h0M379.5 673.9h0M375.9 586.6h0M385.3 617.7h0M384.4 647.6h0M374.7 582.2h0M384.1 602.7h0M374.9 641.5h0M380.6 661.8h0M386.0 658.2h0M384.7 631.6h0M382.3 659.3h0M384.2 649.4h0M385.4 677.2h0M375.9 655.3h0M381.9 642.4h0M379.5 615.0h0M376.4 666.2h0M383.7 616.9h0M375.9 662.0h0M379.1 619.1h0M382.9 681.2h0M377.8 637.8h0M377.7 659.8h0M384.4 640.0h0M377.1 594.1h0M381.3 637.5h0M383.2 679.9h0M380.8 619.3h0M375.6 632.4h0M383.9 656.1h0M375.2 579.8h0M381.1 590.2h0M383.3 646.0h0M378.8 646.8h0M380.5 583.2h0M386.1 665.0h0M375.6 661.3h0M382.6 583.3h0M380.5 687.7h0M380.3 644.9h0M383.5 626.7h0M376.5 586.2h0M384.3 620.4h0M376.5 577.7h0M384.8 672.1h0M379.5 657.9h0M385.8 644.2h0M378.1 654.9h0M385.0 625.8h0M377.1 642.9h0M381.5 662.7h0M386.1 644.5h0M382.2 586.9h0M385.5 614.9h0" stroke="#5BBFD6" stroke-width="3.2" stroke-linecap="round" fill="none" stroke-opacity="0.8"/><path d="M437.7 578.8h0M434.8 591.7h0M436.5 596.9h0M432.1 599.5h0M431.5 601.5h0M433.0 614.2h0M435.3 639.5h0M436.8 643.5h0M432.1 646.0h0M435.5 649.0h0M437.5 652.2h0M435.8 656.5h0M435.3 658.3h0M431.3 661.0h0M432.7 666.9h0M436.3 667.6h0M434.0 679.5h0M434.0 690.0h0" stroke="#2BAE8A" stroke-width="3.2" stroke-linecap="round" fill="none" stroke-opacity="0.8"/><path d="M326.2 559.1C326.5 559.8 327.4 561.2 328.0 563.0C328.6 564.8 329.0 567.6 329.9 569.8C330.8 572.0 332.1 573.8 333.2 576.0C334.3 578.2 335.5 579.9 336.7 583.0C337.9 586.1 340.3 591.0 340.5 594.6C340.7 598.2 338.8 601.6 337.9 604.5C337.0 607.4 335.9 609.5 335.2 612.0C334.5 614.5 333.9 617.1 333.9 619.4C333.9 621.7 334.4 623.5 335.2 626.0C336.0 628.5 337.0 631.5 338.6 634.3C340.2 637.1 342.9 640.2 344.7 643.0C346.5 645.8 349.2 648.3 349.5 650.8C349.8 653.3 348.2 655.5 346.7 658.0C345.1 660.5 342.1 663.4 340.2 665.7C338.3 668.0 336.6 669.8 335.2 672.0C333.8 674.2 332.6 675.5 331.6 678.9C330.6 682.2 330.0 688.2 329.2 692.1C328.4 696.0 326.9 700.4 326.5 702.0L325.9 702.0C325.4 700.4 324.0 696.0 323.2 692.1C322.4 688.2 321.8 682.2 320.8 678.9C319.8 675.5 318.6 674.2 317.2 672.0C315.8 669.8 314.1 668.0 312.2 665.7C310.3 663.4 307.2 660.5 305.7 658.0C304.1 655.5 302.6 653.3 302.9 650.8C303.2 648.3 305.9 645.8 307.7 643.0C309.5 640.2 312.2 637.1 313.8 634.3C315.4 631.5 316.4 628.5 317.2 626.0C318.0 623.5 318.5 621.7 318.5 619.4C318.5 617.1 317.9 614.5 317.2 612.0C316.5 609.5 315.4 607.4 314.5 604.5C313.6 601.6 311.7 598.2 311.9 594.6C312.1 591.0 314.5 586.1 315.7 583.0C316.9 579.9 318.1 578.2 319.2 576.0C320.3 573.8 321.6 572.0 322.5 569.8C323.4 567.6 323.8 564.8 324.4 563.0C325.0 561.2 325.9 559.8 326.2 559.1Z" fill="none" stroke="#000" stroke-width="0.8"/><path d="M380.4 563.5C380.8 564.6 382.1 567.5 382.9 570.0C383.7 572.5 384.3 574.8 385.4 578.3C386.5 581.8 388.3 586.6 389.3 590.7C390.2 594.8 391.0 599.6 391.1 603.1C391.2 606.6 390.3 609.2 389.9 612.0C389.5 614.8 388.6 616.7 388.8 620.1C389.0 623.5 389.4 628.9 391.2 632.5C393.0 636.1 397.1 637.9 399.4 641.8C401.7 645.7 405.5 651.4 405.1 655.8C404.7 660.2 399.5 665.2 397.1 668.2C394.6 671.2 392.2 672.2 390.4 674.0C388.6 675.8 387.4 676.2 386.2 679.1C385.0 682.0 384.3 688.1 383.4 691.5C382.5 694.9 381.1 697.9 380.7 699.2L380.1 699.2C379.6 697.9 378.3 694.9 377.4 691.5C376.5 688.1 375.8 682.0 374.6 679.1C373.4 676.2 372.2 675.8 370.4 674.0C368.6 672.2 366.1 671.2 363.7 668.2C361.2 665.2 356.1 660.2 355.7 655.8C355.3 651.4 359.1 645.7 361.4 641.8C363.7 637.9 367.8 636.1 369.6 632.5C371.4 628.9 371.8 623.5 372.0 620.1C372.2 616.7 371.3 614.8 370.9 612.0C370.5 609.2 369.6 606.6 369.7 603.1C369.8 599.6 370.6 594.8 371.5 590.7C372.4 586.6 374.3 581.8 375.4 578.3C376.5 574.8 377.1 572.5 377.9 570.0C378.7 567.5 380.0 564.6 380.4 563.5Z" fill="none" stroke="#000" stroke-width="0.8"/><path d="M439.1 579.0C439.5 580.3 440.8 583.6 441.5 586.8C442.2 590.0 443.3 594.7 443.4 598.4C443.4 602.1 442.4 605.3 442.0 608.8C441.6 612.2 440.6 615.7 440.8 619.1C441.0 622.5 441.5 626.0 443.3 629.4C445.1 632.8 449.7 635.7 451.6 639.8C453.5 643.9 455.1 649.3 454.8 654.0C454.5 658.7 451.5 663.7 449.7 668.2C447.9 672.7 445.7 677.6 444.2 681.1C442.7 684.6 441.1 688.1 440.5 689.5L428.5 689.5C427.9 688.1 426.3 684.6 424.8 681.1C423.3 677.6 421.1 672.7 419.3 668.2C417.5 663.7 414.5 658.7 414.2 654.0C413.9 649.3 415.5 643.9 417.4 639.8C419.3 635.7 423.9 632.8 425.7 629.4C427.5 626.0 428.0 622.5 428.2 619.1C428.4 615.7 427.4 612.2 427.0 608.8C426.6 605.3 425.6 602.1 425.6 598.4C425.7 594.7 426.8 590.0 427.5 586.8C428.2 583.6 429.5 580.3 429.9 579.0Z" fill="none" stroke="#000" stroke-width="0.8"/><line x1="326.3" y1="559.1" x2="326.3" y2="600.4" stroke="#000" stroke-width="0.8" /><line x1="326.3" y1="655.8" x2="326.3" y2="702.0" stroke="#000" stroke-width="0.8" /><rect x="318.2" y="600.4" width="16.2" height="55.4" fill="none" stroke="#000" stroke-width="0.8" /><line x1="318.2" y1="644.5" x2="334.4" y2="644.5" stroke="#000" stroke-width="1.4" /><line x1="380.5" y1="563.5" x2="380.5" y2="613.2" stroke="#000" stroke-width="0.8" /><line x1="380.5" y1="659.7" x2="380.5" y2="699.2" stroke="#000" stroke-width="0.8" /><rect x="372.2" y="613.2" width="16.7" height="46.5" fill="none" stroke="#000" stroke-width="0.8" /><line x1="372.2" y1="648.5" x2="388.9" y2="648.5" stroke="#000" stroke-width="1.4" /><line x1="434.5" y1="579.0" x2="434.5" y2="620.4" stroke="#000" stroke-width="0.8" /><line x1="434.5" y1="660.4" x2="434.5" y2="689.5" stroke="#000" stroke-width="0.8" /><rect x="426.3" y="620.4" width="16.3" height="40.0" fill="none" stroke="#000" stroke-width="0.8" /><line x1="426.3" y1="648.2" x2="442.6" y2="648.2" stroke="#000" stroke-width="1.4" /><text x="476.9" y="516.8" font-size="16.5" text-anchor="start" fill="#000" >G</text><text x="521.2" y="521.1" font-size="8.88" text-anchor="start" fill="#111" >Genotype</text><circle cx="571.6" cy="517.9" r="2.0" fill="#E04B32"/><text x="582.9" y="520.6" font-size="7.6" text-anchor="start" fill="#222" >CC</text><circle cx="605.3" cy="517.9" r="2.0" fill="#5BBFD6"/><text x="615.9" y="520.6" font-size="7.6" text-anchor="start" fill="#222" >CG</text><circle cx="639.0" cy="517.9" r="2.0" fill="#2BAE8A"/><text x="650.3" y="520.6" font-size="7.6" text-anchor="start" fill="#222" >GG</text><text x="522.8" y="543.6" font-size="7.98" text-anchor="start" fill="#111" >Spearman correlation:</text><text x="531.8" y="553.6" font-size="7.36" text-anchor="start" fill="#111" >r = −0.07, p = 2.7e−2</text><line x1="510.6" y1="538.2" x2="510.6" y2="710.0" stroke="#000" stroke-width="1" /><line x1="510.1" y1="709.5" x2="671.5" y2="709.5" stroke="#000" stroke-width="1" /><line x1="508.4" y1="546.2" x2="510.6" y2="546.2" stroke="#000" stroke-width="0.8" /><text x="507.4" y="548.6" font-size="6.8" text-anchor="end" fill="#4d4d4d" >1e+05</text><line x1="508.4" y1="601.8" x2="510.6" y2="601.8" stroke="#000" stroke-width="0.8" /><text x="507.4" y="604.2" font-size="6.8" text-anchor="end" fill="#4d4d4d" >1e+04</text><line x1="508.4" y1="657.6" x2="510.6" y2="657.6" stroke="#000" stroke-width="0.8" /><text x="507.4" y="660.0" font-size="6.8" text-anchor="end" fill="#4d4d4d" >1e+03</text><line x1="541.0" y1="709.5" x2="541.0" y2="711.6" stroke="#000" stroke-width="0.8" /><text x="541.0" y="718.7" font-size="6.8" text-anchor="middle" fill="#4d4d4d" >CC</text><line x1="591.2" y1="709.5" x2="591.2" y2="711.6" stroke="#000" stroke-width="0.8" /><text x="591.2" y="718.7" font-size="6.8" text-anchor="middle" fill="#4d4d4d" >CG</text><line x1="641.6" y1="709.5" x2="641.6" y2="711.6" stroke="#000" stroke-width="0.8" /><text x="641.6" y="718.7" font-size="6.8" text-anchor="middle" fill="#4d4d4d" >GG</text><text x="591.2" y="729.8" font-size="8.88" text-anchor="middle" fill="#111" >Genotype</text><text transform="translate(479.5,625.0) rotate(-90)" x="0" y="3.06" font-size="8.5" text-anchor="middle" fill="#111">Cytokine levels (IL22)</text><path d="M542.7 691.3h0M536.4 641.6h0M545.8 592.9h0M537.0 611.3h0M536.2 619.9h0M542.0 646.8h0M542.9 653.7h0M542.8 666.8h0M540.5 624.4h0M542.7 659.6h0M538.3 656.1h0M536.4 632.3h0M545.7 697.0h0M539.6 678.5h0M543.5 590.6h0M540.3 639.6h0M542.8 659.5h0M543.0 645.0h0M542.2 665.8h0M544.5 613.9h0M538.3 641.7h0M539.2 670.8h0M536.6 687.3h0M540.2 659.4h0M538.2 612.7h0M543.7 643.8h0M536.1 642.0h0M545.5 602.4h0M536.9 654.8h0M537.6 651.2h0M537.4 667.4h0M542.7 631.8h0M538.4 658.8h0M544.4 679.5h0M539.5 662.2h0M542.3 691.3h0M538.2 678.2h0M543.9 641.2h0M545.6 643.5h0M540.1 658.2h0M541.2 659.5h0M543.2 663.0h0M536.6 632.7h0M539.6 694.0h0M544.4 642.0h0M536.3 658.7h0M544.9 615.3h0M537.9 685.9h0M543.4 672.0h0M545.7 637.7h0M541.3 606.2h0M544.1 642.5h0M537.4 641.9h0M545.9 649.4h0M542.0 686.6h0M536.1 632.9h0M540.7 644.8h0M545.8 676.9h0M540.3 663.8h0M538.6 684.2h0M543.0 594.6h0M539.1 636.0h0M539.7 689.5h0M537.8 671.7h0M541.2 697.3h0M542.2 638.7h0M541.8 680.2h0M536.7 591.8h0M544.3 617.4h0M537.4 625.7h0M544.1 691.7h0M544.1 621.2h0M542.7 657.4h0M542.7 655.0h0M543.1 700.1h0M536.1 614.4h0M541.6 636.3h0M543.9 632.8h0M538.4 597.5h0M539.1 611.3h0M543.1 594.2h0M539.0 588.1h0M540.3 671.6h0M545.2 617.8h0M539.2 630.5h0M536.2 613.8h0M543.5 660.2h0M540.6 595.9h0M539.0 700.7h0M543.7 587.4h0M540.7 672.3h0M540.1 610.1h0M541.5 635.2h0M536.7 596.3h0M536.6 598.2h0M544.1 648.4h0M538.9 601.1h0M537.9 635.0h0M539.0 670.7h0M543.3 672.5h0M536.6 675.2h0M541.6 698.3h0M542.5 598.2h0M538.2 593.9h0M537.8 641.1h0M537.1 603.4h0M541.0 672.4h0M543.6 597.3h0M538.8 687.5h0M537.9 626.9h0M545.8 641.3h0M542.0 692.1h0M540.6 670.9h0M544.3 689.8h0M544.6 625.0h0M539.1 666.9h0M542.2 678.1h0M539.0 645.0h0M544.5 633.6h0M543.0 623.6h0M545.9 657.5h0M544.5 681.1h0M545.9 667.2h0M544.1 666.2h0M537.1 647.2h0M542.9 629.2h0M544.5 682.6h0M544.3 671.2h0M545.4 647.2h0M540.3 617.2h0M544.7 588.1h0M537.9 596.0h0M545.4 644.6h0M544.6 629.4h0M543.9 656.9h0M543.2 653.4h0M539.7 692.0h0M541.7 691.0h0M543.1 666.9h0M539.5 679.8h0M544.6 662.8h0M537.5 690.0h0M536.8 673.6h0M544.0 637.8h0M543.3 655.2h0M536.3 657.8h0M542.5 677.9h0M538.9 649.8h0M536.6 676.8h0M539.7 637.7h0M544.7 691.3h0M536.4 653.6h0M541.0 669.5h0M542.4 657.2h0M537.6 670.2h0M538.9 677.2h0M543.5 647.8h0M541.7 689.5h0M545.0 619.7h0M536.4 626.1h0M541.4 691.2h0M538.4 669.1h0M541.8 626.1h0M537.1 670.0h0M537.4 675.8h0M538.7 656.0h0M536.7 671.3h0M541.7 675.3h0M536.6 644.4h0M544.8 651.2h0M541.5 606.3h0M545.9 597.7h0M542.2 699.5h0M536.9 594.9h0M540.3 680.4h0M543.0 653.4h0M541.8 653.2h0M544.6 651.5h0M537.5 657.9h0M542.9 686.2h0M541.3 634.2h0M542.7 647.4h0M544.9 645.2h0M545.6 672.1h0M539.5 653.2h0M536.8 665.7h0M537.7 590.2h0M539.6 662.0h0M540.4 690.7h0M543.3 595.1h0M544.6 683.1h0M539.2 603.0h0M541.8 641.2h0M545.7 648.4h0M541.3 636.2h0M540.8 697.9h0M538.5 645.5h0M538.0 657.6h0M539.3 676.2h0M537.5 683.2h0M540.3 625.1h0M545.9 702.4h0M536.6 624.9h0M543.9 640.0h0M538.9 663.2h0M542.7 651.5h0M545.8 673.9h0M544.9 687.6h0M537.5 587.2h0M543.9 649.6h0M541.0 650.5h0M536.7 644.0h0M536.7 657.7h0M540.7 666.6h0M544.7 636.4h0M544.3 596.2h0M545.5 692.6h0M541.8 700.3h0M545.8 668.6h0M540.5 632.1h0M536.7 633.8h0M539.8 637.4h0M542.4 680.0h0M544.5 689.5h0M537.5 636.0h0M542.0 644.6h0M545.9 657.8h0M538.2 680.5h0M544.6 641.1h0M543.0 657.4h0M543.6 603.7h0M539.3 621.6h0M544.0 589.3h0M546.0 681.9h0M543.8 661.2h0M538.4 619.6h0M538.6 606.3h0M538.7 612.0h0M537.8 593.6h0M544.5 637.6h0M539.2 632.0h0M542.0 687.7h0M536.7 609.0h0M536.1 631.8h0M537.0 673.7h0M542.3 634.4h0M541.1 618.6h0M536.3 661.7h0M544.2 638.2h0M541.7 672.1h0M537.4 610.5h0M544.0 665.0h0M536.3 603.1h0M540.3 593.6h0M537.8 672.4h0M541.0 687.0h0M537.0 658.8h0M538.3 665.1h0M541.8 669.7h0M540.9 685.2h0M540.9 636.3h0M543.5 678.4h0M541.7 661.2h0M545.1 695.1h0M545.4 678.6h0M544.9 633.4h0M541.0 648.0h0M542.4 677.9h0M541.5 636.4h0M542.0 602.4h0M545.6 683.6h0M537.9 617.0h0M537.4 673.6h0M539.4 620.3h0M541.1 686.6h0M540.7 676.9h0M536.1 668.7h0M540.8 668.9h0M539.2 667.5h0M536.3 604.5h0M544.4 677.4h0M541.3 691.4h0M544.7 655.2h0M542.1 696.3h0M536.4 636.6h0M544.6 596.5h0M538.9 673.1h0M544.4 631.8h0M536.5 643.5h0M542.6 666.6h0M540.2 674.4h0M543.0 701.8h0M538.8 677.7h0M539.1 678.0h0M541.7 661.7h0M538.8 659.8h0M542.3 680.0h0M543.9 691.4h0M539.5 662.9h0M541.6 644.6h0M541.8 631.0h0M545.9 638.8h0M543.9 659.4h0M543.2 592.3h0M541.0 672.1h0M545.8 684.4h0M537.7 652.9h0M536.7 688.6h0M537.3 675.2h0M544.9 666.2h0M544.4 689.3h0M537.1 687.4h0M538.7 680.7h0M540.1 602.5h0M538.7 665.6h0M541.4 682.0h0M539.4 640.8h0M545.1 646.3h0M545.6 679.2h0M545.0 687.9h0M542.4 684.7h0M538.2 674.0h0M542.9 670.0h0M543.9 663.2h0M545.2 651.7h0M540.4 681.3h0M544.8 670.3h0M544.7 682.2h0M542.8 649.7h0M539.0 645.0h0M544.4 680.5h0M537.7 681.2h0M536.5 668.8h0M544.8 666.4h0M543.5 618.1h0M545.4 685.8h0M540.9 637.8h0M537.6 631.2h0M540.1 609.6h0M537.4 686.7h0M545.3 668.3h0M545.9 698.0h0M545.5 629.3h0M540.0 696.5h0M543.7 684.0h0M539.5 682.7h0M536.1 650.3h0M540.1 657.9h0M536.3 651.1h0M539.4 658.9h0M544.5 689.1h0M540.8 621.8h0M539.6 662.0h0M537.4 687.1h0M544.4 644.5h0M545.9 657.2h0M543.6 614.1h0M541.3 635.4h0M545.5 669.6h0M545.9 641.9h0M541.2 634.5h0M539.4 624.3h0M541.5 617.6h0M543.0 590.3h0M540.4 699.5h0M536.6 669.1h0M541.8 599.0h0M536.6 657.3h0M542.7 664.6h0M537.7 665.5h0M537.4 604.3h0M541.7 687.1h0M541.7 678.9h0M542.9 661.4h0M539.9 626.2h0M540.0 587.4h0M538.3 654.5h0M539.1 649.6h0M543.2 694.2h0M541.4 670.7h0M542.2 675.6h0M542.1 629.9h0M540.7 671.6h0M541.7 667.7h0M541.7 667.5h0M545.4 653.4h0M545.7 608.7h0M544.7 663.2h0M541.1 640.9h0M541.8 686.0h0M540.9 590.6h0M536.8 589.9h0M539.2 650.0h0M542.6 649.9h0M543.0 668.2h0M543.9 647.2h0M543.7 694.6h0M545.7 647.3h0M540.3 662.8h0M539.6 605.9h0M543.1 619.7h0M543.7 621.1h0M545.0 685.0h0M545.1 609.4h0M542.2 694.2h0M539.8 659.0h0M545.6 614.7h0M540.3 692.4h0M539.9 640.3h0M544.8 630.1h0M542.8 631.1h0M545.0 596.2h0M539.8 667.7h0M544.7 629.9h0M536.1 628.7h0M537.2 688.0h0M538.4 680.3h0M543.2 647.6h0M538.9 595.1h0M541.0 614.1h0M538.5 591.7h0M539.4 651.8h0M542.3 656.3h0M544.3 680.1h0M536.7 682.4h0M540.6 635.7h0M536.0 685.1h0M543.8 589.3h0M545.6 603.5h0M544.1 597.8h0M536.3 677.3h0M538.3 681.2h0M544.3 641.7h0M542.0 692.8h0M538.6 667.1h0M538.6 660.5h0M544.3 699.3h0M542.9 690.2h0M541.3 683.5h0M538.4 631.9h0M538.5 643.2h0M537.3 667.9h0M545.4 661.0h0M542.4 665.8h0M544.2 639.4h0M542.0 605.9h0M541.8 695.4h0M540.6 669.8h0M538.7 690.9h0M541.3 676.6h0M537.7 677.6h0M545.5 668.1h0M538.6 639.7h0M541.8 598.8h0M544.1 647.8h0M536.7 683.3h0M539.2 688.4h0M538.1 672.6h0M536.9 587.1h0M543.6 605.9h0M544.1 670.3h0M539.5 609.1h0M542.8 642.8h0M540.1 588.2h0M539.3 668.6h0M544.2 667.4h0M543.2 683.2h0M544.4 633.4h0M539.7 659.0h0M544.9 670.6h0M542.8 636.7h0M545.6 677.9h0M540.0 632.9h0M536.8 675.8h0M544.3 630.6h0M542.8 683.3h0M544.2 642.9h0M541.5 674.0h0M538.6 630.7h0M536.8 613.4h0M545.0 667.6h0M541.7 642.5h0M543.4 639.8h0M540.0 671.3h0M544.6 689.9h0M539.7 641.7h0M539.1 648.0h0M538.5 637.8h0M541.2 687.5h0M536.9 641.3h0M538.3 676.1h0M545.4 652.3h0M541.2 592.7h0M540.4 687.1h0M537.5 641.1h0M540.6 662.0h0M536.8 659.0h0M543.0 663.6h0M537.5 663.4h0M539.1 597.7h0M544.8 618.5h0M537.4 690.3h0M538.3 666.3h0M538.2 628.0h0M544.7 598.8h0M542.9 669.5h0M539.0 679.8h0M538.4 662.0h0M542.5 702.0h0M543.5 616.0h0M542.2 625.8h0M541.5 606.3h0M538.4 676.9h0M545.9 687.3h0M541.6 591.4h0M539.4 650.5h0M544.0 609.4h0M541.7 662.7h0M537.4 662.4h0M543.1 679.3h0M541.6 607.4h0M536.4 685.9h0M538.9 699.4h0M536.2 677.1h0M536.0 602.0h0M537.5 650.2h0M545.7 657.6h0M537.5 693.5h0M541.0 640.6h0M539.8 685.7h0M536.5 644.2h0M543.0 632.5h0M541.8 609.7h0M537.9 624.4h0M543.9 643.8h0M539.0 679.2h0M540.5 647.5h0M539.2 650.8h0M545.5 675.7h0M544.7 688.1h0M545.7 621.4h0M539.9 664.2h0M540.5 660.4h0M543.4 636.0h0M542.0 629.1h0M541.7 684.0h0M541.2 701.9h0M545.0 641.2h0M539.9 658.4h0M542.4 663.7h0M537.8 656.3h0M544.3 658.2h0M544.3 652.2h0M541.4 657.5h0M537.8 642.5h0M544.6 623.7h0M539.1 659.7h0M539.1 602.5h0M536.9 629.2h0M539.9 647.6h0M537.1 593.0h0M540.4 682.7h0M538.6 626.3h0M540.7 671.3h0M540.4 667.6h0M541.6 672.4h0M536.4 626.8h0M538.2 605.8h0M545.0 683.9h0M538.4 652.1h0M543.3 614.6h0M537.5 672.3h0M536.8 636.3h0M541.5 602.5h0M536.2 664.9h0M537.3 627.7h0M544.4 661.1h0M545.7 594.1h0M545.2 683.9h0M538.5 610.9h0M536.0 621.2h0M543.6 682.7h0M545.7 652.3h0M545.4 600.1h0M538.6 685.3h0M543.3 598.3h0M539.3 628.8h0M542.9 644.9h0M537.1 657.4h0M536.3 665.6h0M537.5 614.5h0M545.8 601.4h0M536.1 669.8h0M539.7 654.1h0M545.7 629.0h0M537.6 653.3h0M538.1 625.5h0M539.9 683.5h0M543.2 690.2h0M541.6 681.9h0M542.0 617.3h0M541.5 672.1h0M544.8 662.5h0M541.4 636.9h0M537.2 701.2h0M545.8 659.0h0M543.5 675.4h0M542.4 662.5h0M541.6 613.3h0M538.7 702.4h0M544.4 587.3h0M541.2 673.7h0M544.4 664.9h0M544.6 701.9h0M544.1 591.9h0M542.8 662.8h0M539.6 693.5h0M545.7 639.3h0M544.0 695.7h0M539.5 679.0h0M541.2 683.9h0M544.2 642.8h0M539.5 690.1h0M543.3 600.9h0M543.1 669.9h0M540.8 695.1h0M539.1 647.5h0M544.6 588.8h0M544.1 646.4h0M536.8 659.0h0M539.7 646.2h0M546.0 591.1h0M540.5 675.0h0M542.2 663.9h0M536.0 605.8h0M540.1 650.7h0M539.8 624.8h0M538.5 690.7h0M541.2 650.7h0M544.6 652.1h0M539.3 689.7h0M540.8 648.4h0M545.2 588.8h0M538.3 659.2h0M536.7 612.6h0M539.2 664.7h0M539.9 662.3h0M542.7 673.8h0M540.8 676.5h0M543.7 666.2h0M540.1 680.6h0M544.5 668.8h0M542.6 681.3h0M541.5 686.0h0M537.4 699.1h0M536.8 673.0h0M545.3 681.0h0M543.3 678.5h0M540.6 690.4h0M539.4 691.7h0M538.2 607.4h0M544.4 659.1h0M541.0 688.7h0M545.3 662.2h0M542.5 648.7h0M539.9 681.8h0M538.6 683.8h0M541.5 649.1h0M536.9 642.0h0M540.6 670.6h0M539.9 658.1h0M537.4 655.8h0M542.8 678.5h0M545.2 631.1h0M540.8 663.6h0M541.2 676.9h0M537.2 677.7h0M537.7 655.6h0M543.5 636.0h0M538.7 679.5h0M542.5 693.8h0M545.9 686.7h0M537.5 658.1h0M538.1 675.4h0M539.3 681.4h0M542.7 644.3h0M539.1 631.5h0M543.6 670.1h0M544.8 670.8h0M537.3 633.7h0M543.2 680.5h0M539.1 685.2h0M537.8 663.0h0M539.6 645.6h0M536.4 589.5h0M544.6 677.5h0M544.9 642.2h0M544.2 665.3h0M539.8 622.9h0M539.5 640.2h0M539.3 626.3h0M539.2 664.1h0M536.8 649.8h0M537.7 652.6h0M538.6 593.8h0M538.5 682.0h0M545.8 635.9h0M541.2 675.1h0M540.2 648.2h0M540.8 670.4h0M545.7 624.6h0M537.9 621.8h0M544.7 593.3h0M545.3 686.2h0M543.0 684.1h0M536.7 624.3h0M538.5 697.2h0M541.2 682.9h0M542.0 671.1h0M541.4 616.2h0M544.3 679.2h0M545.5 661.0h0M537.8 682.1h0M539.1 660.2h0M544.7 663.0h0M538.3 621.4h0M540.9 686.1h0M544.0 693.9h0M543.7 620.4h0M542.5 670.1h0M544.8 680.8h0M538.1 655.5h0M541.0 598.7h0M539.2 683.1h0M537.8 672.5h0M540.7 588.6h0M539.9 615.1h0M541.9 624.8h0M541.8 680.1h0M541.6 603.2h0M540.3 658.4h0M543.1 651.3h0M537.0 660.5h0M542.6 692.9h0M540.7 686.3h0M543.1 642.2h0M538.0 641.3h0M542.3 625.4h0M544.1 645.6h0M539.7 689.1h0M542.8 685.2h0M537.4 666.1h0M538.6 637.0h0M544.2 609.7h0M537.1 645.8h0M537.3 642.7h0M538.8 630.8h0M542.1 674.4h0M538.0 692.9h0M542.1 672.0h0M536.9 676.1h0M541.3 675.3h0M542.5 649.2h0M536.5 645.5h0M543.8 681.0h0M541.6 682.8h0M536.5 593.3h0M544.6 650.3h0M544.5 689.6h0M540.5 611.2h0M539.2 690.4h0M545.7 660.1h0M540.4 653.1h0M540.0 609.0h0M543.4 634.0h0M545.6 619.5h0M537.4 624.4h0M545.4 638.5h0M537.3 666.9h0M546.0 661.4h0M539.0 600.3h0M544.1 675.5h0M537.9 680.6h0M539.9 589.4h0M542.5 687.8h0M541.0 655.6h0M542.5 644.3h0M540.7 673.6h0M540.2 628.3h0M536.3 600.7h0M540.2 593.8h0M538.1 607.0h0M540.4 618.5h0M545.8 628.9h0M540.5 620.9h0M536.1 674.3h0M545.8 694.9h0M543.5 657.1h0M537.5 685.8h0M545.6 609.6h0M538.1 687.3h0M544.2 596.7h0M540.3 633.1h0M539.4 693.4h0M538.5 681.9h0M541.7 666.0h0M541.0 669.6h0M542.5 644.5h0M538.6 686.0h0M544.7 633.3h0M543.9 628.9h0M539.7 652.2h0M537.5 639.5h0M544.3 616.9h0M539.0 683.0h0M540.0 672.8h0M544.0 660.4h0M539.1 701.3h0M538.7 680.5h0M539.6 684.2h0M545.9 648.0h0M536.9 650.3h0M543.5 669.8h0M536.5 683.2h0M544.4 681.8h0M539.5 699.2h0M538.2 631.6h0M536.8 663.0h0M545.2 636.1h0M544.1 686.1h0M539.3 603.5h0M537.3 657.6h0M545.0 644.1h0M540.2 682.3h0M538.5 655.3h0M546.0 608.0h0M537.3 636.8h0M537.1 593.0h0M543.6 697.9h0M538.7 631.4h0M538.8 641.2h0M541.2 617.6h0M545.7 666.2h0M544.7 636.9h0M544.5 691.1h0M543.9 683.0h0M539.0 675.0h0M542.6 638.3h0M542.0 670.5h0M539.5 679.8h0M541.7 665.5h0M540.5 636.1h0M537.2 699.9h0M543.7 632.3h0M545.1 633.8h0M539.4 594.4h0M539.3 653.3h0M538.3 663.9h0M541.8 693.0h0M546.0 676.3h0M543.3 644.6h0M541.6 614.4h0M541.1 602.5h0M537.8 689.8h0M541.1 690.3h0M539.0 674.7h0M541.3 651.3h0M545.3 630.1h0M536.7 692.6h0M537.1 649.9h0M538.8 616.9h0M536.7 614.9h0M537.0 626.9h0M536.4 671.3h0M542.6 650.2h0M539.6 653.4h0M536.2 689.0h0M537.8 635.1h0M540.7 639.3h0M544.4 702.3h0M536.8 639.9h0M541.9 658.4h0M544.8 651.7h0M541.2 623.5h0M537.9 605.5h0M541.1 636.8h0M539.4 663.9h0M536.2 614.1h0M538.2 624.4h0M538.9 608.5h0M543.8 619.4h0M539.5 665.0h0M541.2 644.7h0M543.0 649.0h0M542.7 632.1h0M538.7 635.1h0M541.1 608.7h0M542.3 690.2h0M539.6 673.8h0M545.2 635.4h0M538.1 629.8h0M545.8 686.6h0M536.4 664.3h0M541.5 690.7h0M541.0 680.4h0M537.0 661.1h0M539.2 672.6h0M543.3 603.6h0M538.7 609.2h0M542.4 606.0h0M544.5 629.4h0M540.7 629.6h0M544.0 637.5h0M543.3 645.5h0M540.7 687.0h0M536.1 665.2h0M539.1 675.1h0M544.8 662.8h0M541.4 649.7h0M545.5 656.9h0M537.0 680.3h0M541.6 603.1h0M545.2 636.7h0M536.6 677.1h0M538.2 644.0h0M543.9 600.9h0M545.3 639.4h0M539.5 664.3h0M538.9 679.8h0M539.4 589.5h0M543.1 668.1h0M538.0 643.8h0M537.0 660.8h0M543.5 620.7h0M536.6 596.9h0M537.2 674.6h0M544.9 666.0h0M539.9 685.2h0M539.9 612.7h0M536.4 599.5h0M540.5 608.8h0M545.7 693.9h0M539.7 656.2h0M545.5 674.6h0M542.5 701.2h0M539.8 668.1h0M542.0 660.5h0M538.9 677.1h0M539.7 655.8h0M538.1 639.8h0M536.6 610.5h0M542.7 680.6h0M540.5 685.7h0M543.5 665.4h0M539.9 665.4h0M544.7 643.6h0M543.7 628.9h0M542.5 671.8h0M542.4 684.5h0M537.8 697.7h0M545.1 675.2h0M536.5 653.9h0M545.0 657.3h0M541.8 666.2h0M542.7 701.1h0M536.3 677.4h0M537.7 630.4h0M540.4 691.7h0M537.4 639.2h0M538.7 690.5h0M539.6 658.6h0M536.4 634.6h0M540.7 592.8h0M538.2 596.6h0M542.4 623.5h0M539.4 622.4h0M540.7 621.2h0M538.0 667.7h0M541.2 699.7h0M543.9 661.9h0M536.6 616.0h0M538.5 637.3h0M543.5 621.1h0M542.0 593.9h0M537.0 700.0h0M541.8 656.6h0M539.7 670.1h0M537.8 595.0h0M539.3 650.1h0M536.8 677.7h0M542.8 603.4h0M539.0 646.6h0M544.6 651.5h0M540.8 654.3h0M537.9 615.3h0M544.5 616.1h0M538.1 638.0h0M538.6 663.9h0M538.3 649.8h0M540.1 692.6h0" stroke="#E04B32" stroke-width="3.2" stroke-linecap="round" fill="none" stroke-opacity="0.9"/><path d="M593.4 638.7h0M591.0 668.8h0M592.5 632.5h0M591.9 693.6h0M586.5 642.1h0M591.0 692.7h0M587.7 616.5h0M592.4 633.5h0M596.6 668.0h0M594.0 644.2h0M595.3 682.9h0M596.6 696.4h0M594.7 650.7h0M594.1 629.0h0M587.9 639.1h0M595.1 619.2h0M595.7 683.6h0M591.4 666.0h0M591.1 666.6h0M595.2 657.8h0M591.8 689.5h0M594.4 632.7h0M586.8 670.4h0M589.3 617.0h0M588.8 661.2h0M589.3 646.5h0M586.5 614.6h0M589.8 658.2h0M586.3 649.6h0M589.7 620.8h0M590.4 649.3h0M595.9 661.3h0M592.8 606.8h0M590.5 626.3h0M587.5 664.5h0M589.4 676.5h0M591.6 606.8h0M591.3 679.5h0M587.0 650.8h0M593.2 652.5h0M587.7 667.7h0M587.5 700.7h0M588.1 698.2h0M591.0 688.8h0M586.3 650.8h0M588.6 670.4h0M593.2 645.3h0M586.3 672.7h0M587.6 618.7h0M589.4 641.9h0M588.1 622.8h0M592.5 694.4h0M586.3 666.3h0M593.7 674.6h0M594.8 678.1h0M587.1 657.8h0M586.4 637.4h0M588.2 628.4h0M591.1 697.8h0M586.3 697.5h0M587.8 663.4h0M588.3 673.8h0M587.2 680.9h0M590.3 629.9h0M595.3 681.9h0M590.2 679.2h0M588.4 628.6h0M593.4 658.9h0M589.9 666.5h0M590.3 672.5h0M592.2 634.1h0M596.3 662.2h0M588.8 669.3h0M588.3 678.2h0M596.7 615.3h0M587.8 660.7h0M589.9 657.0h0M594.0 661.7h0M596.7 663.5h0M593.7 699.5h0M586.3 640.7h0M592.1 656.5h0M590.3 650.3h0M587.0 701.6h0M593.0 636.7h0M594.7 661.9h0M595.7 692.3h0M590.1 665.3h0M588.0 622.3h0M590.4 657.2h0M595.2 657.1h0M590.8 619.0h0M590.9 675.8h0M590.2 669.2h0M594.1 684.1h0M594.0 622.2h0M586.7 659.0h0M588.2 699.2h0M592.3 675.6h0M594.8 687.4h0M594.5 684.2h0M589.2 692.1h0M591.3 634.2h0M593.7 686.5h0M589.6 654.8h0M595.6 654.1h0M588.9 668.4h0M589.1 687.7h0M588.1 650.0h0M595.9 656.8h0M591.0 624.9h0M588.4 654.0h0M592.6 637.0h0M594.2 655.3h0M592.9 668.4h0M592.9 647.4h0M593.7 681.6h0M586.4 673.9h0M589.4 683.7h0M593.4 677.8h0M588.0 655.3h0M589.1 679.6h0M592.9 647.9h0M595.5 694.4h0M591.6 668.9h0M588.1 689.6h0M590.3 639.6h0M588.8 680.2h0M589.9 679.8h0M595.5 683.2h0M595.4 663.6h0M595.8 676.9h0M591.8 662.5h0M594.8 661.0h0M589.7 618.8h0M595.2 696.0h0M593.7 624.5h0M589.7 699.9h0M595.9 643.7h0M589.1 626.7h0M589.6 626.0h0M587.1 670.4h0M594.1 638.3h0M587.7 694.7h0M589.4 644.7h0M590.9 664.4h0M596.3 642.3h0M594.6 700.2h0M592.3 671.9h0M591.2 631.8h0M589.5 645.1h0M587.0 635.3h0M588.7 676.9h0M592.7 625.8h0M591.1 681.6h0M590.3 627.0h0M590.7 632.5h0M589.8 626.9h0M586.2 641.0h0M586.8 619.7h0M586.5 649.0h0M586.3 671.4h0M586.3 687.0h0M594.2 699.8h0M592.4 670.6h0M589.5 651.8h0M594.2 636.6h0M594.5 653.4h0M593.6 643.0h0M589.2 689.1h0M593.2 646.4h0M587.3 665.9h0M588.4 660.2h0M589.9 697.6h0M592.8 662.7h0M596.6 627.2h0M594.7 667.5h0M595.1 699.0h0M592.5 675.3h0M594.9 663.6h0M596.1 691.4h0M591.9 653.8h0M592.2 628.1h0M589.2 620.1h0M593.0 650.2h0M594.4 687.5h0M586.1 625.3h0M589.7 688.3h0M596.5 639.7h0M591.1 658.3h0M590.1 632.7h0M592.0 679.7h0M587.4 658.6h0M587.2 624.3h0M593.3 690.2h0M596.1 678.5h0M589.3 623.1h0M587.8 679.7h0M592.4 675.6h0M591.8 630.0h0M596.0 642.6h0M587.0 648.8h0M593.7 667.4h0M593.8 623.6h0M590.2 655.9h0M589.7 670.3h0M586.3 685.2h0M594.4 674.1h0M592.3 629.9h0M592.2 671.3h0M592.7 675.9h0M596.6 648.0h0M596.7 679.6h0M592.1 688.4h0M593.8 640.6h0M588.0 667.2h0M589.2 655.8h0M591.0 661.8h0M595.7 676.9h0M591.9 666.3h0M594.4 660.6h0M593.4 670.7h0M589.8 654.3h0M589.8 691.9h0M592.7 613.0h0M586.8 649.6h0M587.9 666.6h0M592.7 656.2h0M595.0 677.4h0M592.2 656.5h0M589.2 684.8h0M588.3 690.4h0M594.2 659.9h0M594.9 617.0h0M596.0 646.2h0M587.4 694.8h0M588.2 695.0h0M591.1 653.2h0M586.2 650.8h0M594.0 668.8h0M592.0 694.2h0M590.9 621.2h0M587.4 673.9h0M587.2 671.9h0M594.3 658.6h0M595.8 644.7h0M593.7 683.4h0M586.8 682.9h0M596.4 667.9h0M587.3 689.0h0M593.1 680.1h0M595.2 673.6h0M595.0 677.3h0M592.6 618.0h0M591.2 654.9h0M594.0 657.5h0M596.6 651.6h0M586.9 644.2h0M586.8 631.4h0M591.8 654.0h0M590.6 609.0h0M586.6 671.6h0M594.5 618.0h0M588.5 687.7h0M589.7 610.0h0M595.4 690.6h0M591.6 658.6h0M593.9 689.4h0M593.6 668.7h0M592.7 642.0h0M595.4 647.5h0M591.9 674.8h0M596.2 677.2h0M592.5 647.5h0M596.1 680.2h0M595.5 675.1h0M590.4 647.4h0M589.6 648.4h0M590.8 643.1h0M594.4 647.6h0M595.4 655.6h0M588.2 647.5h0M596.7 679.9h0M595.2 679.1h0M593.0 673.5h0M590.9 628.9h0M594.4 640.6h0M592.3 642.9h0M594.2 654.4h0M592.9 655.4h0M587.5 645.1h0M593.7 659.6h0M592.3 664.8h0M590.4 671.0h0M586.2 629.0h0M592.9 626.7h0M593.3 694.8h0M590.7 660.4h0M595.2 688.2h0M591.1 608.9h0" stroke="#5BBFD6" stroke-width="3.2" stroke-linecap="round" fill="none" stroke-opacity="0.8"/><path d="M638.9 616.7h0M640.0 624.7h0M640.4 649.9h0M641.5 669.0h0M645.3 667.4h0M638.5 674.3h0M643.3 673.8h0M640.7 680.0h0M643.0 684.5h0M641.5 686.7h0M639.5 688.5h0M640.0 690.8h0M640.5 693.2h0M643.0 699.0h0M641.0 702.0h0" stroke="#2BAE8A" stroke-width="3.2" stroke-linecap="round" fill="none" stroke-opacity="0.8"/><path d="M541.2 588.0C541.4 589.3 542.0 592.9 542.4 596.0C542.8 599.1 542.7 602.8 543.6 606.8C544.5 610.8 546.3 615.8 547.6 620.3C548.9 624.8 550.2 629.2 551.2 633.7C552.2 638.2 553.3 642.2 553.9 647.1C554.5 652.0 554.5 658.3 554.7 663.2C554.9 668.1 555.6 672.1 555.2 676.6C554.8 681.1 553.5 686.4 552.2 690.0C550.9 693.6 548.9 696.1 547.6 698.1C546.4 700.1 545.2 701.5 544.7 702.2L537.7 702.2C537.2 701.5 536.1 700.1 534.8 698.1C533.6 696.1 531.5 693.6 530.2 690.0C528.9 686.4 527.6 681.1 527.2 676.6C526.8 672.1 527.5 668.1 527.7 663.2C527.9 658.3 527.9 652.0 528.5 647.1C529.1 642.2 530.2 638.2 531.2 633.7C532.2 629.2 533.5 624.8 534.8 620.3C536.1 615.8 537.9 610.8 538.8 606.8C539.7 602.8 539.6 599.1 540.0 596.0C540.4 592.9 541.0 589.3 541.2 588.0Z" fill="none" stroke="#000" stroke-width="0.8"/><path d="M591.4 599.3C591.6 600.2 592.3 602.4 592.9 605.0C593.5 607.6 593.8 610.7 594.8 614.8C595.8 618.9 597.8 625.1 599.1 629.6C600.5 634.1 601.9 637.2 602.9 642.0C603.9 646.8 604.9 652.3 605.3 658.1C605.7 663.9 605.9 671.5 605.3 676.7C604.7 681.9 603.2 685.4 601.9 689.1C600.6 692.8 598.7 696.7 597.6 699.0C596.5 701.3 595.8 702.1 595.4 702.7L587.4 702.7C587.0 702.1 586.3 701.3 585.2 699.0C584.1 696.7 582.2 692.8 580.9 689.1C579.6 685.4 578.1 681.9 577.5 676.7C576.9 671.5 577.1 663.9 577.5 658.1C577.9 652.3 578.9 646.8 579.9 642.0C580.9 637.2 582.3 634.1 583.7 629.6C585.0 625.1 587.0 618.9 588.0 614.8C589.0 610.7 589.3 607.6 589.9 605.0C590.5 602.4 591.1 600.2 591.4 599.3Z" fill="none" stroke="#000" stroke-width="0.8"/><path d="M648.5 616.2C648.4 617.4 648.3 621.3 647.7 623.4C647.1 625.5 645.8 627.2 645.0 629.0C644.2 630.8 643.1 632.3 642.8 634.3C642.5 636.3 642.9 638.6 643.1 641.0C643.3 643.4 643.4 645.7 643.9 648.4C644.4 651.1 644.3 654.4 645.9 657.1C647.5 659.8 650.7 662.2 653.2 664.7C655.7 667.2 659.1 669.8 661.0 672.3C662.9 674.8 664.4 677.2 664.3 679.9C664.2 682.6 661.9 685.8 660.5 688.5C659.1 691.2 657.2 694.0 655.9 696.1C654.6 698.2 653.4 700.4 652.9 701.3L630.1 701.3C629.6 700.4 628.4 698.2 627.1 696.1C625.8 694.0 623.9 691.2 622.5 688.5C621.1 685.8 618.8 682.6 618.7 679.9C618.6 677.2 620.1 674.8 622.0 672.3C623.9 669.8 627.3 667.2 629.8 664.7C632.3 662.2 635.5 659.8 637.1 657.1C638.7 654.4 638.6 651.1 639.1 648.4C639.6 645.7 639.7 643.4 639.9 641.0C640.1 638.6 640.5 636.3 640.2 634.3C639.9 632.3 638.8 630.8 638.0 629.0C637.2 627.2 635.9 625.5 635.3 623.4C634.7 621.3 634.6 617.4 634.5 616.2Z" fill="none" stroke="#000" stroke-width="0.8"/><line x1="540.7" y1="588.0" x2="540.7" y2="642.4" stroke="#000" stroke-width="0.8" /><line x1="540.7" y1="680.7" x2="540.7" y2="702.2" stroke="#000" stroke-width="0.8" /><rect x="533.1" y="642.4" width="15.2" height="38.3" fill="none" stroke="#000" stroke-width="0.8" /><line x1="533.1" y1="661.2" x2="548.3" y2="661.2" stroke="#000" stroke-width="1.4" /><line x1="591.4" y1="599.3" x2="591.4" y2="647.6" stroke="#000" stroke-width="0.8" /><line x1="591.4" y1="682.9" x2="591.4" y2="702.7" stroke="#000" stroke-width="0.8" /><rect x="583.6" y="647.6" width="15.5" height="35.3" fill="none" stroke="#000" stroke-width="0.8" /><line x1="583.6" y1="664.9" x2="599.1" y2="664.9" stroke="#000" stroke-width="1.4" /><line x1="642.0" y1="650.6" x2="642.0" y2="669.0" stroke="#000" stroke-width="0.8" /><line x1="642.0" y1="689.1" x2="642.0" y2="701.3" stroke="#000" stroke-width="0.8" /><rect x="634.2" y="669.0" width="15.6" height="20.1" fill="none" stroke="#000" stroke-width="0.8" /><line x1="634.2" y1="676.6" x2="649.8" y2="676.6" stroke="#000" stroke-width="1.4" /><text x="290.7" y="770.9" font-size="16.5" text-anchor="start" fill="#000" >H</text><rect x="318.2" y="755.2" width="96.0" height="14.7" fill="#fff" stroke="#000" stroke-width="1" /><text x="366.2" y="765.6" font-size="8.2" text-anchor="middle" fill="#111" >Discovery</text><line x1="317.3" y1="769.9" x2="317.3" y2="954.4" stroke="#000" stroke-width="1" /><line x1="316.8" y1="953.9" x2="414.2" y2="953.9" stroke="#000" stroke-width="1" /><line x1="315.0" y1="775.4" x2="317.3" y2="775.4" stroke="#000" stroke-width="0.8" /><text x="312.7" y="778.0" font-size="7.3" text-anchor="end" fill="#4d4d4d" >4</text><line x1="315.0" y1="809.5" x2="317.3" y2="809.5" stroke="#000" stroke-width="0.8" /><text x="312.7" y="812.1" font-size="7.3" text-anchor="end" fill="#4d4d4d" >2</text><line x1="315.0" y1="843.5" x2="317.3" y2="843.5" stroke="#000" stroke-width="0.8" /><text x="312.7" y="846.1" font-size="7.3" text-anchor="end" fill="#4d4d4d" >0</text><line x1="315.0" y1="877.5" x2="317.3" y2="877.5" stroke="#000" stroke-width="0.8" /><text x="312.7" y="880.2" font-size="7.3" text-anchor="end" fill="#4d4d4d" >-2</text><line x1="315.0" y1="911.6" x2="317.3" y2="911.6" stroke="#000" stroke-width="0.8" /><text x="312.7" y="914.2" font-size="7.3" text-anchor="end" fill="#4d4d4d" >-4</text><line x1="315.0" y1="945.6" x2="317.3" y2="945.6" stroke="#000" stroke-width="0.8" /><text x="312.7" y="948.2" font-size="7.3" text-anchor="end" fill="#4d4d4d" >-6</text><line x1="343.7" y1="953.9" x2="343.7" y2="956.0" stroke="#000" stroke-width="0.8" /><text x="343.7" y="964.1" font-size="7.3" text-anchor="middle" fill="#4d4d4d" >CMV+</text><line x1="388.1" y1="953.9" x2="388.1" y2="956.0" stroke="#000" stroke-width="0.8" /><text x="388.1" y="964.1" font-size="7.3" text-anchor="middle" fill="#4d4d4d" >CMV-</text><text transform="translate(297.8,862.1) rotate(-90)" x="0" y="3.42" font-size="9.5" text-anchor="middle" fill="#000" font-weight="bold">KIR2DS4</text><text x="366.2" y="777.1" font-size="8.77" text-anchor="middle" fill="#111" >0.005761219</text><path d="M343.7 782.8V779.1H388.1V782.8" fill="none" stroke="#999" stroke-width="0.8"/><line x1="344.1" y1="779.0" x2="344.1" y2="829.5" stroke="#C39ACA" stroke-width="0.9" /><line x1="344.1" y1="892.3" x2="344.1" y2="944.7" stroke="#C39ACA" stroke-width="0.9" /><rect x="328.5" y="829.5" width="31.2" height="62.8" fill="none" stroke="#C39ACA" stroke-width="0.9" /><line x1="328.5" y1="873.9" x2="359.7" y2="873.9" stroke="#C39ACA" stroke-width="0.9" /><path d="M344.1 920.3h0M346.4 878.4h0M340.6 900.5h0M353.6 849.0h0M349.3 933.7h0M345.6 802.8h0M352.6 908.5h0M352.0 835.2h0M351.6 814.7h0M345.3 945.0h0M351.7 835.8h0M338.8 830.8h0M351.8 922.5h0M350.7 839.1h0M338.9 899.6h0M348.4 932.8h0M350.7 825.3h0M351.9 913.4h0M353.6 869.7h0M347.9 885.8h0M341.9 888.0h0M336.3 874.7h0M343.2 887.0h0M348.2 923.4h0M353.4 804.8h0M348.3 885.0h0M344.3 860.6h0M349.8 813.1h0M353.7 847.7h0M351.1 902.8h0M336.5 853.9h0M346.8 819.8h0M339.5 853.6h0M337.6 846.3h0M353.8 836.2h0M338.2 794.7h0M339.7 805.2h0M348.5 892.4h0M346.5 922.5h0M339.5 908.7h0M345.7 908.7h0M335.6 819.3h0M349.9 821.8h0M350.5 888.3h0M350.5 826.1h0M337.6 829.8h0M351.0 912.5h0M341.4 842.5h0M346.3 849.3h0M350.6 812.7h0M350.9 859.1h0M347.1 815.2h0M335.4 889.5h0M353.7 869.4h0M338.4 861.8h0M334.9 852.2h0M342.6 811.7h0M346.8 901.6h0M342.4 819.6h0M341.5 863.5h0M342.5 869.7h0M348.7 834.4h0M344.2 823.5h0M338.8 902.9h0M335.4 864.5h0M347.7 900.0h0M343.6 876.7h0M339.0 889.0h0M352.0 850.9h0M342.6 796.9h0M337.2 893.4h0M352.3 805.4h0M342.4 813.6h0M340.9 831.5h0M342.8 811.7h0M346.9 859.2h0M345.0 813.0h0M347.5 888.6h0M335.3 809.4h0M346.4 917.7h0M336.2 811.7h0M352.5 898.3h0M349.0 856.0h0M342.4 799.0h0M352.5 894.2h0M352.7 803.3h0M345.4 935.2h0M351.8 891.0h0M348.7 833.6h0M335.5 896.2h0M338.8 906.4h0M338.9 887.0h0M348.3 895.3h0M336.9 843.5h0M348.4 885.8h0M349.2 915.8h0M345.4 844.4h0M335.5 803.0h0M344.0 810.3h0M334.8 895.5h0M337.8 846.0h0M346.1 821.8h0M347.6 855.4h0M342.9 847.2h0M333.7 808.7h0M337.3 844.1h0M352.2 873.1h0M350.0 916.0h0M351.8 807.6h0M344.3 908.8h0M336.7 808.4h0M347.7 880.5h0M347.7 877.7h0M339.0 809.4h0M353.7 826.5h0M347.8 921.7h0M353.3 812.8h0M337.0 912.2h0M342.6 865.9h0M336.2 812.9h0M346.9 811.6h0M334.6 827.2h0M349.1 892.5h0M354.1 821.1h0M338.2 901.0h0M344.4 881.9h0M352.1 901.9h0M336.8 862.1h0M334.9 789.4h0M352.7 818.8h0M348.1 817.2h0M335.5 796.4h0M343.5 919.6h0M353.3 825.7h0M347.7 810.7h0M349.4 852.0h0M335.1 799.4h0M350.2 897.3h0M338.8 898.8h0M346.1 856.0h0M344.8 894.0h0M352.3 792.2h0M345.4 834.9h0M353.8 852.1h0M334.2 843.3h0M350.6 907.9h0M341.1 826.3h0M341.6 818.3h0M345.7 816.1h0M351.1 832.2h0M333.8 855.9h0M347.3 822.9h0M336.2 833.7h0M350.6 911.2h0M345.9 824.1h0M342.1 837.1h0M349.7 869.8h0M341.5 849.6h0M344.3 854.2h0M347.8 840.3h0M345.8 875.8h0M352.6 910.9h0M348.3 812.0h0M340.8 831.7h0M334.3 804.3h0M353.5 872.8h0M346.1 829.0h0M337.2 802.0h0M345.6 878.8h0M353.8 870.3h0M344.8 823.8h0M349.5 810.7h0M349.3 795.9h0M345.2 907.2h0M351.5 894.6h0M343.2 802.1h0M333.9 863.7h0M349.7 794.2h0M342.7 829.1h0M353.1 866.7h0M349.4 875.2h0M347.7 916.4h0M350.8 934.5h0M333.9 891.6h0M340.4 806.0h0M337.4 804.9h0M339.9 919.4h0M340.0 926.3h0M347.4 846.2h0M336.0 920.3h0M347.5 931.0h0M339.1 863.5h0M352.0 849.4h0M346.6 816.0h0M353.4 911.6h0M342.4 793.9h0M352.5 883.9h0M345.5 920.2h0M346.6 839.5h0M348.9 838.5h0M347.5 879.4h0M334.2 845.1h0M345.5 844.1h0M339.7 866.1h0M334.7 795.8h0M339.1 878.6h0M343.1 924.8h0M352.3 877.9h0M353.7 784.7h0M337.9 887.1h0M344.1 865.1h0M334.5 782.4h0M350.0 880.9h0M342.0 892.9h0M346.0 901.6h0M351.5 878.7h0M354.0 821.3h0M353.9 914.7h0M337.2 823.5h0M352.6 866.8h0M334.6 882.5h0M341.2 830.2h0M345.2 876.2h0M336.0 922.7h0M351.4 909.1h0M341.0 783.3h0M341.8 893.9h0M342.6 792.4h0M353.6 805.4h0M336.1 850.7h0M337.5 884.4h0M338.1 915.2h0M337.4 851.8h0M350.2 917.5h0M349.3 854.9h0M341.6 834.4h0M352.3 919.2h0M340.7 893.7h0M340.4 920.6h0M343.9 913.5h0M351.8 897.5h0M344.4 900.9h0M342.2 814.9h0M336.0 784.4h0M343.3 823.8h0M334.6 893.3h0M335.2 900.9h0M339.4 882.0h0M349.2 836.5h0M351.6 819.1h0M346.2 909.7h0M341.7 884.2h0M346.6 875.0h0M347.1 890.2h0M336.3 789.7h0M343.7 848.5h0M336.2 872.7h0M341.2 885.8h0M336.2 931.0h0M353.5 802.8h0M350.1 813.3h0M348.3 815.8h0M344.3 899.9h0M334.9 903.9h0M343.3 879.6h0M345.5 909.0h0M346.0 858.9h0M351.7 894.8h0M352.2 874.5h0M344.5 862.5h0M345.8 895.5h0M349.3 817.9h0M350.8 933.1h0M336.9 842.9h0M342.6 835.8h0M339.5 920.2h0M350.2 858.3h0M342.6 912.9h0M344.4 845.5h0M334.2 894.6h0M347.9 780.4h0M340.6 886.4h0M351.7 898.3h0M337.5 895.7h0M336.4 871.2h0M337.3 886.8h0M350.4 912.5h0M349.8 903.1h0M349.9 865.4h0M336.6 882.1h0M334.2 881.1h0M346.0 790.5h0M337.4 905.8h0M346.3 898.0h0M352.5 877.7h0M347.1 937.8h0M348.0 811.7h0M335.6 874.2h0M352.8 868.6h0M342.5 890.6h0M354.0 912.1h0M338.1 826.8h0M351.9 844.6h0M341.3 820.8h0M339.3 860.7h0M345.9 897.1h0M336.4 897.2h0M346.8 888.4h0M338.5 908.8h0M350.0 833.5h0M350.7 879.6h0M346.5 901.4h0M349.7 811.7h0M347.1 882.6h0M346.3 834.3h0M340.9 900.3h0M352.4 890.1h0M336.5 923.0h0M338.8 921.3h0M337.8 864.0h0M334.5 925.8h0M341.0 803.1h0M344.1 893.2h0M335.7 824.4h0M351.2 912.2h0M353.3 853.8h0M336.6 805.3h0M338.8 899.8h0M340.0 859.4h0M353.5 797.4h0M335.7 898.7h0M342.5 838.5h0M342.5 852.6h0M354.1 892.9h0M343.6 832.5h0M343.7 793.0h0M341.7 930.1h0M354.0 872.3h0M344.2 826.4h0M339.0 828.6h0M343.5 923.9h0M334.0 818.9h0M347.5 852.7h0M353.3 866.7h0M345.0 792.8h0M344.8 854.8h0M343.9 893.4h0M340.9 877.1h0M345.8 861.0h0M347.7 779.7h0M336.2 915.3h0M349.7 908.6h0M350.2 910.8h0M334.4 828.9h0M337.8 852.3h0M344.4 861.4h0M334.7 908.6h0M353.7 795.8h0M344.8 829.3h0M354.0 856.5h0M335.9 844.6h0M348.0 802.0h0M347.0 899.8h0M343.8 869.5h0M347.9 878.4h0M347.2 923.9h0M352.2 838.1h0M347.9 868.6h0M349.0 902.4h0M342.2 857.9h0M343.2 842.0h0M337.3 918.3h0M353.8 892.1h0M352.6 847.6h0M346.2 898.7h0M343.1 871.1h0M342.9 871.9h0M339.8 880.2h0M343.8 870.2h0M342.5 926.5h0M345.6 786.6h0M336.9 828.2h0M352.7 877.4h0M335.8 855.3h0M349.2 911.8h0M344.5 900.2h0M344.7 861.2h0M341.1 852.9h0M344.5 849.0h0M339.4 801.4h0M346.5 893.0h0M345.5 881.5h0M353.9 909.5h0M339.1 839.0h0M349.9 878.6h0M345.6 938.4h0M335.7 891.1h0M343.1 906.9h0M342.2 807.3h0M333.9 837.9h0M345.2 792.8h0M349.6 912.7h0M341.2 831.3h0M343.5 902.8h0M336.3 832.3h0M336.8 912.7h0M354.1 924.3h0M349.5 815.2h0M338.7 894.3h0M346.5 812.0h0M352.7 850.5h0M336.0 835.4h0M345.2 860.1h0M338.2 921.2h0M335.0 867.6h0M348.0 849.4h0M345.8 868.3h0M344.1 876.5h0M349.4 833.1h0M351.3 813.9h0M334.2 885.9h0M351.2 861.2h0M337.5 854.6h0M337.9 901.3h0M351.2 869.6h0M345.7 815.9h0M342.3 908.3h0M336.9 882.7h0M349.1 920.8h0M353.7 837.9h0M336.5 902.5h0M341.6 833.9h0M334.1 886.7h0M347.3 890.5h0M337.2 909.9h0M340.2 873.4h0M334.1 896.9h0M344.8 828.4h0M335.6 922.8h0M353.6 883.8h0M345.5 895.7h0M350.2 884.9h0M334.3 897.1h0M344.8 808.7h0M344.8 820.2h0M343.5 869.9h0M338.4 828.6h0M347.4 834.1h0M340.0 826.3h0M334.4 814.5h0M342.6 841.9h0M337.7 915.6h0M342.9 864.4h0M345.2 813.9h0M338.3 862.9h0M337.7 844.0h0M339.9 803.6h0M348.6 893.7h0M349.3 910.5h0M341.5 814.5h0M353.4 913.1h0M334.2 875.6h0M344.3 850.4h0M341.4 825.3h0M344.0 833.1h0M351.6 891.0h0M345.1 842.2h0M346.6 890.3h0M334.4 846.5h0M334.4 829.3h0M337.1 913.7h0M350.5 877.4h0M344.3 837.1h0M350.5 907.0h0M338.2 782.2h0M353.4 916.1h0M339.8 862.4h0M352.6 863.1h0M335.4 821.2h0M333.9 795.5h0M350.9 779.6h0M336.4 843.8h0M337.4 831.9h0M334.1 852.1h0M337.3 856.8h0M349.2 914.8h0M353.0 876.5h0M334.3 889.4h0M341.5 822.7h0M340.3 800.2h0M336.0 893.2h0M353.9 844.4h0M351.4 811.4h0M346.5 871.0h0M340.8 869.9h0M348.0 841.9h0M339.3 811.9h0M340.7 814.5h0M346.4 798.9h0M342.2 872.5h0M352.7 891.0h0M348.6 861.1h0M334.7 879.9h0M348.0 900.5h0M337.2 922.1h0M347.6 805.8h0M353.1 836.2h0M343.8 808.7h0M335.3 943.3h0M342.4 871.4h0M338.6 857.2h0M335.2 820.2h0M338.9 896.9h0M338.3 823.1h0M353.7 817.9h0M346.0 815.6h0M351.1 861.6h0M338.0 856.5h0M354.0 810.3h0M353.0 788.2h0M346.6 823.1h0M341.4 902.0h0M350.2 858.8h0M344.4 797.8h0M335.8 831.5h0M352.5 840.1h0M334.1 852.0h0M351.6 840.6h0M337.5 787.0h0M339.9 867.1h0M344.0 807.7h0M343.3 816.7h0M342.4 862.3h0M339.2 907.5h0M341.7 900.0h0M336.1 899.5h0M334.7 818.7h0M339.4 934.1h0M346.1 860.3h0M334.8 861.8h0M342.6 883.2h0M335.4 877.0h0M350.0 874.1h0M342.0 891.0h0M345.2 855.8h0M346.3 821.6h0M337.3 877.9h0M334.9 821.1h0M337.3 813.8h0M344.0 943.8h0M344.5 912.5h0M345.4 895.3h0M350.4 801.7h0M338.2 840.8h0M339.1 886.8h0M342.0 885.4h0M341.3 845.9h0M346.8 890.8h0M346.0 814.5h0M337.7 881.2h0M345.8 887.1h0M337.0 853.2h0M351.6 854.9h0M345.7 890.0h0M351.6 800.8h0M342.2 799.2h0M333.8 907.2h0M350.5 893.3h0M349.9 786.5h0M352.8 915.4h0M346.3 818.9h0M348.4 880.7h0M339.1 808.7h0M340.9 810.7h0M352.6 935.5h0M338.1 863.9h0M342.7 898.9h0M348.8 926.7h0M350.9 851.1h0M350.6 923.9h0M338.3 923.1h0M334.2 852.0h0M346.2 799.1h0M353.9 803.6h0M352.0 895.5h0M334.9 891.5h0M353.8 885.3h0M352.5 934.8h0M347.9 910.0h0M338.0 905.7h0M335.6 884.5h0M349.8 819.4h0M334.7 928.7h0M352.9 915.2h0M346.3 826.4h0M347.8 920.3h0M344.3 823.3h0M348.0 916.2h0M350.8 840.1h0M352.7 870.0h0M338.2 902.3h0M345.3 873.6h0M337.6 899.9h0M340.6 925.7h0M343.9 896.5h0M343.6 870.7h0M339.3 862.1h0M352.7 846.8h0M344.0 844.4h0M336.9 904.8h0M339.8 851.5h0M338.5 818.7h0M350.1 884.2h0M343.1 818.8h0M353.0 900.1h0M337.0 879.7h0M343.7 891.2h0M350.7 804.6h0M352.5 870.2h0M334.2 828.3h0M353.0 842.9h0M337.4 847.5h0M349.3 810.9h0M345.7 929.8h0M346.1 856.5h0M341.1 866.7h0M351.9 877.0h0M348.1 788.2h0M337.1 852.5h0M337.8 811.3h0M347.5 857.3h0M348.8 852.6h0M334.2 921.6h0M348.3 786.3h0M340.3 906.3h0M353.1 913.8h0M347.0 842.8h0M348.1 810.6h0M344.5 883.0h0M341.7 867.8h0M350.5 922.3h0M334.7 788.4h0M349.8 819.9h0M335.7 817.5h0M341.1 839.5h0M337.4 913.7h0M349.0 868.5h0M343.1 872.3h0M353.1 818.4h0M335.7 927.8h0M338.7 831.2h0M348.1 922.0h0M345.7 882.2h0M337.7 838.4h0M341.8 846.4h0M340.9 824.6h0M347.8 921.6h0M344.6 853.0h0M349.1 923.1h0M350.6 852.3h0M336.3 870.3h0M350.3 913.4h0M350.8 833.9h0M335.0 895.8h0M349.9 793.0h0M334.6 846.8h0M350.6 924.9h0M342.1 871.2h0M354.0 838.5h0M349.1 826.8h0M347.6 874.7h0M342.6 834.5h0M334.3 907.2h0M340.9 829.3h0M339.5 822.6h0M341.7 835.3h0M344.1 888.3h0M343.9 916.9h0M342.2 798.0h0M343.4 896.0h0M345.7 827.6h0M346.0 884.0h0M349.7 858.6h0M348.9 877.7h0M335.7 932.0h0M346.2 873.7h0M346.1 884.4h0M339.8 800.9h0M337.5 899.4h0M350.1 825.2h0M342.4 834.5h0M337.6 888.9h0M351.7 864.9h0M349.6 866.3h0M338.7 839.0h0M344.5 842.1h0M336.4 835.0h0M351.8 855.4h0M352.8 921.0h0M335.5 814.7h0M350.8 874.2h0M350.9 821.7h0M348.3 880.5h0M339.4 855.2h0M338.0 900.5h0M342.0 852.8h0M340.5 840.7h0M348.9 875.3h0M352.6 929.9h0M347.9 798.3h0M337.8 845.4h0M347.6 858.5h0M337.1 855.3h0M344.7 790.4h0M341.7 872.0h0M342.3 815.6h0M336.5 871.7h0M339.8 919.3h0M344.6 929.7h0M335.2 879.9h0M341.5 839.3h0M349.9 876.4h0M344.3 841.9h0M353.0 829.9h0M337.3 898.2h0M350.4 822.8h0M352.9 919.1h0M339.8 878.7h0M353.7 872.5h0M338.7 822.3h0M335.9 848.3h0M340.2 907.5h0M352.9 882.1h0M352.7 858.1h0M339.9 906.7h0M350.8 857.0h0M351.8 825.9h0M338.5 896.3h0M346.1 809.1h0M346.6 919.6h0M349.7 896.3h0M348.7 823.2h0M334.5 926.5h0M337.8 878.1h0M337.8 913.3h0M352.5 856.1h0M341.0 939.0h0M345.4 893.8h0M341.2 865.4h0M338.0 884.2h0M334.7 918.8h0M353.7 887.5h0M352.3 876.2h0M344.4 852.0h0M334.2 914.9h0M343.2 889.9h0M345.3 902.8h0M340.4 906.1h0M353.2 800.0h0M347.4 847.9h0M344.8 883.5h0M349.1 875.5h0M352.2 853.8h0M334.4 867.8h0M337.2 915.5h0M342.7 788.0h0M339.8 858.4h0M339.8 811.1h0M350.3 807.3h0M341.7 860.3h0M353.2 872.1h0M341.5 893.5h0M345.2 825.6h0M353.5 896.7h0M345.9 908.9h0M342.3 835.6h0M353.7 940.3h0M335.3 798.9h0M340.4 840.7h0M343.4 797.5h0M339.1 804.7h0M346.3 912.8h0M346.1 856.2h0M347.6 880.9h0M350.0 896.2h0M340.0 815.3h0M351.0 871.3h0M351.5 883.2h0M350.6 796.1h0M347.8 918.8h0M346.2 833.8h0M341.1 923.9h0M352.4 836.8h0M335.2 858.9h0M335.0 907.9h0M344.1 867.0h0M338.6 813.3h0M338.5 829.9h0M336.7 826.0h0M335.2 825.7h0M353.1 921.1h0M336.6 914.8h0M350.1 819.1h0M339.9 874.2h0M334.9 921.2h0M350.3 841.5h0M352.1 910.2h0M348.0 870.6h0M346.1 842.4h0M347.4 916.1h0M351.1 914.0h0M348.7 834.3h0M339.7 885.3h0M347.2 842.1h0M339.7 874.3h0M348.5 800.4h0M346.6 851.7h0M347.8 864.7h0M353.5 857.6h0M353.1 864.4h0M345.4 822.4h0M336.5 902.8h0M345.3 809.4h0M337.3 837.1h0M335.2 821.7h0M352.5 831.6h0M335.8 936.9h0M347.6 853.7h0M349.8 916.0h0M346.1 910.7h0M353.7 793.9h0M345.2 796.2h0M337.3 892.9h0M352.6 818.2h0M349.7 793.0h0M348.1 902.4h0M335.4 851.7h0M342.8 842.1h0M345.2 941.4h0M344.9 781.4h0M341.9 894.3h0M348.1 918.3h0M338.0 819.3h0M339.8 821.7h0M353.7 921.2h0M334.8 802.8h0M352.0 905.4h0M352.0 873.5h0M343.8 832.9h0M336.5 806.5h0M335.6 923.5h0M336.9 873.2h0M339.5 846.7h0M348.8 904.3h0M347.4 787.8h0M344.3 838.9h0M343.6 914.8h0M349.0 786.0h0M343.8 919.2h0M339.8 923.4h0M349.7 882.2h0M338.5 845.1h0M338.1 887.3h0M348.8 905.8h0M336.3 899.6h0M348.7 935.7h0M338.7 920.0h0M335.5 905.5h0M343.4 902.0h0M335.0 916.0h0M348.4 824.5h0M348.5 786.4h0M334.9 819.1h0M339.2 819.8h0M333.8 905.8h0M350.7 911.5h0M351.8 822.3h0M350.2 888.2h0M338.8 937.3h0M337.3 823.7h0M348.7 920.7h0M337.5 821.2h0M342.8 879.6h0M353.1 927.0h0M337.9 932.9h0M344.3 809.1h0M337.7 819.1h0M345.6 882.5h0M350.0 894.2h0M345.0 806.1h0M351.2 814.3h0M348.6 829.8h0M340.8 809.9h0M338.1 842.8h0M350.6 900.1h0M347.3 842.1h0M341.5 850.2h0M339.8 879.7h0M347.4 787.0h0M337.9 809.7h0M352.3 921.3h0M349.2 902.0h0M350.5 907.0h0M347.7 910.3h0M351.3 909.6h0M340.9 836.1h0M338.0 871.4h0M342.3 871.2h0M341.3 816.2h0M334.5 811.1h0M340.0 879.4h0M341.4 811.6h0M343.4 908.7h0M352.2 907.8h0M353.3 874.2h0M337.5 876.8h0M344.0 857.9h0M343.1 888.8h0M341.7 846.1h0M338.8 887.2h0M350.6 922.5h0M350.9 903.7h0M352.2 839.0h0M350.9 849.7h0M341.2 799.0h0M342.8 888.4h0M338.6 911.3h0M351.3 860.8h0M334.8 869.3h0M339.5 834.4h0M339.1 794.7h0M351.1 874.1h0M352.2 863.6h0M344.9 846.5h0M347.4 927.2h0M340.3 919.2h0M347.8 796.6h0M353.7 839.3h0M339.9 931.2h0M336.1 915.5h0M349.5 842.3h0M344.3 886.5h0M337.3 799.4h0M342.8 871.2h0M347.8 924.9h0M341.4 925.9h0M334.2 845.9h0M341.9 888.8h0M351.6 921.8h0M349.4 829.3h0M335.5 834.6h0M342.0 779.0h0M350.6 868.3h0M352.9 877.7h0M347.1 839.9h0M335.8 815.6h0M348.4 860.0h0M334.0 822.7h0M341.3 889.8h0M351.8 897.1h0M353.1 810.6h0M345.3 916.5h0M333.9 887.0h0M349.9 899.4h0M349.7 820.0h0M339.4 811.3h0M341.8 790.6h0M342.4 787.5h0M344.5 847.2h0M353.7 835.3h0M345.5 860.8h0M342.8 853.3h0M343.7 863.0h0M339.6 935.0h0M343.0 933.4h0M350.6 877.8h0M353.3 882.5h0M347.7 813.8h0M345.1 850.2h0M349.6 797.3h0M350.0 906.3h0M346.9 834.9h0M339.8 896.3h0M348.5 863.9h0M335.3 812.8h0M336.5 846.6h0M338.4 907.6h0M339.4 863.5h0M350.1 863.4h0M343.7 823.7h0M335.4 812.5h0M350.9 837.9h0M335.4 878.6h0M339.6 888.9h0M349.5 819.8h0M341.7 878.3h0M353.8 910.5h0M345.4 923.5h0M333.7 859.5h0M350.4 777.3h0M335.8 868.6h0M341.0 858.4h0M347.3 856.7h0M334.2 815.8h0M337.5 927.1h0M353.7 931.5h0M348.1 858.0h0M353.0 862.8h0M352.5 843.4h0M337.8 882.3h0M346.3 866.9h0M344.2 809.1h0M333.7 889.5h0M353.0 879.8h0M353.5 869.4h0M349.1 907.2h0M348.9 882.2h0M334.8 881.8h0M345.2 795.0h0M347.4 913.4h0M336.2 829.4h0M346.1 919.1h0M341.9 893.1h0M346.2 884.4h0M341.4 871.7h0M350.4 867.8h0M347.6 851.6h0M340.3 839.0h0M338.1 839.5h0M351.4 933.7h0M344.3 873.0h0M341.9 895.8h0M336.5 891.0h0M352.4 920.0h0M347.9 809.9h0M338.8 848.0h0M340.1 884.8h0M347.2 850.3h0M336.4 890.7h0M343.4 879.6h0M337.2 810.6h0M346.6 839.0h0M342.5 848.7h0M340.7 822.5h0M350.6 844.3h0M340.8 894.6h0M344.2 900.4h0M352.2 844.3h0M347.0 838.1h0M352.7 819.8h0M342.3 938.0h0M348.3 868.9h0M354.1 892.7h0M337.7 794.8h0M345.6 836.3h0M339.2 858.6h0M343.0 861.9h0M348.0 861.1h0M346.7 864.9h0M349.3 862.9h0M335.3 922.3h0M339.9 795.8h0M341.1 891.2h0M334.8 882.1h0M333.8 825.5h0M352.1 905.5h0M333.8 817.6h0M337.2 930.4h0M349.5 830.8h0M339.0 927.4h0M345.9 891.5h0M347.8 790.5h0M352.6 805.2h0M336.0 884.8h0M348.8 889.0h0M339.7 873.5h0M347.7 828.7h0M347.4 921.1h0M345.8 886.3h0M353.6 803.0h0M337.5 933.0h0M337.1 880.3h0M341.4 893.5h0M338.5 887.0h0M342.0 843.2h0M347.9 898.1h0M349.6 800.9h0M348.8 848.8h0M351.3 866.1h0M339.1 908.1h0M336.3 843.9h0M341.6 881.5h0M351.2 925.1h0M336.5 829.5h0M339.6 913.0h0M352.1 825.1h0M348.6 818.1h0M350.4 799.0h0M344.9 904.7h0M350.1 849.9h0M338.9 892.0h0M351.6 911.0h0M336.4 897.0h0M344.8 934.2h0M353.2 816.0h0M338.4 894.1h0M338.4 787.4h0M338.3 829.5h0M337.5 804.4h0M350.9 866.4h0M342.7 797.6h0M336.0 891.7h0M345.9 833.5h0M346.7 898.2h0M347.0 918.3h0M335.1 891.3h0M353.3 849.9h0M338.1 817.6h0M335.3 894.7h0M352.0 779.6h0M353.2 863.7h0M341.3 788.9h0M349.6 913.1h0M334.1 835.9h0M339.0 824.2h0M346.6 813.0h0M353.6 889.0h0M353.6 819.1h0M336.8 845.4h0M346.1 784.9h0M350.1 918.5h0M337.4 847.9h0M349.1 876.5h0M351.5 823.6h0M343.0 787.7h0M338.7 896.0h0M344.0 858.5h0M342.6 820.1h0M350.0 899.8h0M350.7 860.6h0M339.3 806.7h0M349.2 883.2h0M341.6 908.8h0M333.8 893.2h0M343.3 924.6h0M344.3 842.4h0M352.7 923.9h0M340.3 923.0h0M336.4 845.2h0M347.5 875.9h0M341.7 800.0h0M345.3 838.9h0M338.3 925.0h0M337.4 819.5h0M341.8 869.5h0M351.1 921.2h0M351.9 861.7h0M346.8 836.8h0M344.9 868.0h0M334.9 813.7h0M337.7 862.5h0M343.2 903.5h0M334.8 841.8h0M343.8 814.7h0M352.8 822.4h0M344.7 812.5h0M351.2 861.3h0M337.3 862.3h0M353.5 912.1h0M337.0 811.2h0M335.9 803.9h0M353.9 907.9h0M335.1 835.2h0M353.4 807.4h0M351.9 935.6h0M352.8 782.5h0M343.2 927.8h0M347.4 805.2h0M337.1 862.0h0M343.9 804.1h0M335.3 882.3h0M344.2 816.5h0M345.1 855.6h0M343.7 863.1h0M346.6 880.7h0M349.2 919.8h0M347.5 911.5h0M348.9 886.2h0M335.4 896.0h0M345.7 864.5h0M334.1 811.6h0M353.3 923.1h0M334.3 874.8h0M342.2 925.2h0M336.7 873.5h0M340.6 927.8h0M346.1 785.3h0M348.5 922.5h0M338.9 908.2h0M352.8 834.1h0" stroke="#A466AC" stroke-width="2.7" stroke-linecap="round" fill="none" stroke-opacity="0.9"/><line x1="388.5" y1="794.5" x2="388.5" y2="849.2" stroke="#D6CC3E" stroke-width="0.9" /><line x1="388.5" y1="898.7" x2="388.5" y2="927.8" stroke="#D6CC3E" stroke-width="0.9" /><rect x="372.8" y="849.2" width="31.3" height="49.5" fill="none" stroke="#D6CC3E" stroke-width="0.9" /><line x1="372.8" y1="884.1" x2="404.1" y2="884.1" stroke="#D6CC3E" stroke-width="0.9" /><path d="M395.5 901.0h0M397.8 890.5h0M380.9 899.3h0M396.8 856.7h0M387.2 883.2h0M385.4 881.5h0M387.6 901.6h0M392.0 801.0h0M384.8 897.0h0M387.8 821.0h0M394.9 890.9h0M384.1 905.3h0M382.3 888.5h0M393.9 886.1h0M391.7 814.2h0M389.4 899.8h0M378.9 871.6h0M386.5 854.8h0M379.5 911.9h0M391.5 833.5h0M391.6 871.3h0M380.1 817.9h0M381.5 894.0h0M392.2 863.6h0M384.3 856.1h0M380.1 881.3h0M387.3 901.7h0M396.4 832.3h0M384.4 857.4h0M395.4 874.4h0M386.9 898.9h0M391.3 880.9h0M379.1 806.6h0M381.2 862.7h0M390.1 874.6h0M380.0 861.1h0M397.1 861.7h0M383.6 873.3h0M394.8 855.1h0M389.4 917.8h0M380.5 894.6h0M379.0 920.5h0M394.9 871.0h0M397.4 905.7h0M387.0 817.6h0M396.2 897.6h0M393.7 866.1h0M380.2 885.6h0M397.0 897.3h0M394.9 828.0h0M390.3 816.0h0M384.5 914.8h0M388.3 901.5h0M382.9 814.7h0M382.3 890.1h0M380.8 896.2h0M384.3 922.1h0M397.4 861.9h0M381.1 881.9h0M394.4 876.7h0M394.9 797.4h0M388.9 904.2h0M390.4 878.0h0M386.8 851.5h0M387.4 884.3h0M393.2 829.0h0M379.6 906.9h0M394.8 876.4h0M396.7 837.5h0M381.4 817.7h0M379.4 810.8h0M390.1 818.9h0M384.7 888.3h0M395.3 864.1h0M383.0 801.0h0M385.8 852.0h0M395.0 866.8h0M391.1 904.9h0M389.0 901.7h0M387.6 865.4h0M387.9 831.5h0M385.7 852.1h0M385.9 845.2h0M397.3 888.9h0M393.0 881.7h0" stroke="#D6CC3E" stroke-width="2.6" stroke-linecap="round" fill="none" stroke-opacity="0.9"/><text x="474.2" y="770.5" font-size="16.5" text-anchor="start" fill="#000" >I</text><rect x="494.5" y="754.7" width="94.1" height="14.1" fill="#fff" stroke="#000" stroke-width="1" /><text x="541.5" y="764.9" font-size="8.2" text-anchor="middle" fill="#111" >Discovery</text><line x1="493.5" y1="768.8" x2="493.5" y2="953.9" stroke="#000" stroke-width="1" /><line x1="493.0" y1="953.4" x2="588.6" y2="953.4" stroke="#000" stroke-width="1" /><line x1="491.2" y1="802.4" x2="493.5" y2="802.4" stroke="#000" stroke-width="0.8" /><text x="489.5" y="805.2" font-size="7.8" text-anchor="end" fill="#4d4d4d" >4.0</text><line x1="491.2" y1="842.1" x2="493.5" y2="842.1" stroke="#000" stroke-width="0.8" /><text x="489.5" y="844.9" font-size="7.8" text-anchor="end" fill="#4d4d4d" >3.5</text><line x1="491.2" y1="881.8" x2="493.5" y2="881.8" stroke="#000" stroke-width="0.8" /><text x="489.5" y="884.6" font-size="7.8" text-anchor="end" fill="#4d4d4d" >3.0</text><line x1="491.2" y1="921.5" x2="493.5" y2="921.5" stroke="#000" stroke-width="0.8" /><text x="489.5" y="924.3" font-size="7.8" text-anchor="end" fill="#4d4d4d" >2.5</text><line x1="519.6" y1="953.4" x2="519.6" y2="955.5" stroke="#000" stroke-width="0.8" /><text x="519.6" y="963.5" font-size="7.3" text-anchor="middle" fill="#4d4d4d" >CMV+</text><line x1="563.5" y1="953.4" x2="563.5" y2="955.5" stroke="#000" stroke-width="0.8" /><text x="563.5" y="963.5" font-size="7.3" text-anchor="middle" fill="#4d4d4d" >CMV-</text><text transform="translate(471.5,861.5) rotate(-90)" x="0" y="3.53" font-size="9.8" text-anchor="middle" fill="#000" font-weight="bold">log10( 7d_il22_mtb)</text><text x="541.5" y="776.1" font-size="8.84" text-anchor="middle" fill="#111" >0.0006485642</text><path d="M519.6 781.9V778.2H563.5V781.9" fill="none" stroke="#999" stroke-width="0.8"/><line x1="519.9" y1="781.4" x2="519.9" y2="860.5" stroke="#C39ACA" stroke-width="0.9" /><line x1="519.9" y1="915.4" x2="519.9" y2="944.6" stroke="#C39ACA" stroke-width="0.9" /><rect x="504.5" y="860.5" width="30.8" height="54.9" fill="none" stroke="#C39ACA" stroke-width="0.9" /><line x1="504.5" y1="888.1" x2="535.3" y2="888.1" stroke="#C39ACA" stroke-width="0.9" /><path d="M514.8 936.7h0M519.4 902.7h0M512.8 931.3h0M529.2 905.3h0M524.2 936.8h0M510.9 882.0h0M519.3 798.9h0M516.5 841.5h0M526.5 874.1h0M512.0 844.5h0M529.4 871.3h0M511.6 869.4h0M515.9 940.9h0M512.5 922.7h0M525.6 853.8h0M518.0 863.5h0M522.3 901.1h0M529.4 853.0h0M514.5 929.9h0M518.2 872.1h0M521.0 868.7h0M517.3 943.6h0M520.3 921.1h0M524.8 910.5h0M526.1 916.4h0M517.0 837.1h0M520.9 830.0h0M510.1 822.7h0M525.9 916.0h0M513.0 930.0h0M514.8 799.6h0M526.2 816.3h0M527.0 929.1h0M512.5 868.6h0M517.2 842.8h0M517.3 840.6h0M521.3 935.2h0M514.7 917.4h0M526.3 847.2h0M511.7 828.2h0M525.9 932.0h0M514.7 825.6h0M512.7 876.1h0M511.0 849.9h0M524.6 925.9h0M516.6 869.6h0M511.6 934.6h0M517.5 929.6h0M510.6 879.7h0M514.7 855.3h0M527.3 858.0h0M526.7 852.1h0M529.0 907.6h0M526.0 941.6h0M521.0 885.9h0M518.7 846.8h0M511.5 933.0h0M519.7 852.8h0M528.8 859.0h0M512.5 893.0h0M521.1 835.1h0M511.2 861.8h0M516.4 909.8h0M512.4 832.6h0M514.8 888.4h0M526.7 837.1h0M520.6 910.3h0M514.2 868.5h0M521.9 851.2h0M528.6 842.7h0M523.9 888.4h0M523.4 884.5h0M513.3 935.5h0M512.3 903.9h0M514.8 851.4h0M515.9 911.4h0M523.9 901.8h0M520.9 808.3h0M509.9 894.7h0M520.2 893.0h0M523.9 852.8h0M518.5 909.0h0M510.1 919.4h0M527.5 841.0h0M529.0 859.7h0M511.4 878.9h0M517.6 919.2h0M510.1 923.8h0M524.4 926.1h0M517.5 910.6h0M514.1 918.7h0M521.6 835.0h0M525.1 901.4h0M528.5 911.0h0M527.2 878.4h0M523.9 905.6h0M511.7 888.6h0M517.2 878.7h0M511.9 901.5h0M526.2 881.5h0M515.5 797.5h0M525.5 911.8h0M518.4 889.3h0M519.2 884.8h0M525.3 928.9h0M528.3 815.4h0M511.3 925.0h0M517.5 867.0h0M510.0 889.3h0M512.8 935.4h0M510.3 895.7h0M516.5 932.6h0M529.2 850.1h0M517.1 932.6h0M514.2 803.7h0M528.0 906.4h0M522.1 874.6h0M513.6 907.9h0M525.2 854.3h0M528.9 880.9h0M513.7 871.9h0M511.2 924.0h0M525.6 908.3h0M524.4 877.8h0M522.8 839.4h0M526.7 943.6h0M515.1 882.4h0M514.8 897.0h0M513.3 929.4h0M514.3 840.4h0M521.0 842.9h0M517.5 890.6h0M525.9 937.6h0M520.5 908.8h0M527.0 930.4h0M522.1 849.3h0M519.2 921.3h0M522.6 854.7h0M519.2 931.6h0M521.8 849.9h0M514.8 816.4h0M511.1 929.3h0M516.6 830.9h0M527.9 905.5h0M518.7 837.0h0M526.3 851.0h0M515.0 891.5h0M514.9 847.6h0M515.9 937.2h0M521.7 902.7h0M523.8 841.4h0M517.5 942.8h0M517.4 881.6h0M520.0 942.8h0M521.6 938.6h0M528.6 943.0h0M528.6 871.5h0M513.6 892.9h0M515.2 828.9h0M512.3 943.3h0M519.7 862.0h0M516.4 895.2h0M526.9 817.4h0M511.8 879.5h0M529.0 938.6h0M521.1 895.1h0M510.8 814.7h0M510.7 828.6h0M517.8 888.0h0M512.2 924.6h0M513.6 806.9h0M528.0 866.8h0M513.5 876.8h0M526.5 813.9h0M517.0 875.8h0M524.1 915.5h0M522.7 934.8h0M519.6 809.0h0M513.0 845.3h0M520.0 850.8h0M511.9 923.0h0M512.1 915.0h0M518.5 799.3h0M523.2 853.5h0M524.8 944.9h0M514.0 939.3h0M516.6 896.9h0M525.2 920.9h0M525.1 900.7h0M511.4 870.0h0M527.4 930.6h0M510.6 863.2h0M520.4 872.7h0M528.6 844.9h0M522.3 825.4h0M523.9 924.6h0M519.8 915.2h0M516.6 898.9h0M514.9 789.2h0M528.2 854.1h0M515.3 847.2h0M513.0 881.3h0M513.3 840.0h0M525.7 854.5h0M526.2 812.8h0M512.1 878.7h0M512.6 840.4h0M514.0 889.6h0M523.0 901.1h0M529.4 860.2h0M528.9 847.4h0M521.9 884.0h0M523.0 882.8h0M524.8 821.4h0M516.6 854.1h0M521.2 938.9h0M513.0 834.4h0M519.2 879.7h0M517.4 844.9h0M513.4 906.1h0M514.5 906.0h0M521.3 916.8h0M526.7 932.8h0M522.6 873.9h0M513.3 836.2h0M512.5 910.0h0M513.0 851.4h0M526.7 900.7h0M513.4 893.0h0M510.0 913.4h0M514.1 885.3h0M515.2 924.5h0M516.4 930.4h0M520.3 909.4h0M512.3 937.8h0M513.6 935.9h0M510.5 938.1h0M525.4 843.1h0M516.3 903.0h0M528.7 841.3h0M512.9 870.8h0M513.4 839.1h0M512.3 871.5h0M510.1 871.3h0M510.1 907.5h0M526.0 876.6h0M523.7 873.8h0M515.5 861.1h0M514.9 840.5h0M512.1 849.7h0M515.5 860.7h0M513.3 940.4h0M512.9 907.1h0M518.2 929.4h0M516.8 883.0h0M516.1 843.0h0M512.3 884.0h0M524.3 854.4h0M519.8 849.7h0M517.4 936.2h0M522.7 806.9h0M513.8 853.5h0M516.1 844.5h0M523.4 875.5h0M521.5 938.7h0M525.4 791.3h0M526.9 939.7h0M525.5 891.6h0M524.3 798.8h0M519.9 819.4h0M516.5 814.1h0M528.2 809.9h0M515.8 891.8h0M517.1 914.8h0M526.2 856.2h0M514.7 940.7h0M514.6 908.6h0M527.6 868.2h0M521.1 901.0h0M512.2 910.3h0M525.1 913.7h0M522.1 855.0h0M529.3 795.1h0M513.5 887.6h0M511.7 910.7h0M520.2 849.3h0M518.9 909.2h0M528.9 846.5h0M522.1 887.7h0M528.9 900.8h0M517.2 848.4h0M513.5 792.9h0M511.9 819.2h0M522.5 922.8h0M524.0 888.5h0M527.2 846.9h0M516.9 786.8h0M523.3 921.2h0M529.2 874.6h0M516.5 842.1h0M528.3 932.0h0M511.1 828.7h0M528.6 918.0h0M515.3 923.0h0M517.2 815.9h0M527.2 903.8h0M510.8 823.6h0M525.1 942.3h0M518.1 902.7h0M518.9 933.4h0M519.6 935.5h0M516.0 935.0h0M521.7 927.5h0M513.5 890.8h0M510.5 923.2h0M521.8 930.1h0M521.7 873.4h0M521.0 884.4h0M516.5 837.6h0M527.2 887.1h0M520.8 889.6h0M526.9 912.0h0M511.4 940.4h0M516.8 882.3h0M525.3 880.7h0M512.4 885.6h0M521.1 906.1h0M524.7 895.4h0M516.8 935.5h0M513.3 894.0h0M514.2 868.5h0M525.7 827.6h0M511.7 851.8h0M522.3 931.2h0M518.9 874.8h0M517.5 865.4h0M519.7 837.5h0M515.5 941.7h0M513.6 838.9h0M517.0 939.4h0M514.6 828.1h0M520.1 910.0h0M515.9 874.8h0M512.7 906.1h0M521.9 886.6h0M513.8 879.3h0M525.9 862.3h0M525.3 908.1h0M528.6 929.3h0M519.6 861.8h0M512.1 837.5h0M524.6 857.4h0M510.9 819.9h0M510.2 938.8h0M510.1 836.3h0M521.4 866.8h0M511.6 935.1h0M519.5 873.2h0M520.1 847.9h0M522.7 901.3h0M520.0 845.6h0M517.9 866.5h0M510.7 891.4h0M514.7 825.6h0M519.3 926.6h0M513.2 850.3h0M519.7 910.7h0M515.9 887.9h0M528.8 909.6h0M525.2 871.9h0M520.4 922.2h0M525.1 905.3h0M514.3 893.2h0M529.0 785.0h0M515.5 890.5h0M521.6 921.9h0M516.5 878.8h0M523.0 894.5h0M523.3 834.8h0M510.3 903.6h0M524.8 841.6h0M514.2 826.3h0M523.7 838.6h0M523.0 840.7h0M522.2 885.0h0M526.0 905.6h0M523.8 906.3h0M525.8 902.0h0M521.4 863.2h0M524.5 881.1h0M525.3 908.1h0M525.9 943.6h0M525.4 932.0h0M515.9 872.8h0M527.8 837.1h0M511.2 895.4h0M515.2 895.2h0M520.3 900.1h0M517.0 849.0h0M515.4 868.0h0M527.9 931.2h0M514.5 896.1h0M511.0 892.4h0M522.6 835.2h0M521.2 829.6h0M522.6 862.8h0M517.1 858.8h0M512.5 903.0h0M529.2 901.6h0M528.8 932.0h0M511.3 890.5h0M515.7 865.1h0M514.1 846.5h0M518.3 796.9h0M514.6 801.3h0M519.6 809.4h0M525.7 852.3h0M514.4 867.5h0M521.7 833.6h0M525.8 842.8h0M519.6 857.3h0M515.4 943.3h0M512.7 920.3h0M510.8 879.5h0M516.2 929.9h0M516.6 870.0h0M526.0 854.8h0M515.7 838.8h0M514.6 856.3h0M515.6 917.0h0M511.2 914.7h0M509.9 860.8h0M511.6 811.0h0M516.5 919.9h0M514.7 847.9h0M513.3 921.2h0M527.5 871.1h0M513.8 921.9h0M525.1 937.7h0M520.3 849.7h0M513.8 903.5h0M519.9 903.4h0M522.8 938.1h0M515.9 847.1h0M520.2 807.3h0M520.3 868.1h0M525.2 933.0h0M510.1 920.0h0M525.6 900.9h0M518.1 879.6h0M517.3 832.0h0M523.7 871.2h0M512.0 841.4h0M523.8 933.8h0M522.8 895.1h0M520.5 872.7h0M517.8 922.4h0M514.0 921.9h0M524.0 892.4h0M528.8 933.8h0M512.6 890.2h0M516.5 848.9h0M512.8 815.1h0M516.7 906.3h0M523.8 923.2h0M521.8 879.3h0M510.5 881.9h0M517.2 925.5h0M513.6 848.7h0M527.7 865.1h0M512.1 900.6h0M518.2 924.8h0M526.9 870.5h0M526.3 933.4h0M521.2 835.8h0M522.2 885.7h0M524.3 893.1h0M528.2 900.0h0M513.3 799.7h0M523.2 923.1h0M524.2 864.2h0M522.9 905.3h0M511.1 880.7h0M528.5 909.3h0M525.2 886.7h0M512.6 937.3h0M512.6 845.0h0M516.1 874.2h0M515.0 925.8h0M521.2 938.7h0M513.4 868.6h0M511.6 921.4h0M513.9 846.3h0M520.4 855.6h0M521.0 868.1h0M518.9 784.8h0M522.7 937.2h0M517.0 864.0h0M523.6 944.2h0M528.0 845.8h0M521.2 859.7h0M517.9 924.5h0M520.0 918.6h0M511.6 925.4h0M520.2 842.4h0M511.5 864.6h0M516.4 899.4h0M511.8 842.0h0M514.4 859.2h0M528.1 875.8h0M520.5 848.2h0M514.6 832.6h0M521.8 828.4h0M525.7 913.8h0M520.0 870.8h0M520.7 921.9h0M526.2 882.5h0M513.5 942.0h0M527.9 926.6h0M510.1 934.3h0M528.4 900.3h0M527.3 823.6h0M513.6 895.3h0M521.3 812.5h0M522.5 867.0h0M520.4 854.5h0M517.1 880.5h0M518.0 907.7h0M517.1 899.1h0M510.5 928.0h0M515.0 901.1h0M511.7 886.5h0M519.0 920.8h0M527.8 842.8h0M520.1 858.2h0M513.5 849.2h0M511.6 820.3h0M518.2 931.2h0M511.9 824.2h0M528.8 849.3h0M512.5 881.4h0M514.2 899.7h0M513.0 870.3h0M519.7 906.1h0M517.0 897.7h0M512.1 825.6h0M528.0 942.9h0M528.4 873.1h0M529.3 809.2h0M511.3 899.5h0M519.2 837.3h0M522.5 924.9h0M517.9 877.8h0M515.6 835.6h0M523.6 815.9h0M517.4 848.6h0M520.1 831.6h0M523.2 859.4h0M524.0 841.1h0M522.6 857.0h0M525.4 929.5h0M514.8 945.4h0M525.3 885.1h0M522.3 916.0h0M522.4 873.2h0M510.2 934.7h0M524.4 939.4h0M520.5 854.6h0M513.0 827.8h0M510.3 881.7h0M526.5 904.4h0M522.4 805.2h0M515.9 864.0h0M525.6 832.9h0M514.6 902.4h0M511.4 841.2h0M517.6 923.3h0M528.5 923.0h0M512.4 944.3h0M514.4 893.5h0M527.6 871.3h0M511.3 861.8h0M513.9 907.5h0M520.2 916.7h0M515.7 860.3h0M521.1 918.4h0M513.6 898.7h0M526.6 852.9h0M517.4 866.2h0M513.5 829.6h0M511.5 818.0h0M513.3 921.7h0M523.2 910.0h0M524.6 901.1h0M521.8 863.3h0M528.2 844.0h0M521.2 849.4h0M516.2 876.6h0M529.0 910.5h0M529.2 895.9h0M521.7 815.1h0M528.5 857.1h0M524.5 886.5h0M510.7 798.5h0M515.5 839.8h0M529.0 858.6h0M526.0 864.0h0M527.8 871.7h0M516.6 932.8h0M510.5 925.1h0M512.4 881.4h0M515.7 914.7h0M522.9 919.8h0M512.6 906.8h0M527.4 913.2h0M527.5 929.8h0M516.1 834.8h0M511.7 893.3h0M516.5 939.9h0M511.2 852.5h0M510.3 933.4h0M512.5 883.4h0M524.8 923.7h0M515.3 884.4h0M514.9 870.2h0M515.7 888.9h0M516.5 887.6h0M526.6 862.2h0M513.5 849.3h0M528.5 898.6h0M522.8 873.5h0M510.6 891.0h0M510.5 871.6h0M523.5 919.7h0M523.6 938.2h0M528.7 864.7h0M524.1 860.8h0M512.6 860.6h0M524.4 876.9h0M512.8 936.8h0M517.0 909.7h0M522.5 812.9h0M527.4 895.9h0M526.0 927.4h0M523.9 935.5h0M514.6 871.9h0M511.8 897.6h0M519.5 791.5h0M522.2 856.2h0M513.3 884.2h0M520.0 902.2h0M522.3 828.2h0M523.7 905.5h0M521.6 885.0h0M528.8 852.9h0M518.0 883.7h0M523.6 878.0h0M515.8 830.5h0M525.6 897.6h0M519.8 921.8h0M517.1 875.5h0M511.6 887.9h0M511.1 798.9h0M510.3 834.8h0M517.7 904.6h0M528.1 858.3h0M518.9 826.6h0M511.7 913.8h0M520.3 852.7h0M521.1 879.2h0M510.6 794.0h0M513.5 857.1h0M511.8 841.9h0M523.7 904.4h0M512.5 944.5h0M522.9 843.7h0M517.1 897.7h0M521.6 925.3h0M511.2 825.7h0M521.2 917.0h0M512.6 829.9h0M524.2 903.9h0M523.4 890.6h0M526.8 906.9h0M514.5 870.7h0M517.7 861.2h0M521.4 806.4h0M515.9 936.8h0M511.8 934.2h0M529.1 851.8h0M520.2 846.7h0M517.6 865.5h0M518.2 922.9h0M522.5 934.2h0M524.4 939.8h0M525.8 899.4h0M516.9 926.0h0M512.1 919.7h0M513.2 932.3h0M510.6 876.6h0M526.9 840.7h0M526.6 910.0h0M519.7 831.5h0M527.4 893.7h0M523.3 931.4h0M510.7 902.7h0M510.1 931.8h0M513.9 784.3h0M517.1 845.0h0M524.9 833.0h0M512.0 938.9h0M525.9 876.5h0M514.7 847.1h0M517.4 817.1h0M517.3 812.8h0M519.2 900.1h0M511.9 915.2h0M518.5 909.4h0M519.9 866.7h0M520.1 919.5h0M517.2 911.2h0M510.0 911.4h0M524.1 880.0h0M525.5 945.3h0M521.3 896.3h0M519.7 875.8h0M511.9 845.4h0M512.8 869.4h0M525.4 889.1h0M512.7 834.3h0M521.5 896.0h0M520.3 855.3h0M515.5 819.5h0M519.6 915.3h0M516.0 807.9h0M522.4 816.2h0M511.6 898.4h0M511.7 869.4h0M517.4 857.4h0M513.9 865.2h0M518.3 820.7h0M523.7 901.8h0M517.4 873.4h0M512.8 853.8h0M515.0 884.3h0M524.0 827.5h0M521.8 872.0h0M511.7 932.0h0M525.8 871.3h0M527.1 850.5h0M526.0 943.3h0M512.5 887.1h0M519.7 856.5h0M529.0 942.6h0M518.8 863.6h0M514.4 821.1h0M521.6 847.8h0M519.5 878.9h0M511.8 837.1h0M513.6 920.9h0M524.6 855.2h0M517.9 874.9h0M510.0 912.9h0M526.9 886.7h0M527.7 811.0h0M511.8 943.5h0M512.8 903.5h0M524.0 827.9h0M511.4 829.6h0M519.9 856.1h0M512.1 865.5h0M523.3 933.5h0M526.6 925.8h0M523.8 789.3h0M528.6 812.0h0M516.1 883.0h0M523.2 889.6h0M528.0 896.3h0M523.4 794.3h0M527.9 879.4h0M524.5 887.0h0M524.8 886.2h0M516.2 924.9h0M511.2 843.8h0M525.4 905.1h0M522.5 919.4h0M520.6 836.2h0M528.3 855.2h0M515.2 889.7h0M513.4 935.9h0M514.7 851.0h0M528.7 945.6h0M524.0 913.6h0M527.1 913.2h0M515.1 901.2h0M513.7 804.8h0M527.1 861.9h0M524.9 926.8h0M513.9 883.8h0M513.1 883.8h0M521.3 832.3h0M527.4 847.8h0M521.0 857.9h0M518.6 851.4h0M524.5 896.9h0M517.1 866.5h0M526.0 855.1h0M520.7 916.3h0M525.0 938.7h0M524.6 873.0h0M529.2 864.4h0M519.9 859.3h0M522.4 937.1h0M527.7 846.5h0M518.2 808.4h0M519.6 933.8h0M514.3 863.7h0M512.0 898.0h0M516.0 845.6h0M521.1 862.6h0M513.9 869.5h0M509.8 795.2h0M526.8 845.6h0M523.5 925.0h0M511.0 881.8h0M515.0 936.2h0M517.0 820.9h0M528.3 887.8h0M510.7 828.5h0M527.4 908.4h0M510.5 923.8h0M522.2 858.3h0M513.5 825.9h0M512.9 869.3h0M523.0 839.8h0M518.8 906.8h0M513.1 915.5h0M518.0 940.1h0M526.9 836.4h0M526.6 912.1h0M527.6 860.8h0M524.3 898.3h0M517.7 891.4h0M521.1 878.2h0M513.6 915.5h0M513.8 945.0h0M521.2 870.7h0M526.4 864.3h0M513.0 854.2h0M522.7 828.7h0M519.3 930.5h0M523.5 866.1h0M522.3 889.8h0M526.1 833.8h0M512.6 892.9h0M514.4 861.6h0M526.4 915.3h0M510.0 931.0h0M522.7 940.7h0M526.9 802.5h0M525.3 852.5h0M514.8 819.3h0M512.9 892.8h0M512.8 879.5h0M521.0 935.4h0M520.1 934.9h0M521.2 907.1h0M519.2 914.2h0M511.3 896.7h0M526.0 867.3h0M528.5 936.1h0M511.8 862.1h0M525.8 832.2h0M512.5 829.8h0M525.2 935.2h0M526.2 901.9h0M520.8 938.9h0M514.2 883.4h0M521.4 917.2h0M511.6 840.9h0M527.2 821.1h0M515.7 882.8h0M521.6 875.4h0M527.8 869.7h0M515.1 891.0h0M524.3 813.1h0M513.1 928.8h0M515.8 905.4h0M527.4 902.1h0M516.8 866.7h0M518.7 860.3h0M516.2 872.8h0M527.0 874.5h0M526.4 810.2h0M524.2 881.4h0M522.3 876.8h0M513.0 905.9h0M519.7 931.7h0M514.5 857.5h0M523.2 893.5h0M518.2 917.5h0M519.9 938.2h0M524.4 805.1h0M514.9 859.2h0M519.5 929.0h0M512.9 866.9h0M522.3 926.1h0M522.6 794.0h0M518.2 855.6h0M529.1 928.1h0M521.0 850.0h0M522.9 892.0h0M523.4 850.0h0M520.7 879.3h0M516.6 939.0h0M510.1 873.9h0M526.8 917.5h0M512.0 877.2h0M526.4 854.6h0M512.6 891.8h0M512.3 876.0h0M517.4 926.7h0M525.9 890.0h0M523.3 822.3h0M510.9 895.7h0M520.8 933.9h0M518.8 940.0h0M522.4 808.7h0M522.9 895.9h0M523.6 933.4h0M522.4 845.7h0M513.4 940.3h0M527.2 802.3h0M520.3 880.1h0M526.6 912.5h0M511.6 921.6h0M516.7 847.1h0M511.0 871.6h0M521.5 838.5h0M525.6 803.3h0M525.2 803.5h0M511.3 899.4h0M525.2 863.9h0M521.0 864.2h0M526.0 880.4h0M516.8 907.4h0M520.5 833.3h0M519.8 845.5h0M511.8 862.1h0M521.0 808.8h0M514.2 840.3h0M521.0 875.1h0M516.1 846.9h0M528.8 823.9h0M514.1 898.2h0M512.6 916.3h0M515.4 875.3h0M518.6 861.3h0M522.8 909.2h0M519.4 832.8h0M521.2 868.3h0M515.3 906.4h0M514.6 905.8h0M517.5 794.7h0M516.0 912.9h0M527.8 900.9h0M522.5 882.1h0M516.6 882.9h0M524.6 817.6h0M515.9 865.2h0M515.6 923.1h0M529.1 865.7h0M526.5 913.2h0M510.8 864.1h0M523.3 840.3h0M514.8 897.6h0M510.3 859.2h0M523.7 944.8h0M525.4 882.1h0M518.4 838.5h0M516.7 866.5h0M519.0 878.7h0M514.4 827.5h0M528.5 867.0h0M513.1 925.1h0M517.0 922.5h0M528.5 900.3h0M526.5 863.0h0M524.4 868.3h0M521.6 928.9h0M522.0 898.9h0M517.1 924.8h0M521.9 922.1h0M513.6 932.3h0M522.5 831.7h0M522.4 876.1h0M510.3 890.7h0M513.1 819.8h0M525.7 898.2h0M515.2 891.4h0M512.0 903.8h0M521.2 821.3h0M512.8 843.4h0M510.4 939.5h0M522.8 874.5h0M516.8 935.4h0M523.2 866.5h0M513.2 887.9h0M521.3 927.9h0M525.1 884.3h0M515.5 882.3h0M520.6 824.4h0M515.3 912.8h0M519.1 934.6h0M511.5 902.6h0M520.5 913.7h0M526.8 849.1h0M528.8 921.2h0M518.5 825.3h0M511.4 878.8h0M513.7 865.9h0M515.8 860.4h0M510.1 945.4h0M515.4 799.8h0M512.1 913.7h0M510.6 828.8h0M514.4 945.2h0M513.0 915.8h0M515.5 836.3h0M525.9 869.4h0M529.3 919.8h0M524.3 869.3h0M514.9 919.3h0M514.3 912.6h0M524.9 940.7h0M524.1 859.0h0M516.9 886.9h0M525.8 876.6h0M517.7 874.8h0M520.3 888.7h0M524.2 849.1h0M522.9 858.5h0M526.5 945.8h0M527.0 922.9h0M526.4 930.7h0M519.0 878.4h0M527.9 880.8h0M513.8 871.5h0M523.8 937.1h0M515.1 840.6h0M515.7 900.4h0M527.9 879.0h0M522.3 900.7h0M524.4 921.1h0M520.5 943.4h0M518.8 785.1h0M515.0 855.5h0M515.0 890.2h0M521.5 890.1h0M520.2 872.3h0M521.8 920.9h0M520.2 888.0h0M519.8 829.7h0M528.2 917.2h0M518.0 929.2h0M521.0 858.1h0M526.9 881.7h0M510.3 863.6h0M520.0 839.8h0M527.8 878.1h0M519.3 891.9h0M522.9 891.9h0M528.5 919.8h0M510.6 882.0h0M510.2 933.5h0M529.0 929.1h0M513.3 926.8h0M527.5 890.3h0M519.4 890.4h0M529.2 874.8h0M520.8 855.6h0M520.4 940.8h0M516.2 800.5h0M512.4 926.5h0M528.0 840.5h0M511.0 827.1h0M528.9 888.2h0M524.7 939.5h0M523.1 869.3h0M527.8 889.3h0M527.2 928.5h0M521.9 914.6h0M522.3 894.3h0M515.2 830.0h0M516.7 910.9h0M522.2 877.7h0M523.1 798.8h0M529.3 892.4h0M514.1 828.8h0M528.0 842.4h0" stroke="#A466AC" stroke-width="2.7" stroke-linecap="round" fill="none" stroke-opacity="0.9"/><line x1="563.0" y1="815.9" x2="563.0" y2="879.6" stroke="#D6CC3E" stroke-width="0.9" /><line x1="563.0" y1="924.2" x2="563.0" y2="944.6" stroke="#D6CC3E" stroke-width="0.9" /><rect x="547.8" y="879.6" width="30.5" height="44.6" fill="none" stroke="#D6CC3E" stroke-width="0.9" /><line x1="547.8" y1="905.4" x2="578.3" y2="905.4" stroke="#D6CC3E" stroke-width="0.9" /><path d="M563.7 895.7h0M553.6 941.9h0M555.6 932.4h0M568.8 928.0h0M568.8 886.4h0M562.8 856.5h0M556.7 890.0h0M572.6 834.1h0M566.2 878.4h0M557.1 881.2h0M558.4 908.3h0M565.0 915.4h0M556.3 899.6h0M562.1 928.3h0M558.9 816.4h0M564.1 936.6h0M556.5 898.1h0M571.7 844.1h0M571.8 838.7h0M558.1 837.0h0M563.5 935.0h0M554.3 838.5h0M556.0 847.9h0M569.9 842.7h0M560.5 916.2h0M554.2 897.5h0M566.3 820.7h0M565.5 922.7h0M554.6 922.6h0M569.6 841.9h0M560.4 815.2h0M560.4 937.6h0M554.3 892.4h0M566.2 904.3h0M563.4 918.4h0M570.7 898.8h0M571.4 917.7h0M556.7 857.1h0M561.5 834.5h0M564.9 835.8h0M561.1 912.8h0M557.2 819.0h0M557.4 854.0h0M555.6 939.1h0M562.5 884.1h0M561.2 883.1h0M568.6 925.3h0M554.0 904.6h0M564.8 923.8h0M565.6 857.3h0M558.3 851.2h0M564.0 888.9h0M556.6 837.3h0M568.8 906.7h0M565.7 825.5h0M561.5 882.3h0M567.9 928.1h0M570.0 829.2h0M564.9 891.2h0M563.3 930.5h0M560.0 786.5h0" stroke="#D6CC3E" stroke-width="2.6" stroke-linecap="round" fill="none" stroke-opacity="0.9"/><text x="15.3" y="840.6" font-size="16.5" text-anchor="start" fill="#000" >J</text><text x="142.7" y="830.5" font-size="9.81" text-anchor="middle" fill="#222" >Latent CMV</text><text x="143.2" y="844.1" font-size="9.88" text-anchor="middle" fill="#222" >infection in PLHIV</text><defs>
<linearGradient id="gl" gradientUnits="userSpaceOnUse" x1="78.8" y1="949.4" x2="129.6" y2="852"><stop offset="0" stop-color="#9DB7E6"/><stop offset="1" stop-color="#1F3864"/></linearGradient>
<linearGradient id="gr" gradientUnits="userSpaceOnUse" x1="205.8" y1="949.4" x2="154.3" y2="852"><stop offset="0" stop-color="#9DB7E6"/><stop offset="1" stop-color="#1F3864"/></linearGradient>
<linearGradient id="gm" gradientUnits="userSpaceOnUse" x1="0" y1="905" x2="0" y2="851"><stop offset="0" stop-color="#ffffff"/><stop offset="1" stop-color="#C0603A"/></linearGradient>
<linearGradient id="gc" gradientUnits="userSpaceOnUse" x1="135" y1="933" x2="91" y2="957"><stop offset="0" stop-color="#ffffff"/><stop offset="1" stop-color="#8FAADC"/></linearGradient>
<linearGradient id="gp" gradientUnits="userSpaceOnUse" x1="148" y1="933" x2="193" y2="957"><stop offset="0" stop-color="#ffffff"/><stop offset="1" stop-color="#8FAADC"/></linearGradient>
</defs><path d="M80.1 950.1L128.2 858.0L129.7 858.8L129.6 852.0L123.9 855.8L125.5 856.6L77.5 948.7Z" fill="url(#gl)"/><path d="M207.1 948.7L158.4 856.6L160.0 855.8L154.3 852.0L154.2 858.8L155.8 858.0L204.5 950.1Z" fill="url(#gr)"/><path d="M143.7 905.0L143.7 856.0L145.3 856.0L142.3 851.0L139.3 856.0L140.9 856.0L140.9 905.0Z" fill="url(#gm)"/><path d="M132.7 932.7L94.8 954.9L93.9 953.4L90.8 959.0L97.2 959.0L96.3 957.5L134.3 935.3Z" fill="url(#gc)"/><path d="M150.3 936.3L188.2 957.6L187.3 959.1L193.7 959.0L190.5 953.5L189.6 955.0L151.7 933.7Z" fill="url(#gp)"/><text transform="translate(137.6,881.0) rotate(-90)" x="0" y="2.74" font-size="7.6" text-anchor="middle" fill="#333">GWAS</text><text transform="translate(148.8,880.5) rotate(-90)" x="0" y="2.81" font-size="7.8" text-anchor="middle" fill="#333">(protective)</text><text x="142.2" y="923.4" font-size="9.6" text-anchor="middle" fill="#111" font-weight="bold" >rs7180928-G</text><text x="20.0" y="959.2" font-size="10.24" text-anchor="start" fill="#222" >IL22 (7d, M. tb)</text><text x="193.4" y="958.8" font-size="9.21" text-anchor="start" fill="#222" >KIR2DS4</text><text transform="translate(111.6,941.2) rotate(-28)" x="0" y="2.74" font-size="7.6" text-anchor="middle" fill="#333">cQTL</text><text transform="translate(116.0,948.9) rotate(-28)" x="0" y="2.74" font-size="7.6" text-anchor="middle" fill="#333">(negative)</text><text transform="translate(171.0,940.7) rotate(28)" x="0" y="2.74" font-size="7.6" text-anchor="middle" fill="#333">pQTL</text><text transform="translate(164.0,949.4) rotate(28)" x="0" y="2.74" font-size="7.6" text-anchor="middle" fill="#333">(negative)</text>
</svg></body></html>
